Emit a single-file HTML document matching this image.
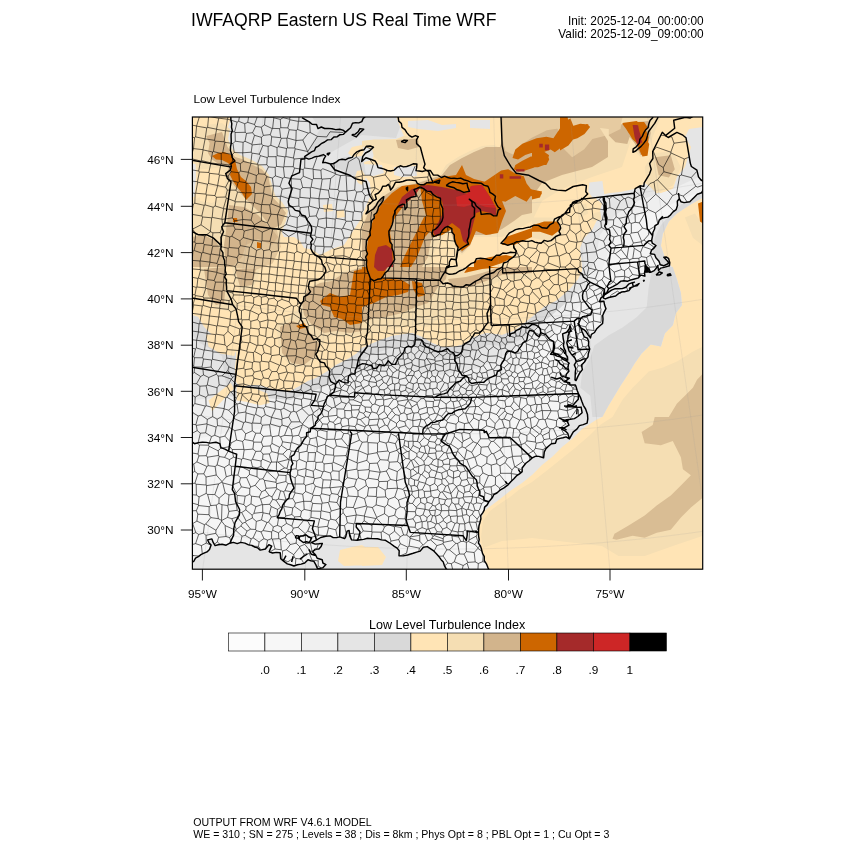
<!DOCTYPE html>
<html><head><meta charset="utf-8"><title>IWFAQRP Eastern US Real Time WRF</title>
<style>
html,body{margin:0;padding:0;background:#fff;}
svg{display:block;font-family:"Liberation Sans",sans-serif;fill:#000;}
</style></head><body>
<svg width="850" height="850" viewBox="0 0 850 850">
<rect width="850" height="850" fill="#fff"/>
<defs><clipPath id="mc"><rect x="192.4" y="117.0" width="510.3" height="452.2"/></clipPath></defs>
<g clip-path="url(#mc)">
<rect x="192.4" y="117.0" width="510.3" height="452.2" fill="#FFE4B5"/>
<defs><clipPath id="land"><path d="M187.1 562.9 L198.3 556.7 L209.5 549.5 L211.1 545.1 L207.7 539.9 L211.9 538.9 L215.1 545.6 L218.2 544.8 L229.8 543.2 L240.8 542.4 L248.6 544.9 L260.2 550.1 L265.4 549.0 L268.8 544.7 L271.7 546.2 L269.2 551.7 L276.2 552.4 L280.2 552.8 L280.7 558.7 L287.3 563.9 L297.4 564.8 L304.7 563.0 L308.0 559.8 L313.9 561.4 L317.5 568.7 L322.6 567.9 L325.9 564.6 L322.2 559.7 L317.2 558.2 L312.6 552.0 L318.9 549.0 L322.3 543.4 L315.2 544.1 L311.3 542.6 L316.5 540.0 L320.7 537.5 L325.8 536.3 L330.2 535.9 L336.7 537.5 L339.7 536.9 L344.6 538.6 L345.7 536.8 L347.1 531.1 L349.1 530.5 L349.8 535.9 L351.6 539.9 L357.1 540.2 L363.6 539.4 L371.6 538.6 L377.6 538.8 L385.5 540.3 L390.4 543.5 L394.3 546.4 L399.2 550.7 L399.0 555.8 L403.1 555.9 L407.5 555.0 L413.2 553.3 L420.2 551.1 L423.3 547.2 L427.3 546.6 L433.3 550.6 L439.3 557.1 L444.3 565.3 L446.3 569.2 L451.4 572.2 L453.4 581.5 L454.5 590.8 L498.5 590.1 L496.3 583.2 L489.9 571.8 L487.8 567.2 L482.5 553.4 L481.4 548.8 L479.2 539.6 L478.5 532.6 L479.0 525.7 L480.9 518.7 L482.7 512.9 L484.6 507.1 L488.8 501.8 L492.2 497.8 L496.9 493.0 L503.6 488.2 L508.3 484.6 L513.9 478.7 L519.5 473.9 L522.1 468.0 L525.8 463.3 L532.2 457.9 L538.8 456.4 L543.6 457.8 L544.3 452.0 L548.7 446.0 L556.8 439.3 L566.1 436.9 L569.4 438.9 L567.7 433.3 L561.8 429.1 L569.0 425.2 L563.1 421.0 L570.5 419.3 L577.8 416.5 L582.1 412.7 L581.1 407.1 L577.1 407.4 L565.9 407.0 L574.9 403.0 L578.3 399.3 L578.4 393.5 L576.1 386.8 L575.4 385.0 L569.9 385.0 L569.7 382.7 L564.2 381.9 L569.4 378.1 L565.7 377.2 L568.9 371.3 L568.4 364.4 L569.2 363.2 L562.6 359.1 L557.0 356.1 L550.6 354.2 L553.6 346.0 L553.5 341.4 L554.6 347.1 L553.2 352.9 L558.7 354.8 L567.7 360.1 L565.8 354.3 L563.4 345.3 L563.3 339.1 L562.6 333.9 L569.3 328.8 L570.0 325.4 L571.1 328.7 L568.1 335.8 L566.8 342.8 L568.0 347.3 L571.2 353.9 L575.1 358.2 L576.3 361.6 L575.3 372.0 L575.0 380.0 L576.0 380.6 L579.9 372.7 L584.5 362.0 L588.3 353.7 L589.7 349.0 L588.7 341.5 L584.2 336.8 L581.9 331.3 L578.7 324.7 L578.7 323.5 L580.8 328.0 L586.4 332.1 L590.5 337.9 L594.5 332.5 L599.3 326.3 L603.0 319.1 L604.1 312.1 L604.6 305.1 L603.9 301.3 L599.5 301.5 L600.9 297.9 L602.9 296.6 L603.9 292.6 L604.4 289.1 L604.5 293.7 L606.6 293.0 L608.7 288.6 L612.8 286.6 L617.7 283.8 L620.9 281.1 L630.3 280.1 L638.5 277.9 L644.5 276.0 L644.9 276.2 L645.1 269.5 L645.0 266.1 L647.1 269.3 L649.3 272.4 L650.6 272.3 L654.2 270.6 L657.8 265.5 L658.5 270.5 L664.1 267.4 L669.4 265.8 L669.8 262.7 L668.5 258.3 L666.1 257.0 L663.8 257.3 L667.2 260.8 L668.7 262.9 L667.1 264.2 L660.3 264.7 L659.0 261.2 L655.9 257.7 L654.6 254.4 L650.3 253.8 L651.5 250.2 L656.0 245.5 L652.3 243.2 L651.6 240.5 L652.6 235.7 L654.6 229.0 L658.1 223.9 L659.2 220.2 L664.7 217.6 L670.2 215.2 L676.1 209.7 L677.3 201.3 L679.3 198.7 L684.1 202.6 L689.8 201.7 L694.1 197.5 L701.6 192.7 L707.2 187.1 L707.1 184.8 L707.1 184.8 L705.6 182.7 L701.0 180.0 L698.5 176.9 L696.9 170.2 L691.4 166.5 L690.3 163.1 L686.0 137.7 L682.9 135.2 L676.9 132.4 L668.2 137.5 L665.5 135.6 L662.3 132.3 L652.7 151.5 L652.9 158.5 L649.6 163.6 L651.2 169.2 L649.5 174.1 L644.2 182.9 L643.8 186.4 L640.0 185.8 L635.2 188.7 L634.1 193.3 L634.1 193.3 L582.4 199.1 L582.4 199.1 L573.0 203.4 L565.6 213.2 L559.4 218.3 L557.1 221.2 L557.1 221.2 L559.9 225.1 L560.6 234.3 L555.7 236.5 L547.7 241.4 L537.8 242.7 L522.6 240.7 L513.6 243.4 L513.6 243.4 L513.8 247.8 L516.1 250.7 L516.5 252.3 L516.5 252.3 L512.5 257.7 L502.5 266.8 L496.8 269.7 L489.8 273.8 L481.7 277.4 L469.9 285.2 L459.6 286.9 L452.8 286.0 L451.1 284.2 L447.6 283.0 L439.9 280.3 L439.9 280.3 L442.5 275.5 L445.1 271.6 L446.8 266.6 L449.3 265.4 L451.0 259.0 L456.1 259.7 L456.6 255.5 L457.4 251.0 L456.0 244.1 L454.3 234.9 L451.8 228.7 L447.7 226.4 L442.7 229.9 L440.2 234.2 L433.6 236.7 L432.8 230.3 L437.8 226.9 L441.9 221.2 L442.8 213.1 L442.8 208.5 L440.7 203.9 L440.4 198.2 L433.2 194.7 L426.8 191.1 L420.0 186.9 L420.0 186.9 L414.0 189.7 L416.2 196.2 L411.3 197.2 L406.4 199.9 L407.0 206.8 L405.0 209.7 L404.7 204.4 L402.2 204.3 L398.1 206.5 L394.7 211.0 L394.9 212.6 L393.0 221.3 L390.7 228.1 L389.0 234.9 L392.1 244.6 L393.9 255.0 L392.2 263.7 L388.2 270.4 L381.0 278.8 L374.1 280.8 L370.4 278.7 L370.4 278.7 L369.0 274.5 L366.4 264.8 L366.7 260.2 L366.0 247.6 L369.9 231.7 L371.1 223.7 L374.0 214.7 L378.5 206.8 L383.8 196.7 L382.2 197.8 L376.1 205.6 L370.1 211.0 L365.9 213.8 L368.0 205.2 L373.1 200.8 L378.4 193.0 L382.7 186.3 L388.4 184.3 L390.6 190.1 L394.9 183.4 L395.7 182.2 L406.2 180.3 L415.8 180.5 L420.2 184.8 L420.2 184.8 L426.9 182.6 L433.3 182.7 L431.8 179.7 L430.2 176.2 L428.7 171.6 L426.3 170.4 L426.3 170.4 L422.3 171.5 L416.0 170.6 L416.9 164.0 L409.8 165.4 L400.3 165.8 L390.6 171.0 L384.3 169.1 L378.0 167.6 L375.2 161.0 L370.5 159.2 L365.9 157.7 L361.7 161.4 L362.8 156.4 L369.4 151.0 L373.5 147.3 L366.5 146.2 L360.0 150.5 L354.3 154.2 L348.5 158.2 L342.1 159.2 L330.6 164.0 L325.1 162.4 L322.7 162.7 L325.7 156.0 L323.4 154.6 L318.6 156.1 L308.8 159.1 L304.2 157.4 L304.2 156.8 L311.5 151.9 L318.4 146.1 L324.6 142.0 L333.9 137.0 L340.0 134.7 L345.6 132.1 L345.6 132.1 L339.7 129.3 L328.1 128.4 L318.0 128.6 L309.3 121.9 L302.0 117.7 L294.8 113.4 L279.8 109.3 L265.5 100.5 L234.2 84.1 L162.9 70.9 L54.9 577.2 L167.5 597.6 L182.1 569.2Z M603.0 297.9 L605.4 298.9 L615.6 296.0 L628.9 290.6 L639.1 283.6 L635.3 285.7 L629.5 288.2 L632.3 282.6 L625.9 287.2 L618.3 288.8 L611.5 290.2 L606.9 293.4 L604.5 294.8 L603.0 297.9Z"/></clipPath></defs>
<path d="M192.0 315.0 L198.0 317.0 L204.0 327.0 L212.0 335.0 L222.0 341.0 L232.0 347.0 L236.0 353.0 L235.0 367.0 L235.0 381.0 L240.0 387.0 L252.0 385.0 L258.0 385.0 L272.0 389.0 L288.0 392.0 L298.0 387.0 L308.0 381.0 L316.0 378.0 L328.0 371.0 L336.0 365.0 L348.0 359.0 L356.0 354.0 L362.0 348.0 L378.0 341.0 L392.0 336.0 L412.0 333.0 L422.0 337.0 L432.0 343.0 L442.0 347.0 L452.0 347.0 L462.0 345.0 L474.0 337.0 L486.0 333.0 L502.0 335.0 L514.0 331.0 L522.0 325.0 L532.0 317.0 L544.0 307.0 L556.0 301.0 L568.0 291.0 L578.0 279.0 L582.0 271.0 L582.0 267.0 L580.0 248.0 L584.0 238.0 L592.0 230.0 L598.0 218.0 L602.0 203.5 L596.0 199.0 L600.0 195.0 L610.0 193.0 L620.0 192.0 L630.0 190.0 L638.0 188.0 L644.7 183.0 L652.7 188.0 L660.8 193.5 L672.8 189.5 L676.9 177.0 L685.0 167.0 L691.0 147.0 L685.0 137.0 L689.0 129.0 L703.0 127.0 L703.0 197.5 L689.0 205.5 L677.0 213.5 L669.0 221.6 L663.0 233.7 L661.0 245.8 L665.0 258.0 L672.0 267.0 L677.0 279.0 L681.0 293.0 L682.0 305.0 L676.0 313.0 L673.0 325.0 L665.0 333.0 L661.0 346.5 L650.7 344.5 L641.7 353.5 L634.6 363.6 L628.6 373.6 L620.5 385.7 L614.5 395.8 L608.5 405.8 L602.0 417.0 L596.0 420.0 L582.0 429.0 L572.0 439.0 L562.0 447.0 L552.0 457.0 L542.0 465.0 L532.0 475.0 L522.0 483.0 L510.0 491.0 L500.0 499.0 L492.0 505.0 L484.0 511.0 L480.0 521.0 L478.4 537.0 L482.0 555.0 L489.0 569.0 L192.0 569.0Z M231.0 117.0 L228.0 127.0 L225.6 137.0 L227.0 147.0 L233.0 151.0 L235.0 157.0 L242.0 158.0 L250.0 162.0 L259.0 167.0 L266.4 174.0 L271.0 183.0 L270.0 191.0 L274.0 197.0 L280.0 203.0 L286.0 211.0 L282.4 221.0 L280.0 229.0 L284.0 237.0 L294.0 237.0 L300.0 241.0 L304.0 248.0 L312.0 249.4 L320.0 255.0 L332.0 249.0 L344.0 245.0 L353.0 231.0 L361.0 219.0 L366.0 206.0 L371.0 195.0 L370.0 183.0 L364.0 175.0 L364.0 162.0 L372.0 160.0 L375.0 152.0 L372.0 147.0 L362.0 141.0 L396.0 139.0 L404.0 136.0 L400.0 127.0 L396.0 117.0Z M192.0 163.4 L195.6 164.0 L196.0 177.0 L194.4 197.0 L192.0 197.0Z M362.0 164.0 L382.0 165.0 L384.0 173.0 L374.0 176.0 L362.0 175.0Z M394.0 167.0 L416.0 166.0 L417.0 176.0 L402.0 177.0 L394.0 175.0Z M408.0 121.0 L428.0 120.0 L442.0 125.0 L456.0 124.0 L456.0 128.0 L438.0 131.0 L418.0 129.0 L408.0 127.0Z M470.0 120.0 L490.0 120.0 L490.0 129.0 L470.0 128.0Z M598.4 375.6 L608.4 371.6 L616.5 373.6 L614.5 387.7 L606.4 399.8 L598.4 403.8 L595.4 391.7Z M589.3 182.4 L602.4 181.0 L604.4 195.5 L592.4 197.5 L588.3 191.4Z" fill="#E5E5E5"/>
<path d="M304.0 159.0 L316.0 156.0 L330.0 153.0 L344.0 145.0 L362.0 135.0 L396.0 138.0 L400.0 127.0 L396.0 117.0 L312.0 117.0 L320.0 129.0 L312.0 143.0Z M332.0 165.0 L362.0 181.0 L366.0 175.0 L364.0 162.0 L362.0 156.0 L344.0 157.0Z M192.0 315.0 L198.0 317.0 L204.0 327.0 L212.0 335.0 L222.0 341.0 L232.0 347.0 L236.0 353.0 L235.0 367.0 L235.0 381.0 L240.0 387.0 L252.0 385.0 L258.0 385.0 L272.0 389.0 L288.0 392.0 L298.0 387.0 L308.0 381.0 L316.0 378.0 L328.0 371.0 L336.0 365.0 L348.0 359.0 L356.0 354.0 L362.0 348.0 L378.0 341.0 L392.0 336.0 L412.0 333.0 L422.0 337.0 L432.0 343.0 L442.0 347.0 L452.0 347.0 L462.0 345.0 L474.0 337.0 L486.0 333.0 L502.0 335.0 L514.0 331.0 L522.0 325.0 L532.0 317.0 L544.0 307.0 L556.0 301.0 L568.0 291.0 L574.0 297.0 L560.0 310.0 L545.0 320.0 L532.0 330.0 L520.0 340.0 L505.0 346.0 L488.0 345.0 L476.0 350.0 L462.0 358.0 L448.0 360.0 L432.0 356.0 L420.0 349.0 L410.0 345.0 L392.0 348.0 L376.0 353.0 L362.0 360.0 L350.0 370.0 L338.0 378.0 L326.0 385.0 L312.0 392.0 L298.0 399.0 L286.0 404.0 L270.0 401.0 L255.0 397.0 L240.0 400.0 L228.0 395.0 L224.0 372.0 L222.0 356.0 L212.0 350.0 L200.0 343.0 L192.0 335.0Z M672.8 267.0 L676.8 279.1 L680.9 293.2 L681.9 305.2 L675.8 313.3 L672.8 325.3 L664.8 333.4 L660.8 346.5 L650.7 344.5 L641.6 353.5 L634.6 363.6 L628.6 373.6 L620.5 385.7 L614.5 395.8 L608.4 405.8 L602.4 417.1 L592.4 417.1 L590.3 395.8 L580.3 387.7 L582.3 371.6 L590.3 357.5 L594.4 345.5 L608.4 335.4 L622.5 327.4 L636.6 317.3 L646.7 307.2 L648.7 287.1 L652.7 267.0Z M703.0 197.5 L688.9 205.5 L676.8 213.6 L668.8 221.6 L662.8 233.7 L660.8 245.8 L664.8 257.8 L670.8 267.1 L656.7 267.1 L652.7 253.8 L654.7 237.7 L660.8 225.6 L670.8 213.6 L684.9 201.5 L703.0 191.4Z" fill="#D9D9D9"/>
<path d="M192.0 400.0 L240.0 396.0 L290.0 400.0 L330.0 385.0 L362.0 372.0 L400.0 368.0 L440.0 375.0 L480.0 368.0 L510.0 352.0 L535.0 330.0 L560.0 308.0 L580.0 290.0 L595.0 262.0 L600.0 235.0 L615.0 215.0 L640.0 200.0 L670.0 190.0 L703.0 175.0 L703.0 569.0 L192.0 569.0Z" fill="#EFEFEF" clip-path="url(#land)"/>
<path d="M192.0 440.0 L230.0 432.0 L270.0 428.0 L300.0 425.0 L330.0 415.0 L350.0 405.0 L362.0 398.0 L390.0 396.0 L420.0 402.0 L450.0 400.0 L480.0 392.0 L505.0 380.0 L525.0 362.0 L545.0 342.0 L565.0 322.0 L585.0 300.0 L598.0 280.0 L605.0 262.0 L612.0 240.0 L625.0 225.0 L640.0 215.0 L660.0 210.0 L680.0 200.0 L703.0 190.0 L703.0 569.0 L192.0 569.0Z" fill="#F5F5F5" clip-path="url(#land)"/>
<path d="M362.0 145.0 L352.0 147.0 L348.0 153.0 L352.0 157.0 L362.0 156.0 L364.0 151.0Z M362.0 170.0 L357.0 171.0 L355.0 177.0 L358.0 183.0 L362.0 185.0 L366.0 177.0Z M323.0 205.0 L332.0 204.0 L333.0 211.0 L324.0 212.0Z M336.0 211.0 L344.0 210.0 L345.0 217.0 L337.0 218.0Z M236.7 386.5 L253.2 387.6 L267.3 393.5 L269.6 402.9 L260.2 405.3 L246.1 401.8 L236.7 400.6Z M208.5 400.6 L220.2 391.2 L230.8 382.9 L233.9 388.8 L222.6 400.6 L212.0 411.2Z M206.1 334.7 L227.3 332.4 L236.7 344.1 L234.4 355.9 L220.2 353.5 L208.5 346.5Z" fill="#FFE4B5"/>
<path d="M703.0 346.5 L693.0 351.5 L677.0 361.6 L663.0 367.6 L648.7 371.6 L640.7 379.7 L632.6 387.7 L622.5 399.8 L612.5 417.0 L600.0 425.0 L590.0 435.0 L575.0 448.0 L560.0 460.0 L545.0 472.0 L532.0 482.0 L520.0 489.0 L510.0 497.0 L498.0 505.0 L490.0 511.0 L483.0 521.0 L481.0 537.0 L483.0 548.0 L502.0 541.0 L532.0 538.0 L602.0 546.0 L618.5 556.0 L644.7 556.0 L672.8 546.0 L703.0 535.7Z M196.0 129.0 L206.0 125.0 L222.0 123.0 L230.0 129.0 L228.0 139.0 L232.0 149.0 L240.0 155.0 L252.0 160.0 L262.0 166.0 L269.0 175.0 L272.0 185.0 L275.0 195.0 L282.0 202.0 L288.0 211.0 L286.0 221.0 L282.0 231.0 L280.0 245.0 L276.0 257.0 L262.0 267.0 L192.0 267.0 L192.0 201.0 L200.0 197.0 L198.0 177.0 L196.0 164.0 L192.0 162.0 L192.0 147.0 L195.0 137.0Z M362.0 141.0 L374.0 139.4 L396.0 139.4 L404.0 136.0 L418.0 138.0 L420.0 147.0 L422.0 157.0 L424.0 165.0 L414.0 166.0 L402.0 167.0 L382.0 162.6 L374.0 157.0 L372.0 149.0 L362.0 147.0Z M440.0 175.0 L446.0 165.0 L458.0 157.0 L470.0 151.0 L482.0 146.0 L494.0 145.0 L502.0 149.0 L502.0 117.0 L622.0 117.0 L632.0 137.0 L622.0 167.0 L592.0 177.0 L562.0 189.0 L542.0 201.0 L532.0 221.0 L518.0 229.0 L502.0 237.0 L490.0 237.0 L474.0 237.0 L470.0 247.0 L462.0 255.0 L456.0 249.0 L450.0 231.0 L444.0 237.0 L438.0 245.0 L432.0 257.0 L430.0 267.0 L362.0 267.0 L362.0 225.0 L370.0 207.0 L382.0 193.0 L398.0 185.0 L420.0 181.0Z M532.0 117.0 L652.7 117.0 L644.7 129.1 L636.6 141.1 L622.5 137.1 L608.4 134.1 L590.3 140.1 L583.3 149.2 L581.3 161.3 L572.2 168.3 L562.2 177.4 L552.1 176.3 L532.0 179.4Z M636.6 141.1 L644.7 129.1 L652.7 117.0 L660.8 117.0 L652.7 137.1 L646.7 153.2 L640.6 157.2 L632.6 149.2Z M532.0 217.6 L562.2 217.6 L564.2 233.7 L552.1 241.7 L532.0 237.7Z M652.7 153.2 L672.8 151.2 L680.9 167.3 L672.8 185.4 L656.7 193.4 L646.7 183.4 L644.7 167.3Z M684.9 217.6 L695.0 213.6 L703.0 225.6 L703.0 245.8 L692.9 237.7Z M578.3 205.5 L586.3 203.5 L588.3 213.6 L580.3 217.6Z M592.4 213.6 L600.4 211.6 L601.4 219.6 L592.4 221.6Z M200.0 267.0 L226.0 267.0 L228.0 279.0 L232.0 291.0 L238.0 307.0 L232.0 313.0 L216.0 307.0 L204.0 297.0 L200.0 283.0Z M232.0 267.0 L260.0 267.0 L258.0 279.0 L252.0 289.0 L240.0 291.0 L234.0 279.0Z M276.0 325.0 L288.0 319.0 L300.0 307.0 L304.0 291.0 L316.0 283.0 L332.0 279.0 L344.0 271.0 L362.0 267.0 L362.0 333.0 L352.0 337.0 L336.0 335.0 L320.0 343.0 L316.0 355.0 L308.0 367.0 L292.0 367.0 L280.0 355.0Z M362.0 267.0 L532.0 267.0 L532.0 279.0 L502.0 279.0 L490.0 287.0 L482.0 301.0 L474.0 313.0 L458.0 319.0 L446.0 315.0 L438.0 319.0 L428.0 327.0 L412.0 325.0 L392.0 329.0 L372.0 333.0 L362.0 335.0Z" fill="#F5DEB3"/>
<path d="M340.0 550.0 L352.0 547.0 L362.0 545.0 L368.0 549.0 L372.0 557.0 L368.0 565.0 L344.0 566.0 L338.0 561.0Z M362.0 547.0 L378.0 547.0 L386.0 557.0 L382.0 565.0 L362.0 566.0Z M199.0 169.4 L222.0 167.4 L225.6 177.0 L224.0 197.0 L212.0 203.0 L200.0 201.0Z" fill="#FFE4B5"/>
<path d="M206.0 136.0 L222.0 132.0 L227.6 147.0 L235.0 157.0 L242.0 159.0 L252.0 164.6 L262.0 169.4 L268.4 177.0 L270.4 187.0 L272.4 197.0 L280.0 205.0 L286.0 213.0 L281.0 225.0 L272.0 229.0 L260.0 213.0 L250.0 203.0 L240.0 193.0 L232.0 183.0 L226.0 175.0 L229.0 167.0 L218.0 163.4 L212.0 159.4 L208.0 153.0 L209.6 143.0Z M229.0 205.0 L244.0 207.0 L258.0 215.0 L272.0 229.0 L278.0 237.0 L272.0 245.0 L258.0 239.0 L246.0 245.0 L242.0 257.0 L232.0 267.0 L226.0 267.0 L224.0 245.0 L227.0 225.0Z M192.0 237.0 L204.0 235.0 L216.0 241.0 L222.0 253.0 L224.0 267.0 L192.0 267.0Z M442.0 175.0 L450.0 165.0 L462.0 158.0 L474.0 152.0 L486.0 147.0 L500.0 147.0 L502.0 141.0 L502.0 117.0 L582.0 117.0 L598.0 125.0 L608.0 141.0 L608.0 157.0 L592.0 167.0 L562.0 175.0 L542.0 183.0 L532.0 197.0 L532.0 213.0 L522.0 215.0 L514.0 221.0 L502.0 229.0 L490.0 235.0 L474.0 235.0 L470.0 245.0 L462.0 253.0 L456.0 247.0 L450.0 229.0 L442.0 235.0 L432.0 237.0 L430.0 245.0 L428.0 257.0 L422.0 267.0 L362.0 267.0 L362.0 229.0 L368.0 213.0 L382.0 197.0 L398.0 187.0 L418.0 183.0Z M396.0 140.0 L418.0 138.6 L419.0 147.0 L408.0 150.0 L398.0 148.0Z M572.2 117.0 L622.5 117.0 L620.5 125.0 L608.4 129.1 L592.4 127.1 L580.3 131.1 L572.2 127.1Z M622.5 123.0 L648.7 121.0 L650.7 133.1 L646.7 149.2 L640.6 155.2 L634.6 143.2 L626.6 133.1Z M654.7 157.2 L670.8 155.2 L674.8 169.3 L668.8 177.4 L658.7 175.3Z M204.0 269.0 L224.0 267.0 L226.0 283.0 L224.0 303.0 L216.0 305.0 L208.0 295.0Z M235.0 269.0 L256.0 269.0 L252.0 285.0 L240.0 287.0Z M280.0 327.0 L292.0 321.0 L304.0 325.0 L312.0 335.0 L320.0 345.0 L314.0 357.0 L304.0 365.0 L292.0 363.0 L282.0 353.0Z M302.0 303.0 L308.0 289.0 L320.0 283.0 L332.0 281.0 L344.0 273.0 L362.0 267.0 L362.0 331.0 L350.0 333.0 L336.0 331.0 L324.0 333.0 L312.0 325.0 L304.0 315.0Z M362.0 267.0 L448.0 267.0 L446.0 279.0 L438.0 287.0 L428.0 303.0 L416.0 307.0 L402.0 313.0 L386.0 317.0 L372.0 319.0 L362.0 323.0Z M448.0 279.0 L466.0 277.0 L482.0 273.0 L500.0 267.0 L532.0 267.0 L532.0 273.0 L502.0 275.0 L486.0 281.0 L470.0 287.0 L452.0 289.0Z M608.8 127.1 L623.9 123.7 L630.7 133.8 L627.3 143.9 L615.5 142.2 L608.8 135.5Z" fill="#D2B48C"/>
<path d="M225.9 225.4 L255.5 223.3 L276.7 229.6 L280.9 246.6 L272.5 263.5 L255.5 269.9 L234.4 267.8 L225.9 252.9Z" fill="#D2B48C" fill-opacity="0.6"/>
<path d="M703.0 373.6 L697.0 379.7 L692.9 387.7 L684.9 395.8 L676.8 403.8 L668.8 417.1 L703.0 417.1Z M654.7 417.0 L652.7 425.0 L641.6 432.1 L644.7 443.2 L660.8 445.2 L672.8 441.1 L680.9 457.2 L682.9 469.3 L690.9 475.3 L680.9 485.4 L670.8 495.5 L656.7 505.5 L644.7 515.6 L628.6 525.6 L614.5 533.7 L612.5 538.7 L616.5 539.7 L632.6 535.7 L644.7 537.7 L656.7 532.7 L670.8 529.7 L680.9 517.6 L690.9 507.5 L703.0 497.5 L703.0 417.0Z" fill="#D2B48C" fill-opacity="0.8"/>
<path d="M502.6 117.0 L560.0 117.0 L560.0 128.3 L546.8 130.2 L531.8 137.7 L520.5 145.2 L512.9 154.6 L505.4 150.9 L502.6 139.6Z M556.1 117.0 L622.5 117.0 L620.5 129.1 L608.4 135.1 L592.4 139.1 L584.3 149.2 L572.2 157.2 L562.2 147.2 L558.2 133.1Z" fill="#F5DEB3" fill-opacity="0.55"/>
<path d="M212.0 156.0 L218.0 153.0 L224.0 152.0 L231.0 155.0 L235.0 160.0 L237.0 169.0 L241.0 177.0 L246.0 181.0 L251.0 187.0 L252.0 194.0 L249.0 197.0 L246.0 200.0 L242.0 193.0 L237.0 187.0 L233.0 181.0 L230.0 175.0 L232.0 167.0 L228.0 163.0 L222.0 160.0 L216.0 159.4Z M233.0 218.0 L237.0 218.0 L237.6 222.0 L233.0 222.0Z M257.0 242.0 L261.0 243.0 L261.0 248.0 L257.0 248.0Z M418.0 184.0 L402.0 186.0 L392.0 193.0 L382.0 203.0 L374.0 217.0 L369.0 233.0 L367.0 247.0 L366.0 267.0 L392.0 267.0 L394.0 257.0 L392.0 245.0 L390.0 233.0 L392.0 223.0 L398.0 213.0 L406.0 203.0 L416.0 193.0 L421.0 187.0Z M442.0 177.0 L456.0 175.0 L462.0 165.0 L466.0 175.0 L474.0 179.0 L490.0 183.0 L500.0 183.0 L502.0 201.0 L506.0 211.0 L502.0 221.0 L498.0 233.0 L486.0 235.0 L476.0 231.0 L470.0 245.0 L462.0 251.0 L456.0 245.0 L452.0 229.0 L442.0 235.0 L432.0 237.0 L430.0 229.0 L422.0 201.0 L420.0 185.0Z M424.0 217.0 L432.0 214.0 L436.0 221.0 L432.0 229.0 L425.0 237.0 L421.0 247.0 L417.0 257.0 L411.0 267.0 L400.0 267.0 L405.0 255.0 L410.0 245.0 L418.0 229.0Z M506.0 237.0 L532.0 228.0 L532.0 237.0 L514.0 245.0 L502.0 245.0Z M474.0 261.0 L490.0 257.0 L506.0 255.0 L514.0 257.0 L502.0 263.0 L490.0 267.0 L474.0 267.0Z M622.5 123.0 L636.6 121.0 L644.7 127.1 L648.7 137.1 L646.7 151.2 L641.6 155.2 L636.6 143.2 L628.6 133.1Z M532.0 189.4 L542.1 191.4 L540.0 197.5 L532.0 199.5Z M532.0 225.6 L544.1 221.6 L558.2 221.6 L560.2 229.7 L552.1 235.7 L540.0 231.7 L532.0 231.7Z M698.0 203.5 L703.0 201.5 L703.0 223.6 L700.0 221.6Z M320.0 301.0 L330.0 293.0 L340.0 297.0 L350.0 295.0 L354.0 271.0 L362.0 269.0 L362.0 323.0 L350.0 325.0 L342.0 319.0 L334.0 317.0 L330.0 307.0 L322.0 305.0Z M296.0 326.0 L304.0 323.0 L307.0 327.0 L300.0 329.0Z M362.0 267.0 L387.0 267.0 L383.0 278.0 L402.0 280.0 L410.0 285.0 L408.0 292.0 L398.0 295.0 L386.0 297.0 L374.0 303.0 L362.0 307.0Z M412.0 281.0 L422.0 283.0 L425.0 295.0 L418.0 297.0 L413.0 289.0Z M464.0 273.0 L482.0 269.0 L502.0 267.0 L468.0 267.0Z M512.5 157.9 L515.3 149.5 L522.4 143.8 L536.5 138.2 L546.4 136.8 L553.4 138.2 L559.1 129.7 L564.7 121.2 L570.4 118.4 L573.2 125.5 L570.4 133.9 L564.7 139.6 L560.5 148.1 L554.8 152.3 L550.6 149.5 L543.5 152.3 L533.6 152.3 L525.2 155.1 L518.1 159.4Z M571.8 135.4 L578.8 126.9 L587.3 124.1 L590.1 126.9 L584.5 133.9 L577.4 138.2 L573.2 139.6Z M513.9 169.2 L515.3 165.0 L522.4 160.8 L530.8 156.5 L540.7 154.4 L547.8 155.1 L549.2 159.4 L546.4 165.0 L539.3 165.0 L533.6 167.8 L525.2 170.6 L518.1 171.4Z M484.2 181.9 L492.7 176.3 L501.2 170.6 L508.2 169.2 L515.3 173.5 L523.8 176.3 L526.6 183.4 L530.8 189.0 L542.1 193.2 L539.3 197.5 L530.8 196.1 L526.6 201.7 L515.3 196.1 L505.4 201.7 L498.4 200.3 L494.1 196.1 L488.5 187.6Z M532.0 151.2 L542.1 150.2 L549.1 155.2 L546.1 164.3 L538.0 167.3 L532.0 167.3Z M560.0 117.0 L567.6 117.0 L569.3 127.1 L580.2 123.7 L588.6 124.6 L583.6 133.8 L573.5 138.9 L568.4 145.6 L560.0 150.6Z M622.2 123.7 L630.7 122.0 L644.1 122.0 L647.5 127.1 L644.1 135.5 L649.2 143.9 L647.5 155.7 L642.4 156.5 L639.1 145.6 L632.3 138.9 L627.3 130.5Z" fill="#CD6600"/>
<path d="M420.0 186.0 L428.0 185.0 L442.0 187.0 L456.0 190.0 L468.0 194.0 L471.0 186.0 L482.0 185.0 L490.0 197.0 L496.4 209.0 L496.0 216.0 L490.0 213.0 L482.0 211.0 L476.0 213.0 L474.0 221.0 L471.0 233.0 L467.0 244.0 L463.0 241.0 L460.0 229.0 L452.0 223.0 L444.0 229.0 L436.0 237.0 L433.0 232.0 L439.0 221.0 L444.0 211.0 L442.0 201.0 L436.0 195.0 L426.0 191.0Z M398.0 205.0 L402.0 197.0 L412.0 189.0 L420.0 187.0 L416.0 194.0 L406.0 203.0 L401.0 208.0Z M374.0 267.0 L375.0 255.0 L378.0 247.0 L386.0 245.0 L392.0 249.0 L393.0 267.0Z M632.6 125.0 L637.6 125.0 L641.6 139.1 L637.6 145.2 L634.6 137.1Z M374.0 267.0 L388.0 267.0 L384.0 271.0 L378.0 271.0Z M539.3 143.8 L542.8 143.8 L542.8 147.4 L539.3 147.4Z M544.9 144.5 L549.2 144.5 L549.2 150.2 L544.9 150.2Z M499.8 174.2 L503.3 174.2 L503.3 178.4 L499.8 178.4Z M509.6 176.3 L520.9 176.3 L520.9 178.8 L509.6 178.8Z M516.0 169.2 L524.5 169.2 L524.5 171.4 L516.0 171.4Z M634.0 125.4 L638.2 125.4 L639.9 135.5 L642.4 142.2 L639.1 143.9 L635.7 135.5Z" fill="#A52A2A"/>
<path d="M457.0 206.0 L456.0 197.0 L467.0 194.0 L471.0 186.0 L482.0 185.0 L490.0 197.0 L496.0 208.0 L486.0 207.0 L480.0 205.0 L474.0 201.0 L470.0 205.0 L464.0 207.0Z" fill="#CD2626"/>
<path d="M91.3 608.4 L95.7 585.4 L100.0 562.5 L104.4 539.7 L108.7 516.9 L113.1 494.2 L117.4 471.6 L121.7 449.0 L126.0 426.4 L130.3 403.9 L134.5 381.4 L138.8 358.9 L143.1 336.4 L147.4 314.0 L151.6 291.5 L155.9 269.1 L160.2 246.6 L164.5 224.1 L168.8 201.6 L173.1 179.0 L177.4 156.4 L181.7 133.8 L186.0 111.1 L190.4 88.3 L194.7 65.4 M195.2 625.2 L198.4 602.0 L201.4 578.9 L204.5 555.9 L207.6 532.9 L210.7 510.0 L213.7 487.2 L216.8 464.4 L219.8 441.6 L222.9 418.9 L225.9 396.2 L229.0 373.5 L232.0 350.8 L235.0 328.2 L238.1 305.5 L241.1 282.9 L244.1 260.2 L247.2 237.5 L250.2 214.8 L253.3 192.0 L256.3 169.2 L259.4 146.4 L262.5 123.4 L265.5 100.5 L268.6 77.4 M300.0 636.3 L301.8 613.0 L303.6 589.8 L305.4 566.6 L307.2 543.5 L309.0 520.5 L310.8 497.5 L312.6 474.5 L314.4 451.6 L316.2 428.8 L318.0 406.0 L319.8 383.1 L321.6 360.3 L323.3 337.6 L325.1 314.8 L326.9 292.0 L328.7 269.2 L330.5 246.3 L332.3 223.5 L334.1 200.6 L335.9 177.6 L337.7 154.7 L339.5 131.6 L341.3 108.5 L343.1 85.3 M405.1 641.6 L405.7 618.3 L406.2 595.0 L406.7 571.7 L407.3 548.6 L407.8 525.5 L408.3 502.4 L408.9 479.4 L409.4 456.5 L409.9 433.5 L410.5 410.6 L411.0 387.8 L411.5 364.9 L412.0 342.1 L412.6 319.2 L413.1 296.3 L413.6 273.5 L414.2 250.6 L414.7 227.7 L415.2 204.7 L415.7 181.7 L416.3 158.6 L416.8 135.5 L417.3 112.4 L417.9 89.1 M510.4 641.2 L509.7 617.8 L508.9 594.5 L508.2 571.3 L507.4 548.1 L506.7 525.0 L506.0 502.0 L505.2 479.0 L504.5 456.0 L503.8 433.1 L503.0 410.2 L502.3 387.4 L501.6 364.5 L500.8 341.7 L500.1 318.8 L499.4 296.0 L498.7 273.1 L497.9 250.2 L497.2 227.3 L496.5 204.3 L495.7 181.3 L495.0 158.3 L494.3 135.2 L493.5 112.0 L492.8 88.8 M615.5 634.9 L613.5 611.6 L611.5 588.4 L609.4 565.3 L607.4 542.2 L605.4 519.2 L603.4 496.2 L601.4 473.3 L599.4 450.4 L597.4 427.6 L595.4 404.7 L593.5 381.9 L591.5 359.2 L589.5 336.4 L587.5 313.6 L585.5 290.8 L583.5 268.0 L581.6 245.2 L579.6 222.4 L577.6 199.5 L575.6 176.6 L573.6 153.6 L571.6 130.6 L569.5 107.5 L567.5 84.3 M720.1 622.9 L716.8 599.7 L713.5 576.7 L710.2 553.7 L706.9 530.7 L703.7 507.9 L700.4 485.0 L697.2 462.3 L693.9 439.5 L690.7 416.8 L687.4 394.2 L684.2 371.5 L681.0 348.9 L677.7 326.2 L674.5 303.6 L671.3 281.0 L668.0 258.3 L664.8 235.7 L661.5 213.0 L658.3 190.2 L655.0 167.5 L651.8 144.6 L648.5 121.8 L645.2 98.8 L641.9 75.8 M823.9 605.1 L819.3 582.2 L814.8 559.3 L810.2 536.6 L805.7 513.8 L801.2 491.2 L796.6 468.6 L792.1 446.0 L787.6 423.5 L783.2 401.0 L778.7 378.6 L774.2 356.1 L769.7 333.7 L765.3 311.3 L760.8 288.9 L756.3 266.4 L751.8 244.0 L747.3 221.5 L742.9 199.1 L738.4 176.5 L733.9 154.0 L729.4 131.4 L724.8 108.7 L720.3 86.0 L715.7 63.1 M45.1 623.0 L66.0 627.3 L86.9 631.4 L107.9 635.3 L128.9 638.9 L149.9 642.4 L171.0 645.5 L192.1 648.5 L213.3 651.2 L234.5 653.7 L255.7 655.9 L276.9 657.9 L298.1 659.7 L319.4 661.3 L340.7 662.6 L362.0 663.7 L383.3 664.5 L404.6 665.1 L425.9 665.5 L447.2 665.6 L468.5 665.5 L489.8 665.2 L511.2 664.6 L532.5 663.8 L553.7 662.8 L575.0 661.5 L596.3 660.0 L617.5 658.3 L638.8 656.3 L660.0 654.1 L681.2 651.7 L702.3 649.0 L723.4 646.1 L744.5 643.0 L765.6 639.6 L786.6 636.1 L807.6 632.2 L828.5 628.2 L849.4 623.9 L870.2 619.4 M69.4 509.0 L89.1 513.0 L108.7 516.9 L128.4 520.5 L148.2 524.0 L168.0 527.2 L187.8 530.2 L207.6 532.9 L227.5 535.5 L247.4 537.8 L267.3 539.9 L287.3 541.8 L307.2 543.5 L327.2 544.9 L347.2 546.2 L367.2 547.2 L387.2 548.0 L407.3 548.6 L427.3 548.9 L447.3 549.0 L467.4 549.0 L487.4 548.7 L507.4 548.1 L527.5 547.4 L547.5 546.4 L567.5 545.2 L587.5 543.8 L607.4 542.2 L627.4 540.3 L647.3 538.3 L667.2 536.0 L687.1 533.5 L706.9 530.7 L726.8 527.8 L746.5 524.6 L766.3 521.3 L786.0 517.7 L805.7 513.8 L825.3 509.8 L844.9 505.6 M93.5 396.4 L111.8 400.3 L130.3 403.9 L148.7 407.3 L167.2 410.5 L185.7 413.5 L204.3 416.3 L222.9 418.9 L241.5 421.3 L260.1 423.5 L278.8 425.4 L297.5 427.2 L316.2 428.8 L334.9 430.1 L353.7 431.3 L372.4 432.3 L391.2 433.0 L409.9 433.5 L428.7 433.9 L447.5 434.0 L466.2 433.9 L485.0 433.6 L503.8 433.1 L522.5 432.4 L541.3 431.5 L560.0 430.4 L578.7 429.1 L597.4 427.6 L616.1 425.8 L634.8 423.9 L653.4 421.7 L672.1 419.4 L690.7 416.8 L709.2 414.1 L727.8 411.1 L746.3 408.0 L764.7 404.6 L783.2 401.0 L801.5 397.2 L819.9 393.3 M117.3 284.6 L134.5 288.2 L151.6 291.5 L168.9 294.7 L186.1 297.7 L203.4 300.5 L220.7 303.1 L238.1 305.5 L255.4 307.8 L272.8 309.8 L290.2 311.7 L307.7 313.3 L325.1 314.8 L342.6 316.0 L360.1 317.1 L377.6 318.0 L395.1 318.7 L412.6 319.2 L430.1 319.5 L447.6 319.6 L465.1 319.5 L482.6 319.3 L500.1 318.8 L517.6 318.2 L535.1 317.3 L552.6 316.3 L570.1 315.0 L587.5 313.6 L604.9 312.0 L622.4 310.2 L639.8 308.2 L657.1 306.0 L674.5 303.6 L691.8 301.0 L709.1 298.3 L726.4 295.3 L743.6 292.2 L760.8 288.9 L777.9 285.3 L795.0 281.6 M141.2 172.6 L157.1 175.9 L173.1 179.0 L189.1 182.0 L205.1 184.7 L221.1 187.3 L237.2 189.8 L253.3 192.0 L269.4 194.1 L285.5 196.0 L301.7 197.7 L317.9 199.2 L334.1 200.6 L350.3 201.8 L366.5 202.8 L382.7 203.6 L399.0 204.2 L415.2 204.7 L431.5 205.0 L447.7 205.1 L464.0 205.0 L480.2 204.8 L496.5 204.3 L512.7 203.7 L528.9 202.9 L545.2 202.0 L561.4 200.8 L577.6 199.5 L593.7 198.0 L609.9 196.3 L626.1 194.5 L642.2 192.5 L658.3 190.2 L674.4 187.9 L690.4 185.3 L706.4 182.5 L722.4 179.6 L738.4 176.5 L754.3 173.3 L770.2 169.8 M165.3 59.5 L180.0 62.5 L194.7 65.4 L209.4 68.2 L224.2 70.7 L239.0 73.1 L253.8 75.3 L268.6 77.4 L283.5 79.3 L298.4 81.1 L313.3 82.6 L328.2 84.1 L343.1 85.3 L358.0 86.4 L373.0 87.3 L387.9 88.1 L402.9 88.7 L417.9 89.1 L432.9 89.4 L447.8 89.5 L462.8 89.4 L477.8 89.2 L492.8 88.8 L507.7 88.2 L522.7 87.5 L537.7 86.6 L552.6 85.5 L567.5 84.3 L582.4 82.9 L597.3 81.4 L612.2 79.7 L627.1 77.8 L641.9 75.8 L656.7 73.6 L671.5 71.2 L686.3 68.7 L701.0 66.0 L715.7 63.1 L730.4 60.1 L745.1 57.0" fill="none" stroke="#9a9a9a" stroke-opacity="0.3" stroke-width="0.5"/>
<g clip-path="url(#land)"><path d="M200.3 269.6L190.8 268.8M200.3 269.6L200.0 261.0M190.8 268.8L192.7 260.4M192.7 260.4L200.0 261.0M653.9 133.9L671.8 136.9M229.1 300.6L221.6 299.7M229.1 300.6L228.3 309.4M228.3 309.4L219.8 308.5M219.6 308.3L219.8 308.5M219.6 308.3L220.6 300.4M220.6 300.4L221.6 299.7M189.6 113.1L189.3 113.3M695.8 186.3L683.2 196.0M695.8 186.3L697.6 187.1M687.7 202.8L683.2 196.0M691.2 177.6L696.6 171.6M691.2 177.6L695.8 186.3M707.8 183.6L697.6 187.1M691.2 177.6L681.4 175.0M676.5 194.0L683.2 196.0M676.5 194.0L679.6 175.9M679.6 175.9L681.4 175.0M684.3 159.0L681.4 175.0M684.3 159.0L689.4 157.0M676.5 194.0L672.7 195.5M676.7 213.9L667.1 204.3M672.7 195.5L667.1 204.3M674.0 143.2L671.8 136.9M674.0 143.2L688.0 141.3M188.4 535.6L188.7 542.0M402.0 319.1L408.0 320.1M402.0 319.1L400.4 325.8M400.4 325.8L401.4 326.8M401.4 326.8L408.1 325.7M408.1 325.7L408.0 320.1M187.9 452.2L188.7 443.8M619.0 262.3L608.3 266.1M619.0 262.3L621.5 269.5M621.5 269.5L614.2 272.1M614.2 272.1L608.2 266.8M608.2 266.8L608.3 266.1M561.5 313.3L556.2 309.1M561.5 313.3L564.6 310.0M566.4 302.4L564.6 310.0M566.4 302.4L565.3 301.7M558.7 301.4L565.3 301.7M558.7 301.4L557.0 303.7M557.0 303.7L556.2 309.1M578.4 293.5L580.4 302.0M578.4 293.5L573.8 291.5M573.8 291.5L572.4 292.2M572.4 292.2L570.6 302.1M580.4 302.0L572.2 302.9M572.2 302.9L570.6 302.1M582.6 291.0L578.4 293.5M582.6 291.0L579.9 283.9M579.9 283.9L575.6 283.2M575.6 283.2L575.3 283.4M575.3 283.4L573.8 291.5M566.4 302.4L570.6 302.1M564.6 310.0L571.2 311.5M572.8 309.8L571.2 311.5M572.8 309.8L572.2 302.9M561.5 313.3L561.8 316.6M556.2 309.1L548.4 311.6M548.4 311.6L555.1 319.5M555.1 319.5L561.8 316.6M438.2 280.0L438.2 285.4M438.2 280.0L439.3 278.9M445.1 286.5L446.4 279.8M445.1 286.5L439.3 286.4M438.2 285.4L439.3 286.4M517.0 242.2L525.2 249.5M525.2 249.5L528.1 247.5M528.0 237.8L528.1 247.5M548.9 247.0L546.1 252.9M548.9 247.0L555.2 243.5M558.0 255.6L555.2 243.5M558.0 255.6L548.9 256.7M548.9 256.7L546.1 252.9M445.1 286.5L446.5 288.0M446.5 288.0L453.6 286.8M212.6 298.2L213.8 290.4M212.6 298.2L220.6 300.4M222.0 291.2L221.6 299.7M222.0 291.2L213.8 290.3M213.8 290.3L213.8 290.4M198.4 278.1L200.6 270.0M198.4 278.1L206.4 280.5M206.4 280.5L207.7 279.6M207.7 279.6L208.1 270.8M200.6 270.0L207.9 270.5M207.9 270.5L208.1 270.8M190.5 269.0L190.8 268.8M190.5 269.0L190.0 276.9M200.3 269.6L200.6 270.0M197.9 278.4L190.0 276.9M197.9 278.4L198.4 278.1M245.0 279.7L252.7 279.6M245.0 279.7L244.8 279.3M253.6 272.7L246.0 271.6M253.6 272.7L253.8 272.9M253.8 272.9L252.7 279.6M244.8 279.3L246.0 271.6M226.0 264.8L226.1 264.9M226.0 264.8L226.4 257.1M226.1 264.9L235.3 266.5M235.3 266.5L237.8 262.2M237.1 257.6L227.9 255.8M237.1 257.6L237.8 262.2M226.4 257.1L227.9 255.8M217.3 325.6L216.8 326.0M217.3 325.6L228.2 327.2M216.8 326.0L216.1 334.2M216.1 334.2L224.0 335.3M224.0 335.3L227.9 331.3M227.9 331.3L228.2 327.2M208.6 324.3L216.8 326.0M208.6 324.3L209.5 316.0M218.7 317.0L209.5 316.0M218.7 317.0L217.3 325.6M191.0 321.7L199.1 323.9M191.0 321.7L188.8 329.3M188.8 329.3L189.6 330.7M189.6 330.7L198.4 331.9M198.4 331.9L199.1 323.9M201.2 314.6L199.7 323.5M201.2 314.6L209.5 315.9M208.6 324.3L208.5 324.4M209.5 315.9L209.5 316.0M208.5 324.4L199.7 323.5M190.7 321.1L191.0 321.7M189.9 277.0L188.7 285.0M203.1 305.4L203.9 298.0M203.1 305.4L210.8 307.7M210.8 307.7L211.3 307.4M211.3 307.4L212.5 298.2M212.5 298.2L203.9 298.0M218.7 317.0L218.8 316.9M218.8 316.9L219.8 308.5M209.5 315.9L210.8 307.7M219.6 308.3L211.3 307.4M212.6 298.2L212.5 298.2M201.1 314.5L192.7 313.4M201.1 314.5L202.3 306.0M202.3 306.0L193.7 304.9M193.7 304.9L192.2 312.6M192.7 313.4L192.2 312.6M201.2 314.6L201.1 314.5M190.7 321.1L192.7 313.4M199.7 323.5L199.1 323.9M203.1 305.4L202.3 306.0M193.2 304.1L193.7 304.9M193.2 304.1L185.9 302.7M192.7 260.4L192.3 260.1M200.0 261.0L200.2 260.9M192.3 260.1L192.9 251.3M200.2 260.9L201.8 253.1M201.8 253.1L194.1 250.5M192.9 251.3L194.1 250.5M204.9 236.0L203.3 243.4M204.9 236.0L195.8 233.8M203.3 243.4L195.8 243.4M195.8 233.8L194.8 242.0M194.8 242.0L195.8 243.4M212.0 245.5L212.9 232.8M212.0 245.5L204.2 244.6M204.2 244.6L203.3 243.4M212.9 232.8L210.6 231.8M210.6 231.8L204.9 236.0M204.2 244.6L202.9 252.4M202.9 252.4L201.8 253.1M194.1 250.5L195.8 243.4M192.9 229.5L188.8 232.2M192.9 229.5L195.8 233.8M186.5 241.6L194.8 242.0M185.8 249.7L192.9 251.3M211.1 254.0L219.4 255.2M211.1 254.0L210.4 254.5M210.4 254.5L209.9 262.1M219.6 255.4L219.4 255.2M219.6 255.4L217.0 263.4M217.0 263.4L210.0 262.2M210.0 262.2L209.9 262.1M212.7 246.2L220.2 246.2M212.7 246.2L211.1 254.0M220.2 246.2L220.5 246.5M220.5 246.5L219.4 255.2M212.0 245.5L212.7 246.2M202.9 252.4L210.4 254.5M200.2 260.9L209.9 262.1M228.2 248.3L227.9 255.8M228.2 248.3L220.5 246.5M226.4 257.1L219.6 255.4M217.9 264.4L226.0 264.8M217.9 264.4L217.0 263.4M207.9 270.5L210.0 262.2M208.1 270.8L216.8 272.3M217.9 264.4L216.8 272.3M309.7 121.7L298.7 121.2M299.4 111.3L298.7 121.2M258.7 173.8L258.0 164.9M258.7 173.8L264.9 174.3M264.9 174.3L268.5 166.9M258.0 164.9L266.8 164.7M266.8 164.7L268.5 166.9M229.2 247.5L238.6 248.3M229.2 247.5L228.2 248.3M237.1 257.6L239.0 254.2M239.0 254.2L238.6 248.3M235.3 266.5L236.2 270.5M237.8 262.2L246.8 263.8M236.2 270.5L245.9 271.5M245.9 271.5L246.8 263.8M246.8 263.8L246.8 263.8M308.5 309.3L307.6 310.0M308.5 309.3L315.7 309.6M315.7 309.6L315.7 317.4M315.7 317.4L308.4 315.9M308.4 315.9L307.6 310.0M309.3 302.4L308.5 309.3M309.3 302.4L312.8 301.0M315.7 309.6L319.8 305.6M312.8 301.0L319.8 305.6M245.0 279.7L244.4 286.6M252.7 279.6L253.5 280.7M244.4 286.6L252.1 287.9M253.5 280.7L252.1 287.9M244.2 286.8L243.4 295.1M244.2 286.8L234.7 286.1M243.4 295.1L233.5 294.9M234.7 286.1L232.8 293.0M232.8 293.0L233.5 294.9M244.4 296.1L243.4 295.1M244.4 296.1L251.2 295.4M251.2 295.4L252.2 287.9M244.4 286.6L244.2 286.8M252.1 287.9L252.2 287.9M223.1 290.4L232.8 293.0M223.1 290.4L222.0 291.2M232.7 297.9L233.5 294.9M232.7 297.9L229.1 300.6M218.8 316.9L230.2 319.2M228.3 309.4L230.9 312.1M230.2 319.2L230.9 312.1M229.7 325.2L230.3 319.5M229.7 325.2L228.2 327.2M230.2 319.2L230.3 319.5M277.7 301.5L274.0 298.2M277.7 301.5L281.9 299.4M274.0 298.2L274.9 291.3M281.9 299.4L282.1 291.6M274.9 291.3L275.4 290.9M282.1 291.6L275.4 290.9M268.1 304.9L267.9 313.1M268.1 304.9L276.2 306.2M267.9 313.1L274.9 311.6M276.2 306.2L274.9 311.6M250.4 310.6L258.8 314.6M250.4 310.6L254.0 304.5M260.2 305.9L254.0 304.5M260.2 305.9L261.7 312.5M261.7 312.5L258.8 314.6M264.3 352.8L270.9 354.4M264.3 352.8L262.5 345.5M262.5 345.5L264.7 344.2M264.7 344.2L271.0 347.4M271.0 347.4L270.9 354.4M264.3 352.8L261.5 355.2M261.5 355.2L261.5 361.2M269.9 361.1L271.8 355.6M269.9 361.1L268.8 362.1M270.9 354.4L271.8 355.6M268.8 362.1L261.5 361.2M224.1 361.6L212.5 359.3M224.1 361.6L216.4 373.3M211.1 367.0L216.4 373.3M211.1 367.0L211.7 360.0M211.7 360.0L212.5 359.3M208.2 395.2L206.1 385.8M208.2 395.2L216.8 394.3M217.1 387.8L216.8 394.3M217.1 387.8L207.2 385.0M207.2 385.0L206.1 385.8M216.4 374.2L208.8 377.5M216.4 374.2L218.2 376.0M218.2 376.0L219.2 384.8M219.2 384.8L217.1 387.8M208.8 377.5L207.2 385.0M212.6 407.5L206.1 405.7M212.6 407.5L213.7 407.0M213.7 407.0L217.3 394.9M217.3 394.9L216.8 394.3M208.2 395.2L205.8 397.3M205.8 397.3L206.1 405.7M212.6 407.5L212.7 416.6M212.7 416.6L207.3 419.4M207.3 419.4L201.1 415.1M201.1 415.1L205.4 406.1M205.4 406.1L206.1 405.7M211.1 367.0L202.8 367.9M216.4 374.2L216.4 373.3M208.8 377.5L203.5 374.9M203.5 374.9L202.8 367.9M211.7 360.0L203.5 359.0M203.5 359.0L202.0 367.1M202.8 367.9L202.0 367.1M206.1 385.8L199.9 386.2M200.6 376.5L203.5 374.9M200.6 376.5L196.6 383.7M196.6 383.7L199.9 386.2M205.8 397.3L199.4 394.8M199.9 386.2L199.4 394.8M205.4 406.1L194.9 403.6M194.9 403.6L195.2 397.0M199.4 394.8L195.2 397.0M187.9 338.6L189.6 330.7M356.3 154.9L356.4 157.2M348.5 161.8L356.4 157.2M364.8 146.2L356.3 154.9M309.7 121.7L310.2 132.5M330.0 131.8L326.7 136.9M326.7 136.9L317.5 136.4M317.5 136.4L310.2 132.5M373.3 164.3L369.2 158.6M372.4 149.6L364.8 146.2M356.4 157.2L359.0 159.3M210.7 162.8L212.6 152.0M210.7 162.8L201.3 160.5M201.3 160.5L203.1 149.9M212.6 152.0L203.1 149.9M189.6 113.1L199.8 115.3M200.1 115.1L199.8 115.3M185.7 136.2L194.6 137.6M187.7 125.1L188.9 124.5M188.9 124.5L196.6 126.0M196.6 126.1L196.6 126.0M196.6 126.1L195.6 136.9M194.6 137.6L195.6 136.9M183.9 145.7L193.5 148.5M193.5 148.5L194.6 137.6M189.3 113.3L188.9 124.5M199.8 115.3L196.6 126.0M205.1 138.9L195.6 136.9M205.1 138.9L205.1 138.9M205.1 138.9L206.8 127.9M206.8 127.9L196.6 126.1M205.1 138.9L203.0 149.7M203.0 149.7L193.6 148.6M193.5 148.5L193.6 148.6M674.0 143.2L670.8 152.2M670.8 152.2L656.4 147.1M684.3 159.0L671.1 153.0M670.8 152.2L671.1 153.0M653.2 151.0L656.4 147.1M658.6 164.5L663.3 167.6M657.5 179.8L655.4 180.7M657.5 179.8L663.8 171.7M663.8 171.7L663.3 167.6M653.2 151.0L658.6 164.5M671.1 153.0L663.3 167.6M679.6 175.9L663.8 171.7M672.7 195.5L657.5 179.8M648.5 234.8L649.2 229.8M649.2 229.8L657.9 224.3M666.9 204.3L667.1 204.3M666.9 204.3L655.5 212.9M657.9 224.3L655.5 212.9M642.9 246.5L641.3 241.8M642.9 246.5L651.9 249.7M653.8 246.9L651.9 249.7M653.8 246.9L643.9 240.1M643.9 240.1L641.6 241.3M641.6 241.3L641.3 241.8M648.5 234.8L643.9 240.1M657.0 244.5L653.8 246.9M637.9 232.2L642.6 228.1M637.9 232.2L641.6 241.3M649.2 229.8L642.6 228.1M621.5 269.5L624.5 270.6M614.2 272.1L615.1 277.0M624.5 270.6L624.7 276.3M615.1 277.0L624.7 276.3M628.7 267.7L632.6 274.5M628.7 267.7L624.5 270.6M632.6 274.5L628.8 277.6M628.8 277.6L624.9 276.7M624.9 276.7L624.7 276.3M634.4 289.9L634.2 282.8M627.7 290.3L626.1 286.0M628.8 277.6L632.0 282.4M622.8 284.2L624.9 276.7M639.1 275.6L632.6 274.5M398.9 166.5L403.9 175.0M415.1 166.1L411.1 175.2M403.9 175.0L411.1 175.2M188.7 542.0L191.7 544.7M190.2 551.3L191.7 544.7M341.6 438.8L348.0 446.3M341.6 438.8L335.2 439.7M335.2 439.7L336.5 445.9M336.5 445.9L347.7 448.0M347.7 448.0L348.0 446.3M424.4 300.8L424.3 294.4M424.4 300.8L423.8 301.4M424.3 294.4L417.7 293.7M423.8 301.4L417.4 301.4M417.7 293.7L415.6 297.7M417.4 301.4L415.6 297.7M425.3 293.5L430.8 293.8M425.3 293.5L424.7 287.3M424.7 287.3L430.8 285.7M430.8 293.8L432.2 292.8M432.2 292.8L432.1 286.7M432.1 286.7L430.8 285.7M431.2 301.6L424.4 300.8M431.2 301.6L430.8 293.8M424.3 294.4L425.3 293.5M438.2 285.4L432.1 286.7M439.3 286.4L438.4 294.4M438.4 294.4L432.2 292.8M417.2 330.5L414.9 334.9M417.2 330.5L415.0 326.4M415.0 326.4L409.8 327.3M409.8 327.3L408.3 333.4M414.9 334.9L408.7 333.8M408.3 333.4L408.7 333.8M416.0 324.4L414.4 319.8M416.0 324.4L415.0 326.4M408.1 325.7L409.8 327.3M414.4 319.8L409.0 319.3M409.0 319.3L408.0 320.1M401.4 326.8L402.1 332.8M402.1 332.8L408.3 333.4M281.9 356.5L280.4 364.6M281.9 356.5L279.4 354.6M269.9 361.1L279.5 365.2M279.4 354.6L271.8 355.6M279.5 365.2L280.4 364.6M286.5 355.9L286.7 356.0M286.5 355.9L281.9 356.5M289.7 363.7L286.7 356.0M289.7 363.7L285.5 366.6M280.4 364.6L285.5 366.6M333.8 448.9L325.7 445.2M333.8 448.9L333.5 455.2M325.7 445.2L325.7 454.6M333.5 455.2L325.7 454.6M596.2 251.8L596.5 251.1M596.2 251.8L587.3 252.7M596.5 251.1L593.2 242.0M585.9 243.7L593.2 242.0M585.9 243.7L587.0 252.6M587.3 252.7L587.0 252.6M608.0 234.4L606.1 230.0M608.0 234.4L603.6 241.2M603.6 241.2L595.2 238.0M595.2 238.0L594.2 232.8M594.2 232.8L601.4 227.4M601.4 227.4L606.1 230.0M575.3 283.4L567.4 282.8M572.4 292.2L567.6 291.2M567.6 291.2L567.4 282.8M565.3 301.7L564.6 292.2M567.6 291.2L564.6 292.2M558.7 301.4L555.8 295.3M555.8 295.3L560.5 290.7M564.6 292.2L560.5 290.7M572.8 309.8L580.1 312.5M580.4 302.0L581.2 302.5M581.2 302.5L581.0 311.6M580.1 312.5L581.0 311.6M578.7 317.4L571.0 317.5M578.7 317.4L578.4 325.1M578.4 325.1L573.8 327.2M570.1 318.2L571.0 317.5M570.1 318.2L571.2 324.3M571.2 324.3L573.8 327.2M571.2 311.5L571.0 317.5M579.0 317.2L580.1 312.5M579.0 317.2L578.7 317.4M562.9 317.6L561.8 316.6M562.9 317.6L570.1 318.2M548.3 311.6L546.4 309.3M548.3 311.6L543.8 321.0M535.5 314.2L536.6 319.7M535.5 314.2L536.0 313.1M536.6 319.7L539.2 321.6M536.0 313.1L546.4 309.3M539.2 321.6L543.8 321.0M585.9 326.9L586.7 329.4M585.9 326.9L579.0 325.4M586.7 329.4L584.6 332.1M579.0 325.4L580.0 332.5M584.6 332.1L580.0 332.5M582.6 291.0L586.3 291.5M586.3 291.5L587.5 299.0M581.2 302.5L586.7 301.2M587.5 299.0L586.7 301.2M627.7 290.3L623.4 293.2M620.5 293.6L617.5 291.1M615.1 277.0L613.6 281.8M618.0 285.4L613.6 281.8M502.4 268.7L498.9 271.8M517.0 242.2L513.0 244.6M507.2 265.1L510.0 257.7M523.3 254.6L519.2 256.7M523.3 254.6L529.4 258.6M520.0 264.4L519.1 256.8M520.0 264.4L526.9 265.9M519.1 256.8L519.2 256.7M526.9 265.9L530.8 261.1M529.4 258.6L530.8 261.1M525.2 249.5L523.3 254.6M513.0 244.6L519.2 256.7M537.3 250.3L536.4 248.7M537.3 250.3L529.4 258.6M528.1 247.5L536.4 248.7M517.5 268.8L520.0 264.4M517.5 268.8L524.0 274.8M524.0 274.8L524.4 274.7M524.4 274.7L528.2 271.1M528.2 271.1L526.9 265.9M510.0 257.7L519.1 256.8M537.3 250.3L540.1 252.5M540.1 252.5L536.8 263.3M536.8 263.3L530.8 261.1M639.3 222.9L642.6 228.1M639.3 222.9L645.9 211.9M655.5 212.9L648.4 209.7M645.9 211.9L648.4 209.7M646.7 203.0L642.8 195.2M646.7 203.0L655.8 194.3M642.8 195.2L644.9 189.9M644.9 189.9L650.0 183.5M655.8 194.3L654.0 182.0M654.0 182.0L650.0 183.5M666.9 204.3L655.8 194.3M647.3 208.1L648.4 209.7M647.3 208.1L646.7 203.0M639.8 195.3L642.8 195.2M639.8 195.3L631.1 187.9M633.3 185.4L644.9 189.9M655.4 180.7L654.0 182.0M601.4 227.4L600.9 221.5M606.1 230.0L612.2 226.5M613.7 219.8L602.3 219.9M613.7 219.8L613.4 225.1M613.4 225.1L612.2 226.5M602.3 219.9L600.9 221.5M637.9 232.2L631.4 233.0M633.4 243.0L630.0 234.5M633.4 243.0L641.3 241.8M631.4 233.0L630.0 234.5M635.3 222.3L631.3 223.4M635.3 222.3L635.1 214.6M628.2 216.8L629.8 222.6M628.2 216.8L632.1 213.1M631.3 223.4L629.8 222.6M635.1 214.6L632.1 213.1M639.3 222.9L635.3 222.3M631.4 233.0L631.3 223.4M645.9 211.9L635.1 214.6M623.1 224.6L629.8 222.6M623.1 224.6L621.4 228.2M621.4 228.2L622.0 234.4M622.0 234.4L630.0 234.5M616.2 216.8L615.6 209.9M616.2 216.8L619.0 218.4M619.0 218.4L627.6 216.5M615.6 209.9L616.3 209.5M616.3 209.5L623.4 209.9M627.6 216.5L623.4 209.9M613.7 219.8L616.2 216.8M605.8 209.0L610.0 207.6M605.8 209.0L604.6 209.9M604.6 209.9L602.3 219.9M610.0 207.6L615.6 209.9M613.4 225.1L621.4 228.2M623.1 224.6L619.0 218.4M628.2 216.8L627.6 216.5M628.0 197.0L625.3 198.6M628.0 197.0L633.0 199.0M625.3 198.6L627.8 207.3M633.0 199.0L634.6 206.0M627.8 207.3L631.7 208.1M631.7 208.1L634.6 206.0M639.8 195.3L633.0 199.0M623.9 198.6L625.3 198.6M623.9 198.6L620.3 201.4M620.3 201.4L616.3 209.5M623.4 209.9L627.8 207.3M647.3 208.1L634.6 206.0M632.1 213.1L631.7 208.1M623.9 198.6L618.1 191.6M517.8 306.6L520.3 302.0M517.8 306.6L518.4 312.9M520.3 302.0L528.4 303.7M528.4 303.7L526.5 311.4M526.5 311.4L518.4 312.9M535.5 314.2L527.9 312.8M536.6 319.7L526.1 323.4M527.9 312.8L526.1 323.4M517.8 306.6L509.8 304.9M520.3 302.0L519.0 299.1M514.1 297.6L509.8 304.9M514.1 297.6L516.7 297.4M516.7 297.4L519.0 299.1M524.0 274.8L520.9 279.6M524.4 274.7L531.8 281.0M529.9 286.4L531.8 281.0M529.9 286.4L525.3 286.3M520.9 279.6L525.3 286.3M524.4 294.8L519.0 299.1M524.4 294.8L522.7 288.7M516.7 297.4L517.5 289.8M517.5 289.8L522.7 288.7M528.2 271.1L532.9 271.3M536.8 263.3L537.7 264.6M537.7 264.6L532.9 271.3M531.8 281.0L536.5 277.8M532.9 271.3L536.5 277.8M506.6 294.4L514.1 297.6M506.6 294.4L506.2 292.9M517.5 289.8L514.7 287.3M506.2 292.9L514.7 287.3M507.6 279.0L511.1 281.0M507.6 279.0L505.4 268.3M514.2 269.7L506.8 267.3M514.2 269.7L514.2 280.8M511.1 281.0L513.6 281.3M505.4 268.3L506.8 267.3M514.2 280.8L513.6 281.3M500.2 288.5L503.3 289.9M500.2 288.5L500.1 288.5M500.1 288.5L501.9 280.9M501.9 280.9L507.6 279.0M503.3 289.9L511.1 281.0M501.9 280.9L497.2 275.7M502.4 268.7L505.4 268.3M497.2 275.7L498.9 271.8M517.5 268.8L514.2 269.7M507.2 265.1L506.8 267.3M520.9 279.6L514.2 280.8M506.2 292.9L503.3 289.9M514.7 287.3L513.6 281.3M525.3 286.3L522.7 288.7M528.4 303.7L529.6 303.1M524.4 294.8L529.3 295.7M529.6 303.1L529.3 295.7M536.0 313.1L534.6 304.1M526.5 311.4L527.9 312.8M529.6 303.1L534.6 304.1M532.5 289.7L532.3 291.6M532.5 289.7L529.9 286.4M532.3 291.6L529.3 295.7M207.7 279.6L214.2 280.5M216.8 272.3L217.0 272.6M217.0 272.6L214.2 280.5M190.0 276.9L189.9 277.0M195.5 295.6L203.0 296.8M195.5 295.6L195.0 294.9M195.0 294.9L196.3 287.5M203.0 296.8L205.8 288.3M205.5 287.9L205.8 288.3M205.5 287.9L196.9 287.0M196.9 287.0L196.3 287.5M193.2 304.1L195.5 295.6M203.9 298.0L203.0 296.8M186.7 293.7L195.0 294.9M188.7 285.0L196.3 287.5M213.8 290.4L205.8 288.3M213.8 290.3L215.5 282.1M206.4 280.5L205.5 287.9M215.5 282.1L214.2 280.5M197.9 278.4L196.9 287.0M322.8 168.7L335.4 173.6M335.4 173.6L331.9 152.6M343.3 132.5L330.0 131.8M348.5 161.8L345.3 175.2M345.3 175.2L340.5 175.6M335.4 173.6L335.7 174.2M340.5 175.6L335.7 174.2M205.9 194.1L195.7 193.2M205.9 194.1L207.5 184.2M195.7 193.2L197.7 182.1M207.5 184.2L197.7 182.1M221.8 219.2L212.2 217.4M221.8 219.2L223.6 208.7M212.2 217.4L213.1 207.2M223.6 208.7L223.4 208.5M223.4 208.5L215.2 206.0M213.1 207.2L215.2 206.0M295.9 140.4L287.2 138.0M295.9 140.4L296.2 130.4M287.2 138.0L289.2 129.7M289.2 129.7L296.2 130.4M298.7 121.2L298.4 121.4M308.4 133.1L310.2 132.5M308.4 133.1L297.6 129.5M298.4 121.4L297.6 129.5M296.1 140.5L295.9 140.4M296.1 140.5L302.8 140.0M302.8 140.0L308.4 133.1M297.6 129.5L296.2 130.4M220.2 246.2L222.1 234.8M229.2 247.5L229.7 236.9M229.7 236.9L222.1 234.8M212.9 232.8L220.2 232.6M222.1 234.8L220.2 232.6M266.7 176.7L264.9 174.3M266.7 176.7L263.6 185.5M258.7 173.8L256.4 175.5M263.6 185.5L255.9 182.5M255.9 182.5L256.4 175.5M266.7 176.7L272.4 178.0M272.4 178.0L273.4 185.7M263.6 185.5L264.4 186.9M264.4 186.9L273.4 185.7M282.1 189.1L280.1 186.4M282.1 189.1L280.8 196.1M280.1 186.4L273.5 185.8M272.7 196.5L272.4 196.2M272.7 196.5L280.4 196.4M280.4 196.4L280.8 196.1M272.4 196.2L273.5 185.8M272.7 196.5L271.0 203.8M280.4 196.4L280.0 207.2M280.0 207.2L271.0 203.8M307.3 218.3L299.6 215.6M307.3 218.3L309.6 216.4M299.6 215.6L300.2 207.6M309.6 216.4L308.4 206.7M300.2 207.6L308.4 206.7M288.4 207.6L280.4 207.9M288.4 207.6L290.1 216.0M277.7 214.5L280.4 207.9M277.7 214.5L288.5 217.3M288.5 217.3L290.1 216.0M307.3 218.3L308.1 224.8M299.6 215.6L297.3 217.4M297.3 217.4L297.1 227.5M308.1 224.8L297.1 227.5M297.3 217.4L290.1 216.0M286.3 224.6L296.8 227.9M286.3 224.6L288.5 217.3M297.1 227.5L296.8 227.9M308.8 225.5L306.4 235.2M308.8 225.5L316.2 227.0M316.2 227.0L315.0 235.3M306.4 235.2L315.0 235.3M239.0 254.2L248.4 255.7M246.8 263.8L248.5 255.9M248.4 255.7L248.5 255.9M246.8 263.8L254.4 264.9M255.4 256.9L248.5 255.9M255.4 256.9L255.7 257.3M255.7 257.3L254.4 264.9M253.6 272.7L254.7 265.3M246.0 271.6L245.9 271.5M254.7 265.3L254.4 264.9M315.7 317.4L316.4 318.3M313.8 324.9L316.4 318.3M313.8 324.9L308.9 325.7M308.4 315.9L306.0 318.5M306.0 318.5L308.9 325.7M298.5 331.5L300.1 326.5M298.5 331.5L291.2 331.7M291.2 331.7L289.7 324.1M298.3 323.6L300.1 326.5M298.3 323.6L291.3 323.0M289.7 324.1L291.3 323.0M307.6 310.0L301.4 309.1M306.0 318.5L301.6 318.2M301.4 309.1L301.6 318.2M309.3 302.4L305.5 300.6M305.5 300.6L297.5 304.3M297.5 304.3L296.6 305.5M301.4 309.1L296.6 305.5M308.9 325.7L308.0 326.7M308.0 326.7L300.1 326.5M298.3 323.6L300.6 318.8M300.6 318.8L301.6 318.2M339.8 280.7L348.3 281.2M339.8 280.7L341.7 272.9M348.3 281.2L347.6 273.3M341.7 272.9L347.6 273.3M289.2 301.9L290.5 292.9M289.2 301.9L281.9 299.4M282.1 291.6L282.6 291.3M290.5 292.9L282.6 291.3M290.9 292.6L291.2 284.4M290.9 292.6L298.2 293.1M298.2 293.1L298.7 285.4M298.7 285.4L291.2 284.4M290.5 292.9L290.9 292.6M282.6 291.3L283.8 284.1M283.9 284.0L283.8 284.1M283.9 284.0L291.2 284.4M291.2 284.4L291.2 284.4M315.1 279.0L315.0 286.7M315.1 279.0L324.3 279.1M315.0 286.7L323.2 287.3M324.3 279.1L324.9 279.9M324.9 279.9L324.5 286.1M323.2 287.3L324.5 286.1M331.3 295.7L331.4 288.8M331.3 295.7L323.1 296.5M323.1 296.5L322.4 295.4M322.4 295.4L323.2 287.3M331.4 288.8L324.5 286.1M313.9 287.7L306.6 286.1M313.9 287.7L313.9 294.2M313.4 294.6L313.9 294.2M313.4 294.6L305.7 294.0M306.6 286.1L305.2 293.4M305.7 294.0L305.2 293.4M322.4 295.4L313.9 294.2M315.0 286.7L313.9 287.7M312.8 301.0L313.4 294.6M319.8 305.6L320.4 305.5M323.1 296.5L322.0 303.6M322.0 303.6L320.4 305.5M305.5 300.6L305.7 294.0M298.6 293.4L305.2 293.4M298.6 293.4L298.2 293.1M306.5 286.0L306.6 286.1M306.5 286.0L299.2 285.0M299.2 285.0L298.7 285.4M297.5 304.3L298.6 293.4M295.3 341.0L291.0 339.7M295.3 341.0L297.6 339.5M290.6 332.6L290.4 339.1M290.6 332.6L291.2 331.7M298.5 331.5L299.1 332.5M297.6 339.5L299.1 332.5M291.0 339.7L290.4 339.1M286.5 355.9L288.4 348.5M288.4 348.5L296.7 349.3M286.7 356.0L296.1 355.7M296.1 355.7L296.7 349.3M315.4 350.4L306.7 349.8M315.4 350.4L314.6 358.1M313.2 358.8L314.6 358.1M313.2 358.8L306.1 356.0M306.1 356.0L306.7 349.8M295.3 341.0L297.1 348.8M288.4 348.5L288.4 348.5M291.0 339.7L288.4 348.5M297.1 348.8L296.7 349.3M251.2 295.4L253.8 297.7M252.2 287.9L259.5 289.0M253.8 297.7L258.8 295.8M258.8 295.8L259.5 289.0M253.5 280.7L260.5 281.4M260.5 281.4L260.3 288.4M260.3 288.4L259.5 289.0M267.3 303.9L261.4 304.7M267.3 303.9L268.7 299.0M261.4 304.7L261.3 297.2M268.7 299.0L266.2 296.3M266.2 296.3L261.3 297.2M260.2 305.9L261.4 304.7M268.1 304.9L267.3 303.9M267.9 313.1L267.0 313.9M267.0 313.9L261.7 312.5M277.7 301.5L277.0 305.2M274.0 298.2L268.7 299.0M277.0 305.2L276.2 306.2M253.8 297.7L253.5 303.3M254.0 304.5L253.5 303.3M258.8 295.8L261.3 297.2M274.9 291.3L267.4 290.1M267.4 290.1L266.2 296.3M260.3 288.4L267.1 289.7M267.1 289.7L267.4 290.1M232.4 342.5L240.1 344.4M232.4 342.5L233.8 336.5M233.8 336.5L239.2 335.0M240.1 344.4L241.9 342.0M241.9 342.0L241.1 336.7M239.2 335.0L241.1 336.7M229.7 325.2L239.8 328.9M239.8 328.9L239.2 335.0M227.9 331.3L233.8 336.5M248.8 342.9L241.9 342.0M248.8 342.9L246.6 351.1M240.7 349.6L246.6 351.1M240.7 349.6L240.1 344.4M239.8 328.9L241.2 327.8M249.5 334.5L241.1 336.7M249.5 334.5L249.7 329.4M241.2 327.8L249.7 329.4M250.2 335.5L249.9 342.2M250.2 335.5L257.8 336.4M249.9 342.2L257.1 345.6M257.8 336.4L257.9 345.2M257.1 345.6L257.9 345.2M249.5 334.5L250.2 335.5M248.8 342.9L249.9 342.2M258.9 329.1L259.5 334.8M258.9 329.1L250.8 328.1M259.5 334.8L257.8 336.4M249.7 329.4L250.8 328.1M259.5 334.8L265.7 336.5M262.5 345.5L257.9 345.2M264.7 344.2L267.0 337.9M267.0 337.9L265.7 336.5M254.7 351.5L257.1 345.6M254.7 351.5L261.5 355.2M254.7 351.5L253.3 352.6M246.6 351.1L247.4 352.0M253.3 352.6L247.4 352.0M232.7 297.9L237.1 303.6M244.4 296.1L244.1 301.1M237.1 303.6L244.1 301.1M230.9 312.1L237.2 309.0M237.1 303.6L237.2 309.0M253.5 303.3L244.7 302.1M244.1 301.1L244.7 302.1M249.1 319.7L242.1 319.8M249.1 319.7L250.1 310.8M250.1 310.8L244.8 309.4M241.4 319.2L241.5 310.7M241.4 319.2L242.1 319.8M244.8 309.4L241.5 310.7M250.8 321.3L249.1 319.7M250.8 321.3L250.8 328.1M241.2 327.8L242.1 319.8M250.4 310.6L250.1 310.8M250.8 321.3L257.4 319.6M258.8 314.6L257.4 319.6M244.7 302.1L244.8 309.4M230.3 319.5L241.4 319.2M237.2 309.0L241.5 310.7M284.6 275.7L285.5 268.2M284.6 275.7L292.2 277.1M292.2 277.1L292.5 277.0M292.5 277.0L293.1 269.3M285.5 268.2L292.8 269.0M292.8 269.0L293.1 269.3M284.3 275.9L284.6 275.7M284.3 275.9L283.9 284.0M291.2 284.4L292.2 277.1M299.2 285.0L299.7 277.9M299.7 277.9L299.4 277.6M299.4 277.6L292.5 277.0M300.5 270.1L299.4 277.6M300.5 270.1L293.1 269.3M294.4 261.2L301.4 261.9M294.4 261.2L292.8 269.0M301.5 262.0L300.8 269.9M301.5 262.0L301.4 261.9M300.8 269.9L300.5 270.1M289.2 301.9L291.7 305.4M277.0 305.2L284.3 309.0M284.3 309.0L291.7 305.4M296.6 305.5L293.6 306.3M291.7 305.4L293.6 306.3M300.6 318.8L292.7 313.5M293.6 306.3L292.7 313.5M291.3 323.0L292.4 313.9M292.4 313.9L292.7 313.5M274.9 311.6L277.7 314.9M284.3 309.0L282.1 314.7M277.7 314.9L282.1 314.7M292.4 313.9L283.8 316.3M283.8 316.3L282.1 314.7M289.7 324.1L285.2 323.4M283.8 316.3L285.2 323.4M282.5 332.0L290.6 332.6M282.5 332.0L283.8 324.2M283.8 324.2L285.2 323.4M267.0 313.9L268.0 319.8M257.4 319.6L259.8 322.0M268.0 319.8L259.8 322.0M258.9 329.1L260.4 327.5M265.7 336.5L266.4 328.0M266.4 328.0L260.4 327.5M260.4 327.5L259.8 322.0M200.6 376.5L194.1 372.3M202.0 367.1L194.7 367.0M194.7 367.0L194.1 372.3M189.4 382.8L190.2 383.6M190.2 383.6L189.2 393.1M196.6 383.7L190.2 383.6M189.6 377.3L194.1 372.3M189.6 377.3L189.4 382.8M195.2 397.0L189.2 393.1M183.7 400.0L193.5 404.9M193.5 404.9L191.5 410.2M194.9 403.6L193.5 404.9M184.7 423.1L192.8 412.7M192.8 412.7L191.5 410.2M201.1 415.1L198.2 416.0M198.2 416.0L192.8 412.7M187.9 338.6L188.4 339.2M388.7 165.9L385.2 174.9M403.9 175.0L400.1 179.5M400.1 179.5L390.3 181.3M385.2 174.9L390.3 181.3M363.3 189.0L374.9 187.5M363.3 189.0L362.1 175.8M362.7 175.3L362.1 175.8M362.7 175.3L370.2 175.2M370.2 175.2L373.4 177.3M373.4 177.3L374.9 187.5M359.0 159.3L362.7 175.3M373.3 164.3L370.2 175.2M385.2 174.9L373.4 177.3M378.8 189.9L375.1 187.9M375.1 187.9L374.9 187.5M390.3 181.3L389.7 184.6M346.1 175.7L355.6 177.3M346.1 175.7L346.9 191.1M355.6 177.3L354.7 190.1M346.9 191.1L354.7 190.1M345.3 175.2L346.1 175.7M362.1 175.8L355.6 177.3M362.1 191.6L363.3 189.0M362.1 191.6L356.8 192.0M356.8 192.0L354.7 190.1M356.8 192.0L354.5 200.7M354.5 200.7L353.7 201.2M353.7 201.2L347.6 200.3M346.9 191.1L346.8 191.3M346.8 191.3L347.6 200.3M267.2 157.5L266.8 164.7M267.2 157.5L260.4 155.7M258.0 164.9L257.4 164.3M260.4 155.7L257.4 164.3M226.4 198.1L223.4 208.5M226.4 198.1L235.0 201.3M223.6 208.7L233.4 209.8M233.4 209.8L233.8 209.5M233.8 209.5L235.3 201.8M235.0 201.3L235.3 201.8M217.6 185.5L217.7 185.6M217.6 185.5L208.5 183.5M208.5 183.5L207.5 184.2M205.9 194.1L206.5 194.9M206.5 194.9L215.0 195.6M217.7 185.6L215.0 195.6M226.4 198.1L225.7 197.0M215.2 206.0L216.4 197.3M225.7 197.0L216.4 197.3M205.0 204.9L206.5 194.9M205.0 204.9L213.1 207.2M215.0 195.6L216.4 197.3M229.2 180.0L225.6 187.2M229.2 180.0L238.1 182.4M238.1 182.4L236.0 190.2M236.0 190.2L227.3 190.1M227.3 190.1L225.6 187.2M237.5 192.1L235.0 201.3M237.5 192.1L236.0 190.2M225.7 197.0L227.3 190.1M217.7 185.6L225.6 187.2M231.0 171.7L228.9 165.0M231.0 171.7L228.2 176.2M228.2 176.2L219.5 175.0M228.9 165.0L221.3 164.0M219.5 175.0L218.9 174.3M218.9 174.3L220.9 164.2M221.3 164.0L220.9 164.2M238.8 172.7L231.0 171.7M238.8 172.7L239.4 181.6M239.4 181.6L238.1 182.4M229.2 180.0L228.2 176.2M217.6 185.5L219.5 175.0M221.2 153.6L222.7 152.7M221.2 153.6L221.3 164.0M232.5 161.1L232.5 154.5M232.5 161.1L228.9 165.0M222.7 152.7L232.5 154.5M208.5 183.5L209.5 173.3M209.5 173.3L218.9 174.3M210.9 163.0L220.9 164.2M210.9 163.0L208.8 172.5M208.8 172.5L209.5 173.3M221.2 153.6L213.4 151.5M213.4 151.5L212.6 152.0M210.9 163.0L210.7 162.8M199.4 172.0L197.4 181.7M199.4 172.0L198.7 171.0M198.7 171.0L189.4 169.5M189.4 169.5L187.1 180.6M187.1 180.6L197.4 181.7M208.8 172.5L199.4 172.0M197.7 182.1L197.4 181.7M201.3 160.5L200.5 161.0M200.5 161.0L198.7 171.0M195.2 193.5L195.7 193.2M195.2 193.5L185.5 191.4M190.6 157.5L191.5 158.7M191.5 158.7L189.4 169.5M193.6 148.6L190.6 157.5M203.0 149.7L203.1 149.9M200.5 161.0L191.5 158.7M189.4 169.5L189.4 169.5M216.5 129.2L207.6 127.4M216.5 129.2L218.7 118.3M207.6 127.4L208.6 116.6M218.7 118.3L209.1 116.3M209.1 116.3L208.6 116.6M200.1 115.1L208.6 116.6M206.8 127.9L207.6 127.4M651.1 254.6L650.6 255.1M642.9 246.5L640.6 252.3M640.6 252.3L641.5 256.6M641.5 256.6L646.5 257.5M650.6 255.1L646.5 257.5M632.3 244.9L628.8 246.5M632.3 244.9L634.3 248.3M634.3 248.3L632.8 258.5M628.8 246.5L627.0 257.2M627.0 257.2L627.2 258.1M627.2 258.1L629.6 259.7M629.6 259.7L632.8 258.5M633.4 243.0L632.3 244.9M640.6 252.3L634.3 248.3M638.8 258.3L641.5 256.6M638.8 258.3L632.8 258.5M621.1 249.6L622.7 245.1M621.1 249.6L627.0 257.2M622.7 245.1L628.8 246.5M621.0 259.1L615.2 253.7M621.0 259.1L627.2 258.1M621.1 249.6L615.2 253.7M629.8 265.9L628.7 267.7M629.8 265.9L629.6 259.7M619.0 262.3L621.0 259.1M650.6 255.1L656.1 266.5M660.6 264.1L656.1 266.5M663.8 266.1L660.6 264.1M656.1 266.5L655.9 266.8M410.7 199.9L404.4 199.9M411.1 175.2L413.6 178.1M413.6 178.1L427.7 177.0M428.4 168.5L428.4 175.5M428.4 175.5L427.7 177.0M364.3 260.4L360.2 256.4M360.7 251.3L360.2 256.4M360.7 251.3L369.6 249.6M360.8 238.9L368.4 240.1M360.8 238.9L360.6 239.1M360.6 239.1L359.3 249.9M359.3 249.9L360.7 251.3M185.0 531.4L191.2 523.6M191.2 523.6L188.5 521.5M218.6 483.9L214.8 494.6M218.6 483.9L222.0 482.0M222.7 482.9L222.0 482.0M222.7 482.9L225.2 493.0M214.8 494.6L219.1 498.2M225.2 493.0L219.1 498.2M355.5 312.4L362.1 313.8M355.5 312.4L354.8 312.9M354.8 312.9L354.0 320.1M361.4 322.0L354.0 320.1M361.4 322.0L362.9 320.7M362.9 320.7L362.1 313.8M401.2 317.8L402.1 312.9M401.2 317.8L394.1 318.3M401.0 311.6L402.1 312.9M401.0 311.6L394.7 310.8M394.7 310.8L393.4 312.2M393.4 312.2L394.1 318.3M361.4 322.0L360.1 329.0M354.0 320.1L353.2 320.8M353.2 320.8L354.2 328.5M354.8 329.0L354.2 328.5M354.8 329.0L359.9 329.1M359.9 329.1L360.1 329.0M330.5 390.4L336.4 387.6M330.5 390.4L329.3 386.0M329.3 386.0L334.7 383.5M336.4 387.6L334.7 383.5M341.1 387.8L340.8 388.6M341.1 387.8L339.1 382.3M340.8 388.6L336.4 387.6M334.7 383.5L335.8 381.1M339.1 382.3L335.8 381.1M332.1 374.0L332.6 374.3M332.1 374.0L328.1 376.5M329.3 386.0L327.7 384.3M332.6 374.3L335.8 381.1M328.1 376.5L327.7 384.3M416.3 338.0L414.9 334.9M416.3 338.0L421.9 339.6M423.2 330.9L424.0 331.9M423.2 330.9L417.2 330.5M424.0 331.9L422.9 338.5M422.9 338.5L421.9 339.6M415.8 305.0L409.2 304.6M415.8 305.0L416.9 308.5M416.9 308.5L414.6 312.0M414.6 312.0L409.0 312.1M409.0 312.1L408.5 311.7M408.5 311.7L408.1 305.5M408.1 305.5L409.2 304.6M417.4 301.4L415.8 305.0M415.6 297.7L409.4 297.4M409.4 297.4L409.2 304.6M423.8 301.4L424.1 308.9M424.1 308.9L423.3 309.6M423.3 309.6L416.9 308.5M414.4 319.8L416.6 316.6M409.0 319.3L409.0 312.1M416.6 316.6L414.6 312.0M401.2 317.8L402.0 319.1M402.1 312.9L408.5 311.7M401.7 304.4L401.0 311.6M401.7 304.4L402.0 304.2M402.0 304.2L408.1 305.5M403.1 297.6L409.0 297.1M403.1 297.6L402.0 304.2M409.0 297.1L409.4 297.4M453.6 286.8L454.1 287.1M460.7 286.3L454.1 287.1M467.2 288.0L461.1 286.7M467.2 288.0L468.9 286.0M446.5 288.0L446.0 294.3M438.4 294.4L438.4 294.4M438.4 294.4L446.0 294.3M518.4 312.9L517.8 313.9M517.8 313.9L522.2 323.9M526.1 323.4L525.0 324.4M525.0 324.4L522.2 323.9M417.7 293.7L416.2 289.7M416.2 289.7L417.7 287.1M424.7 287.3L423.0 286.0M417.7 287.1L423.0 286.0M438.2 280.0L431.8 278.6M430.8 285.7L430.3 280.0M431.8 278.6L430.3 280.0M439.3 278.9L439.3 272.5M432.7 271.9L439.3 272.5M432.7 271.9L431.9 272.6M431.8 278.6L431.9 272.6M419.8 345.3L424.8 347.4M419.8 345.3L418.1 347.1M424.8 347.4L423.5 352.0M423.5 352.0L422.7 352.1M422.7 352.1L419.2 350.2M418.1 347.1L419.2 350.2M416.3 338.0L413.9 340.8M408.7 333.8L407.8 340.1M413.9 340.8L407.8 340.1M419.8 345.3L421.9 340.1M421.9 339.6L421.9 340.1M418.1 347.1L414.1 346.1M413.9 340.8L414.1 346.1M392.8 355.5L393.8 348.3M392.8 355.5L388.0 356.3M393.8 348.3L393.0 347.4M393.0 347.4L385.8 346.8M385.8 346.9L385.8 346.8M385.8 346.9L385.9 354.0M388.0 356.3L385.9 354.0M378.3 347.5L385.8 346.9M378.3 347.5L378.2 354.5M385.9 354.0L378.2 354.5M378.2 354.5L378.2 354.5M395.6 357.1L400.5 353.1M395.6 357.1L392.8 355.5M393.8 348.3L399.3 347.9M399.3 347.9L400.5 353.1M196.9 461.9L206.9 466.5M196.9 461.9L193.7 464.0M193.7 464.0L194.8 471.4M194.8 471.4L197.9 473.9M197.9 473.9L203.8 473.8M203.8 473.8L206.9 466.5M186.9 453.4L189.8 462.9M187.9 452.2L198.0 454.0M189.8 462.9L193.7 464.0M198.9 455.9L198.0 454.0M198.9 455.9L196.9 461.9M206.1 485.0L196.2 484.2M206.1 485.0L206.0 477.0M206.0 477.0L203.8 473.8M196.2 484.2L194.9 483.3M194.9 483.3L197.9 473.9M222.0 375.8L231.3 379.1M222.0 375.8L227.9 370.5M227.9 370.5L232.5 377.5M231.3 379.1L232.5 377.5M218.2 376.0L222.0 375.8M219.2 384.8L227.2 386.4M227.2 386.4L231.3 379.3M231.3 379.3L231.3 379.1M225.1 361.1L224.1 361.6M225.1 361.1L228.8 366.8M228.8 366.8L227.9 370.5M228.8 366.8L236.3 369.8M232.5 377.5L236.1 374.8M236.3 369.8L236.1 374.8M190.9 434.0L197.2 430.6M197.2 430.6L196.3 425.4M184.8 423.3L195.9 424.7M196.3 425.4L195.9 424.7M188.7 443.8L190.6 442.8M190.6 442.8L190.9 434.0M198.2 416.0L195.9 424.7M207.3 419.4L207.0 423.8M207.0 423.8L196.3 425.4M312.3 375.5L312.6 375.2M312.3 375.5L312.4 384.8M312.6 375.2L320.6 376.7M320.6 376.7L319.1 383.8M312.4 384.8L319.1 383.8M328.1 376.5L321.8 376.0M321.8 376.0L320.6 376.7M327.7 384.3L321.3 386.3M321.3 386.3L319.1 383.8M262.8 512.3L253.9 513.3M262.8 512.3L262.6 504.7M262.6 504.7L262.3 504.5M262.3 504.5L255.9 506.6M253.9 513.3L255.9 506.6M261.5 519.9L263.1 512.8M261.5 519.9L267.0 522.5M263.1 512.8L269.4 514.0M267.0 522.5L268.5 522.2M268.5 522.2L271.4 517.0M269.4 514.0L271.4 517.0M314.6 478.7L313.9 477.7M314.6 478.7L313.3 483.2M305.6 485.4L313.3 483.2M305.6 485.4L303.8 484.0M303.8 484.0L304.3 477.2M304.3 477.2L305.5 476.1M305.5 476.1L313.9 477.7M330.1 512.7L321.3 510.8M330.1 512.7L331.3 511.0M321.8 503.9L321.3 510.8M321.8 503.9L322.4 503.2M322.4 503.2L328.3 502.4M331.3 511.0L328.3 502.4M333.8 448.9L336.5 445.9M347.7 448.0L348.1 449.1M333.5 455.2L334.2 456.0M334.2 456.0L346.1 455.6M348.1 449.1L346.1 455.6M324.1 463.9L324.0 471.1M324.1 463.9L332.2 463.2M330.5 473.0L324.0 471.1M330.5 473.0L332.7 470.8M332.7 470.8L332.2 463.2M325.7 454.6L324.2 455.4M324.2 455.4L322.4 462.1M334.2 456.0L333.2 462.2M322.4 462.1L324.1 463.9M332.2 463.2L333.2 462.2M305.6 485.4L305.6 491.5M313.3 483.2L315.4 486.1M305.6 491.5L312.5 494.3M315.4 486.1L312.5 494.3M587.3 252.7L587.9 261.5M587.0 252.6L581.7 253.4M587.9 261.5L580.2 261.2M580.2 261.2L578.8 259.5M581.7 253.4L578.8 259.5M570.1 263.1L565.1 267.0M570.1 263.1L571.7 259.4M571.7 259.4L569.2 253.7M559.2 256.2L566.6 252.8M559.2 256.2L560.5 267.0M566.6 252.8L569.2 253.7M560.5 267.0L565.1 267.0M576.1 248.0L581.7 253.4M576.1 248.0L569.2 253.7M578.8 259.5L571.7 259.4M558.0 255.6L559.2 256.2M555.2 243.5L555.9 242.3M564.1 245.3L555.9 242.3M564.1 245.3L566.6 252.8M622.7 245.1L622.0 244.2M622.0 234.4L620.7 235.6M622.0 244.2L620.7 235.6M608.0 234.4L614.0 237.0M612.2 226.5L618.4 235.7M614.0 237.0L618.4 235.7M618.4 235.7L620.7 235.6M610.7 253.8L613.5 253.2M610.7 253.8L605.0 247.2M613.5 253.2L615.4 245.8M605.3 246.1L605.0 247.2M605.3 246.1L612.5 242.7M612.5 242.7L615.4 245.8M606.9 261.3L608.3 266.1M606.9 261.3L610.7 253.8M615.2 253.7L613.5 253.2M596.2 251.8L597.9 257.8M596.5 251.1L605.0 247.2M606.9 261.3L597.9 257.8M622.0 244.2L615.4 245.8M603.6 241.2L605.3 246.1M593.2 242.0L595.2 238.0M614.0 237.0L612.5 242.7M581.3 230.1L580.2 224.1M581.3 230.1L585.8 233.7M592.1 232.0L587.1 221.6M592.1 232.0L585.8 233.7M580.2 224.1L583.6 221.1M583.6 221.1L587.1 221.6M594.2 232.8L592.1 232.0M600.9 221.5L592.9 217.9M592.9 217.9L587.1 221.6M585.9 243.7L581.8 241.3M581.8 241.3L585.8 233.7M566.3 234.5L569.2 241.0M566.3 234.5L569.8 229.5M569.8 229.5L575.8 234.2M575.8 234.2L577.3 242.1M569.2 241.0L576.8 242.5M576.8 242.5L577.3 242.1M564.1 245.3L569.2 241.0M555.9 242.3L555.3 236.4M556.7 235.5L566.3 234.5M560.5 225.0L562.7 223.9M562.7 223.9L569.8 225.7M569.8 225.7L569.8 229.5M571.4 224.1L569.8 225.7M571.4 224.1L580.2 224.1M581.3 230.1L575.8 234.2M581.8 241.3L577.3 242.1M576.1 248.0L576.8 242.5M562.7 223.9L560.7 214.4M557.0 303.7L549.2 302.4M548.3 311.6L548.4 311.6M546.4 309.3L546.0 307.9M549.2 302.4L546.0 307.9M534.6 304.1L538.7 301.8M546.0 307.9L538.7 301.8M532.3 291.6L539.6 299.2M539.6 299.2L538.7 301.8M539.3 288.2L542.3 296.8M539.3 288.2L542.7 284.9M542.7 284.9L549.1 290.5M542.3 296.8L548.5 295.6M549.1 290.5L549.8 294.2M549.8 294.2L548.5 295.6M532.5 289.7L539.3 288.2M539.6 299.2L542.3 296.8M542.8 282.4L542.7 284.9M542.8 282.4L538.8 278.1M538.8 278.1L536.5 277.8M542.8 282.4L549.4 279.2M554.0 284.6L549.4 279.2M554.0 284.6L549.1 290.5M549.2 302.4L548.5 295.6M555.8 295.3L549.8 294.2M597.2 283.6L599.7 288.2M597.2 283.6L589.7 286.3M599.7 288.2L593.5 291.1M593.5 291.1L589.6 288.3M589.7 286.3L589.6 288.3M586.7 281.1L587.5 277.2M586.7 281.1L589.7 286.3M587.5 277.2L595.3 278.8M595.3 278.8L597.9 281.4M597.9 281.4L597.2 283.6M586.3 291.5L589.6 288.3M587.5 299.0L594.8 295.2M594.8 295.2L593.5 291.1M579.9 283.9L586.7 281.1M578.4 325.1L579.0 325.4M573.8 327.2L573.3 328.5M580.0 332.5L577.9 334.2M573.3 328.5L577.9 334.2M562.9 317.6L563.0 322.9M571.2 324.3L567.7 325.0M567.7 325.0L563.0 322.9M555.1 319.5L552.7 324.0M563.0 322.9L561.2 326.9M561.2 326.9L552.7 324.0M543.8 321.0L549.1 324.8M549.1 324.8L550.9 325.3M552.7 324.0L550.9 325.3M581.0 311.6L581.3 311.6M581.3 311.6L591.5 307.4M586.7 301.2L591.1 304.9M591.1 304.9L591.5 307.4M581.3 311.6L587.9 314.2M592.6 312.5L587.9 314.2M592.6 312.5L592.6 310.1M591.5 307.4L592.6 310.1M601.1 292.9L595.9 295.7M601.1 292.9L603.2 300.5M595.9 295.7L598.2 301.6M598.2 301.6L600.7 302.3M601.4 302.1L600.7 302.3M602.8 289.9L599.7 288.2M602.8 289.9L601.1 292.9M594.8 295.2L595.9 295.7M591.1 304.9L598.2 301.6M592.6 310.1L600.4 308.0M600.4 308.0L600.7 302.3M601.1 309.0L600.4 308.0M602.8 289.9L604.5 289.5M610.4 298.2L610.6 295.6M542.7 241.4L537.7 244.5M536.4 248.7L537.7 244.5M548.9 247.0L542.7 241.4M540.1 252.5L546.1 252.9M620.3 201.4L612.6 196.1M610.0 207.6L609.4 198.7M612.6 196.1L609.4 198.7M447.0 256.1L447.5 256.5M447.0 256.1L447.7 248.2M454.6 248.6L447.7 248.2M454.6 248.6L454.6 256.5M447.5 256.5L454.6 256.5M458.9 241.6L447.8 240.4M447.8 240.4L448.6 232.6M448.6 232.6L454.6 232.1M401.7 304.4L394.6 303.5M394.7 310.8L394.1 304.0M394.6 303.5L394.1 304.0M409.0 297.1L409.2 289.8M416.2 289.7L409.3 289.7M409.3 289.7L409.2 289.8M402.0 296.6L402.8 289.5M402.0 296.6L395.5 296.4M395.5 296.4L395.0 289.6M402.8 289.5L402.4 289.1M402.4 289.1L395.1 289.5M395.0 289.6L395.1 289.5M403.1 297.6L402.0 296.6M409.2 289.8L402.8 289.5M395.1 296.8L394.6 303.5M395.1 296.8L395.5 296.4M439.3 272.5L440.2 271.8M440.2 271.8L446.9 272.0M447.5 256.5L447.6 264.8M448.1 265.3L447.6 264.8M447.7 248.2L447.5 248.0M447.8 240.4L447.2 240.9M447.5 248.0L447.2 240.9M447.0 256.1L441.2 256.4M447.6 264.8L440.0 263.7M441.2 256.4L440.0 263.7M440.2 271.8L439.4 264.1M440.0 263.7L439.4 264.1M432.7 271.9L432.7 263.7M439.4 264.1L432.7 263.7M425.4 264.6L432.5 263.5M425.4 264.6L425.0 271.6M431.9 272.6L425.0 271.6M432.7 263.7L432.5 263.5M447.5 248.0L439.8 248.5M441.2 256.4L440.2 255.5M440.2 255.5L439.8 248.5M447.2 240.9L440.8 240.3M440.8 240.3L439.5 248.1M439.8 248.5L439.5 248.1M543.9 266.8L544.4 268.9M543.9 266.8L547.9 262.8M547.9 262.8L559.9 267.5M544.5 269.0L558.5 270.9M544.5 269.0L544.4 268.9M559.9 267.5L558.5 270.9M537.7 264.6L543.9 266.8M538.8 278.1L544.4 268.9M548.9 256.7L547.9 262.8M560.5 267.0L559.9 267.5M550.4 276.7L558.0 273.5M550.4 276.7L544.5 269.0M558.0 273.5L558.5 270.9M549.4 279.2L550.4 276.7M224.2 274.4L224.2 274.4M224.2 274.4L234.6 274.9M224.2 274.4L223.4 282.2M233.7 283.3L223.8 282.7M233.7 283.3L235.5 277.6M223.8 282.7L223.4 282.2M235.5 277.6L234.6 274.9M226.1 264.9L224.2 274.4M217.0 272.6L224.2 274.4M236.2 270.5L234.6 274.9M215.5 282.1L223.4 282.2M223.1 290.4L223.8 282.7M234.7 286.1L233.7 283.3M244.8 279.3L235.5 277.6M346.8 191.3L339.2 191.1M337.1 199.5L337.0 199.3M337.1 199.5L347.1 200.7M347.1 200.7L347.6 200.3M337.0 199.3L339.2 191.1M340.5 175.6L338.0 189.6M338.0 189.6L339.2 191.1M309.6 216.4L316.2 215.9M308.4 206.7L309.2 206.1M309.2 206.1L318.7 208.6M318.7 208.6L316.2 215.9M308.1 224.8L308.8 225.5M317.4 226.2L316.2 227.0M317.4 226.2L318.4 219.2M318.4 219.2L316.2 215.9M313.5 178.6L321.5 178.7M313.5 178.6L313.1 169.4M321.5 178.7L320.9 170.3M313.1 169.4L320.9 170.3M312.8 169.0L313.1 169.4M312.8 169.0L317.2 156.6M317.2 156.6L323.3 155.8M322.8 168.7L320.9 170.3M183.7 201.8L193.3 204.3M191.7 213.6L193.3 204.3M195.2 193.5L194.8 203.2M205.0 204.9L204.2 205.3M204.2 205.3L194.8 203.2M194.8 203.2L193.3 204.3M218.7 118.3L218.8 118.2M288.7 236.5L280.4 230.3M288.7 236.5L288.7 242.5M288.7 242.5L287.9 243.3M287.9 243.3L278.4 243.1M278.4 243.1L280.4 230.3M279.5 228.6L280.4 230.3M279.5 228.6L286.3 224.6M296.9 231.7L296.8 227.9M296.9 231.7L288.7 236.5M317.5 136.4L307.7 151.6M308.4 153.3L307.7 151.6M302.8 140.0L307.6 151.5M307.6 151.5L307.7 151.6M267.2 157.5L268.3 156.7M268.3 156.7L276.1 156.7M268.5 166.9L275.2 167.4M276.1 156.7L276.5 166.4M275.2 167.4L276.5 166.4M272.4 178.0L275.4 175.9M275.2 167.4L275.4 175.9M280.1 186.4L282.7 178.2M273.4 185.7L273.5 185.8M275.4 175.9L282.7 178.2M278.7 228.3L272.7 229.2M278.7 228.3L277.4 214.7M267.4 222.9L270.8 228.5M267.4 222.9L271.1 214.2M272.7 229.2L270.8 228.5M277.4 214.7L271.1 214.2M279.5 228.6L278.7 228.3M277.7 214.5L277.4 214.7M262.3 232.1L270.8 228.5M262.3 232.1L262.0 240.8M262.0 240.8L270.0 241.3M270.0 241.3L272.7 229.2M280.0 207.2L280.4 207.9M271.0 203.8L269.7 204.8M271.1 214.2L270.9 214.0M269.7 204.8L270.9 214.0M327.7 335.9L328.8 343.3M327.7 335.9L330.8 333.6M328.8 343.3L336.0 342.9M336.8 335.6L336.0 342.9M336.8 335.6L336.6 335.3M330.8 333.6L336.6 335.3M321.8 328.3L321.2 334.6M321.8 328.3L323.6 326.8M321.2 334.6L327.7 335.9M330.8 333.6L329.7 327.5M323.6 326.8L329.7 327.5M353.2 320.8L346.1 321.0M354.2 328.5L346.4 327.7M346.4 327.7L346.1 321.0M336.6 335.3L338.4 328.3M329.7 327.5L330.6 326.5M330.6 326.5L337.4 326.8M338.4 328.3L337.4 326.8M356.1 281.2L355.9 289.5M356.1 281.2L349.0 282.2M347.7 288.2L349.0 282.2M347.7 288.2L348.0 288.6M348.0 288.6L355.9 289.5M364.2 265.6L364.3 260.4M364.2 265.6L364.7 266.1M356.6 273.4L364.7 273.0M356.6 273.4L356.5 273.5M356.5 273.5L356.6 280.9M364.7 273.0L365.0 273.2M365.0 273.2L363.8 282.1M356.6 280.9L363.2 282.6M363.2 282.6L363.8 282.1M358.0 266.0L364.2 265.6M358.0 266.0L356.6 273.4M364.7 266.1L364.7 273.0M356.1 281.2L356.6 280.9M348.3 281.2L349.0 282.2M349.5 271.7L347.6 273.3M349.5 271.7L356.5 273.5M371.4 274.0L365.0 273.2M308.4 262.7L308.4 262.6M308.4 262.7L301.5 262.0M309.7 254.6L308.4 262.6M309.7 254.6L305.8 252.2M301.4 261.9L302.6 253.5M305.8 252.2L302.6 253.5M297.4 232.3L306.4 235.2M297.4 232.3L298.5 243.1M306.4 235.2L305.7 243.0M298.5 243.1L305.7 243.0M296.9 231.7L297.4 232.3M306.4 235.2L306.4 235.2M288.7 242.5L296.5 244.7M296.5 244.7L298.5 243.1M313.6 244.1L307.0 244.4M313.6 244.1L316.3 237.2M316.3 237.2L315.0 235.3M307.0 244.4L305.7 243.0M307.0 244.4L305.8 252.2M296.5 244.7L297.0 251.4M297.0 251.4L302.6 253.5M351.5 247.8L352.4 239.2M351.5 247.8L344.1 248.1M344.1 248.1L343.0 247.0M343.0 247.0L342.2 240.4M350.4 237.5L344.2 238.1M350.4 237.5L352.4 239.2M344.2 238.1L342.2 240.4M360.6 239.1L352.4 239.2M353.3 249.2L359.3 249.9M353.3 249.2L351.5 247.8M341.6 229.0L344.2 238.1M341.6 229.0L342.9 228.2M342.9 228.2L352.0 230.6M352.0 230.6L350.4 237.5M334.0 249.7L343.0 247.0M334.0 249.7L331.6 246.8M342.2 240.4L333.7 238.8M331.6 246.8L333.7 238.8M317.4 226.2L324.9 228.4M324.9 228.4L324.5 237.1M316.3 237.2L323.4 238.0M323.4 238.0L324.5 237.1M324.9 228.4L326.6 227.4M326.6 227.4L334.7 227.8M334.7 227.8L335.0 228.1M335.0 228.1L333.2 238.1M324.5 237.1L333.2 238.1M335.0 228.1L341.6 229.0M333.2 238.1L333.7 238.8M238.6 248.3L240.4 245.6M248.4 255.7L249.5 247.3M249.5 247.3L240.4 245.6M229.7 236.9L231.8 236.3M231.8 236.3L239.9 240.9M240.4 245.6L239.9 240.9M261.5 241.2L261.2 248.6M261.5 241.2L253.3 240.2M250.8 246.6L253.3 240.3M250.8 246.6L256.6 250.4M256.6 250.4L261.2 248.6M253.3 240.2L253.3 240.3M253.3 228.8L253.3 240.2M253.3 228.8L254.1 227.9M254.1 227.9L262.3 232.1M262.0 240.8L261.5 241.2M249.5 247.3L250.8 246.6M239.9 240.9L243.2 237.5M243.2 237.5L253.3 240.3M255.4 256.9L256.6 250.4M263.3 257.9L263.7 250.7M263.3 257.9L263.0 258.1M263.0 258.1L255.7 257.3M263.7 250.7L261.2 248.6M253.3 228.8L244.3 231.0M244.3 231.0L243.2 237.5M278.2 243.2L278.5 250.9M278.2 243.2L270.8 242.3M270.8 242.3L269.5 249.6M278.5 250.9L271.7 252.0M271.7 252.0L269.5 249.6M286.8 251.5L279.7 252.0M286.8 251.5L287.9 243.3M279.7 252.0L278.5 250.9M278.4 243.1L278.2 243.2M270.0 241.3L270.8 242.3M263.7 250.7L269.5 249.6M294.5 253.3L294.1 260.8M294.5 253.3L287.1 251.9M287.1 251.9L286.6 260.2M294.1 260.8L286.6 260.2M294.4 261.2L294.1 260.8M297.0 251.4L294.5 253.3M286.8 251.5L287.1 251.9M285.5 268.2L285.5 268.2M286.6 260.2L286.4 260.4M285.5 268.2L286.4 260.4M279.7 252.0L278.8 259.3M286.4 260.4L278.8 259.3M315.0 279.0L307.8 278.9M315.0 279.0L315.1 271.1M307.8 278.9L307.2 278.2M307.2 278.2L307.5 271.2M315.1 271.1L315.0 270.9M315.0 270.9L308.5 270.4M308.5 270.4L307.5 271.2M306.5 286.0L307.8 278.9M315.1 279.0L315.0 279.0M324.6 273.5L323.1 271.6M324.6 273.5L324.3 279.1M323.1 271.6L315.1 271.1M299.7 277.9L307.2 278.2M300.8 269.9L307.5 271.2M323.1 271.6L323.3 264.6M323.3 264.6L316.3 263.4M316.3 263.4L315.0 270.9M308.4 262.7L308.5 270.4M308.4 262.6L316.1 263.1M316.3 263.4L316.1 263.1M314.7 254.0L317.0 255.6M314.7 254.0L315.3 246.1M317.0 255.6L322.9 254.6M322.9 254.6L324.2 246.8M315.3 246.1L323.8 246.4M324.2 246.8L323.8 246.4M309.7 254.6L314.7 254.0M316.1 263.1L317.0 255.6M313.6 244.1L315.3 246.1M326.7 257.9L326.2 262.2M326.7 257.9L322.9 254.6M323.3 264.6L326.2 262.2M326.7 257.9L333.5 255.2M333.5 255.2L334.0 249.7M331.6 246.8L324.2 246.8M323.4 238.0L323.8 246.4M358.0 266.0L356.9 265.0M349.5 271.7L349.4 266.1M349.4 266.1L356.9 265.0M360.2 256.4L356.6 259.1M356.9 265.0L356.6 259.1M326.4 262.3L330.4 271.0M326.4 262.3L335.0 265.3M335.0 265.3L333.0 271.1M330.4 271.0L333.0 271.1M324.6 273.5L330.4 271.0M326.2 262.2L326.4 262.3M334.3 272.6L333.0 271.1M334.3 272.6L333.6 279.6M333.6 279.6L324.9 279.9M339.7 288.4L339.1 281.1M339.7 288.4L332.4 288.2M332.4 288.2L333.7 279.7M339.1 281.1L333.7 279.7M339.8 280.7L339.1 281.1M339.8 288.4L339.7 288.4M339.8 288.4L347.7 288.2M331.4 288.8L332.4 288.2M333.6 279.6L333.7 279.7M341.7 272.9L341.6 272.8M341.6 272.8L334.3 272.6M317.6 337.7L317.5 340.4M317.6 337.7L314.9 335.8M314.9 335.8L307.9 334.2M316.4 341.8L306.4 343.9M316.4 341.8L317.5 340.4M307.9 334.2L307.0 334.9M307.0 334.9L305.1 340.9M306.4 343.9L305.1 340.9M321.8 328.3L314.2 325.3M314.2 325.3L314.9 335.8M321.2 334.6L317.6 337.7M313.8 324.9L314.2 325.3M308.0 326.7L307.9 334.2M315.8 350.1L315.4 350.4M315.8 350.1L316.4 341.8M305.5 347.8L306.7 349.8M305.5 347.8L306.4 343.9M299.1 332.5L307.0 334.9M297.6 339.5L305.1 340.9M297.1 348.8L305.5 347.8M317.8 340.6L328.7 343.5M317.8 340.6L324.8 350.1M328.7 343.5L326.6 349.8M324.8 350.1L326.6 349.8M328.8 343.3L328.7 343.5M317.5 340.4L317.8 340.6M315.8 350.1L322.4 351.5M322.4 351.5L324.8 350.1M321.2 359.0L327.1 359.6M321.2 359.0L320.0 359.8M320.0 359.8L320.2 366.8M327.1 359.6L327.6 366.6M327.6 366.6L320.3 366.8M320.3 366.8L320.2 366.8M322.4 351.5L321.2 359.0M328.2 351.3L326.6 349.8M328.2 351.3L327.6 359.2M327.6 359.2L327.1 359.6M314.6 358.1L320.0 359.8M311.1 366.1L313.0 368.1M311.1 366.1L313.2 358.8M313.0 368.1L320.2 366.8M332.1 374.0L331.9 370.0M331.9 370.0L327.6 366.6M321.8 376.0L320.3 366.8M312.6 375.2L313.0 368.1M280.8 337.3L283.5 339.9M280.8 337.3L274.7 338.7M283.5 339.9L282.5 345.7M274.7 338.7L274.7 345.1M274.7 345.1L279.6 347.7M279.6 347.7L282.5 345.7M282.5 332.0L281.6 332.9M281.6 332.9L280.8 337.3M290.4 339.1L283.5 339.9M288.4 348.5L282.5 345.7M272.2 337.0L274.7 338.7M272.2 337.0L267.0 337.9M271.0 347.4L274.7 345.1M279.4 354.6L279.6 347.7M296.5 356.4L303.3 358.4M296.5 356.4L294.0 364.6M294.0 364.6L295.2 366.3M295.2 366.3L303.8 364.3M303.8 364.3L303.3 358.4M296.1 355.7L296.5 356.4M306.1 356.0L303.3 358.4M289.7 363.7L294.0 364.6M305.4 366.0L303.8 364.3M305.4 366.0L311.1 366.1M263.0 258.1L262.3 265.9M254.7 265.3L262.3 265.9M262.3 265.9L262.3 265.9M253.8 272.9L261.4 273.8M262.3 265.9L261.4 273.8M260.5 281.4L261.1 280.9M261.1 280.9L261.6 274.0M261.4 273.8L261.6 274.0M277.1 275.5L277.0 275.4M277.1 275.5L275.8 282.5M277.0 275.4L269.2 274.0M269.0 274.1L269.2 274.0M269.0 274.1L268.6 282.1M275.8 282.5L275.5 282.8M275.5 282.8L268.8 282.3M268.6 282.1L268.8 282.3M284.3 275.9L277.1 275.5M283.8 284.1L275.8 282.5M270.0 266.9L269.2 274.0M270.0 266.9L262.3 265.9M261.6 274.0L269.0 274.1M261.1 280.9L268.6 282.1M275.4 290.9L275.5 282.8M267.1 289.7L268.8 282.3M267.4 327.5L268.2 320.0M267.4 327.5L273.3 329.5M268.2 320.0L275.3 321.0M273.3 329.5L274.6 328.7M274.6 328.7L276.9 323.7M276.9 323.7L275.3 321.0M268.0 319.8L268.2 320.0M266.4 328.0L267.4 327.5M272.2 337.0L273.3 329.5M277.7 314.9L275.3 321.0M281.6 332.9L274.6 328.7M283.8 324.2L276.9 323.7M287.0 371.8L278.6 373.9M287.0 371.8L287.9 372.5M283.7 381.0L284.4 380.7M283.7 381.0L279.3 378.8M287.9 372.5L284.4 380.7M279.3 378.8L278.6 373.9M268.8 362.1L269.0 368.5M279.5 365.2L276.8 371.5M269.0 368.5L271.9 371.6M271.9 371.6L276.8 371.5M285.5 366.6L287.0 371.8M276.8 371.5L278.6 373.9M212.9 351.9L212.5 351.2M212.9 351.9L226.2 353.0M212.5 351.2L215.0 343.3M215.0 343.3L225.0 344.9M227.2 349.6L226.9 346.8M227.2 349.6L226.2 353.0M226.9 346.8L225.0 344.9M225.1 361.1L226.8 358.1M226.8 358.1L226.2 353.0M212.5 359.3L212.9 351.9M239.4 350.6L240.7 349.6M239.4 350.6L227.2 349.6M232.4 342.5L226.9 346.8M224.0 335.3L225.0 344.9M216.1 334.2L215.6 334.6M215.0 343.3L214.9 343.2M215.6 334.6L214.9 343.2M183.8 366.3L193.7 366.1M193.7 366.1L194.5 357.7M185.5 356.0L193.8 356.9M193.8 356.9L194.5 357.7M194.7 367.0L193.7 366.1M203.5 359.0L202.6 357.8M202.6 357.8L194.5 357.7M195.5 348.8L187.2 347.5M195.5 348.8L193.8 356.9M362.1 191.6L365.1 195.6M375.1 187.9L371.1 194.1M365.1 195.6L371.1 194.1M287.8 127.9L289.9 119.8M287.8 127.9L280.8 127.7M280.8 127.7L280.3 119.4M289.5 119.2L283.1 117.7M289.5 119.2L289.9 119.8M283.1 117.7L280.3 119.4M289.2 129.7L287.8 127.9M298.4 121.4L289.9 119.8M291.6 111.7L289.5 119.2M282.4 110.2L283.1 117.7M243.1 142.3L242.8 152.8M243.1 142.3L235.3 141.2M234.2 152.5L233.0 143.5M234.2 152.5L242.7 152.8M242.8 152.8L242.7 152.8M235.3 141.2L233.0 143.5M222.7 152.7L224.7 142.3M232.5 154.5L234.2 152.5M233.0 143.5L224.7 142.3M243.1 142.3L245.0 141.3M251.8 144.3L245.0 141.3M251.8 144.3L252.2 144.9M242.8 152.8L251.2 152.2M252.2 144.9L251.2 152.2M250.9 163.4L250.8 163.2M250.9 163.4L248.3 172.3M250.8 163.2L243.3 161.5M248.3 172.3L240.7 171.1M240.7 171.1L240.3 163.7M240.3 163.7L243.3 161.5M260.4 155.7L259.3 154.2M257.4 164.3L250.9 163.4M259.3 154.2L252.0 153.1M252.0 153.1L250.8 163.2M248.5 172.6L256.4 175.5M248.5 172.6L248.3 172.3M242.7 152.8L243.3 161.5M251.2 152.2L252.0 153.1M238.8 172.7L240.7 171.1M239.4 181.6L245.5 182.7M248.5 172.6L245.5 182.7M232.5 161.1L240.3 163.7M221.8 219.2L222.0 219.4M233.4 209.8L232.4 217.9M232.4 217.9L222.0 219.4M211.7 217.8L212.2 217.4M211.7 217.8L210.4 231.4M210.4 231.4L210.6 231.8M220.2 232.6L222.7 226.3M222.0 219.4L222.7 226.3M264.4 186.9L263.5 193.2M272.4 196.2L263.9 193.8M263.9 193.8L263.5 193.2M269.7 204.8L261.8 204.5M263.9 193.8L261.8 204.5M237.5 192.1L245.8 193.0M235.3 201.8L245.5 201.9M245.8 193.0L245.5 201.9M263.5 193.2L255.1 193.5M261.8 204.5L261.5 204.8M261.5 204.8L254.3 202.6M255.1 193.5L254.3 202.6M233.8 209.5L242.0 211.8M244.6 209.7L242.0 211.8M244.6 209.7L245.6 202.0M245.6 202.0L245.5 201.9M251.8 212.6L244.6 209.7M251.8 212.6L253.5 203.0M245.6 202.0L253.5 203.0M647.8 264.7L649.7 267.2M647.8 264.7L639.9 267.0M649.7 267.2L647.2 273.0M647.2 273.0L640.1 274.0M640.1 274.0L638.8 269.3M638.8 269.3L639.9 267.0M646.5 257.5L647.8 264.7M655.9 266.8L649.7 267.2M638.8 258.3L639.9 267.0M639.1 275.6L640.1 274.0M629.8 265.9L638.8 269.3M663.8 266.1L670.5 263.0M348.3 303.7L346.8 305.2M348.3 303.7L355.1 303.9M355.5 312.4L356.0 305.2M354.8 312.9L347.7 312.0M347.7 312.0L346.8 305.2M355.1 303.9L356.0 305.2M418.2 207.6L411.0 208.0M418.2 207.6L418.1 200.4M411.0 208.0L411.4 200.5M418.1 200.4L411.4 200.5M414.1 187.4L424.6 189.1M427.7 177.0L429.4 184.1M389.7 184.6L391.4 189.2M383.3 199.0L380.0 201.4M371.1 194.1L374.7 201.6M395.1 207.3L395.5 215.3M395.6 206.9L403.0 207.6M403.6 207.0L403.0 207.6M410.7 199.9L411.4 200.5M410.9 208.1L411.0 208.0M410.9 208.1L403.6 207.0M204.4 524.7L196.9 521.1M204.4 524.7L203.4 533.2M203.4 533.2L198.7 534.4M192.7 523.6L196.9 521.1M192.7 523.6L195.8 532.6M195.8 532.6L198.7 534.4M210.8 517.6L205.7 524.1M210.8 517.6L209.0 514.7M205.7 524.1L204.4 524.7M209.0 514.7L197.8 514.2M197.8 514.2L196.9 521.1M188.4 535.6L195.8 532.6M191.2 523.6L192.7 523.6M191.7 544.7L195.6 543.6M195.6 543.6L198.7 534.4M260.6 499.1L262.3 504.5M260.6 499.1L259.2 497.0M255.9 506.6L251.0 503.8M259.2 497.0L251.6 496.2M251.6 496.2L251.0 503.8M190.2 551.3L193.0 555.5M190.6 561.5L193.0 555.5M310.1 525.5L307.7 521.1M310.1 525.5L317.8 527.0M319.6 519.0L317.8 527.0M319.6 519.0L310.9 517.3M310.9 517.3L307.7 521.1M320.5 518.2L320.9 511.3M320.5 518.2L319.6 519.0M320.9 511.3L311.3 511.0M311.3 511.0L310.9 517.3M303.5 520.5L298.0 527.3M303.5 520.5L300.4 516.5M300.4 516.5L294.7 516.9M294.7 516.9L291.8 526.0M298.0 527.3L293.3 528.1M293.3 528.1L291.8 526.0M305.2 533.6L307.7 531.0M305.2 533.6L298.0 527.3M307.7 531.0L310.1 525.5M307.7 521.1L303.5 520.5M301.5 511.3L294.6 506.5M301.5 511.3L300.4 516.5M291.8 514.5L294.7 516.9M291.8 514.5L292.8 507.9M292.8 507.9L294.6 506.5M362.9 320.7L364.4 320.9M360.1 329.0L370.0 329.1M370.0 329.1L370.6 326.9M370.6 326.9L364.4 320.9M362.1 313.8L362.3 313.6M363.6 305.2L356.0 305.2M363.6 305.2L364.0 305.7M364.0 305.7L362.3 313.6M342.8 365.2L343.4 360.9M342.8 365.2L334.3 367.0M334.3 367.0L334.1 359.5M343.4 360.9L343.0 360.2M343.0 360.2L336.0 357.4M334.1 359.5L336.0 357.4M351.6 367.6L350.3 368.8M351.6 367.6L352.4 359.7M350.3 368.8L344.2 367.4M344.2 367.4L342.8 365.2M352.4 359.7L343.4 360.9M331.9 370.0L334.3 367.0M332.6 374.3L341.5 374.5M344.2 367.4L341.5 374.5M327.6 359.2L334.1 359.5M328.2 351.3L335.6 352.5M335.6 352.5L336.0 357.4M335.6 352.5L336.4 351.5M336.0 342.9L336.6 343.6M336.4 351.5L336.6 343.6M354.8 329.0L351.8 336.3M345.7 328.6L346.4 327.7M345.7 328.6L345.9 334.3M345.9 334.3L351.8 336.3M336.8 335.6L344.1 335.8M345.7 328.6L338.4 328.3M345.9 334.3L344.1 335.8M359.9 329.1L361.2 335.7M361.2 335.7L352.8 337.9M352.8 337.9L351.8 336.3M379.6 332.0L385.8 333.3M379.6 332.0L378.7 332.7M385.8 333.3L385.1 340.2M385.1 340.2L378.4 339.9M378.7 332.7L378.4 339.9M378.3 347.5L377.6 346.8M377.6 346.8L377.8 340.4M385.1 340.2L385.9 341.1M385.9 341.1L385.8 346.8M378.4 339.9L377.8 340.4M341.6 438.8L343.7 433.5M348.0 446.3L349.0 444.6M343.7 433.5L348.0 433.6M349.0 444.6L349.9 435.2M348.0 433.6L349.9 435.2M424.8 347.4L425.2 347.0M421.9 340.1L424.8 343.0M425.2 347.0L424.8 343.0M353.7 373.5L361.2 370.3M353.7 373.5L356.8 377.3M356.8 377.3L361.2 373.4M361.2 370.3L361.2 373.4M341.1 390.0L339.0 396.6M341.1 390.0L329.8 393.8M339.0 396.6L333.4 398.2M333.4 398.2L329.2 395.5M329.2 395.5L329.8 393.8M340.8 388.6L341.2 389.7M330.5 390.4L329.8 393.8M341.2 389.7L341.1 390.0M328.8 395.6L321.0 391.8M328.8 395.6L329.2 395.5M321.0 391.8L321.3 386.3M350.8 372.7L350.3 368.8M350.8 372.7L349.7 374.9M341.5 374.5L344.2 377.3M349.7 374.9L344.2 377.3M339.1 382.3L344.2 378.3M344.2 377.3L344.2 378.3M341.1 387.8L344.9 384.1M344.9 384.1L344.8 379.4M344.2 378.3L344.8 379.4M349.7 374.9L353.8 381.1M344.8 379.4L351.6 382.5M351.6 382.5L353.8 381.1M355.6 380.8L356.8 377.3M355.6 380.8L354.7 381.1M350.8 372.7L353.7 373.5M354.7 381.1L353.8 381.1M359.6 360.2L359.8 359.9M359.6 360.2L360.0 368.3M359.8 359.9L367.2 360.5M367.2 360.5L363.9 369.3M360.0 368.3L361.3 369.9M361.3 369.9L363.8 369.4M363.8 369.4L363.9 369.3M351.6 367.6L360.0 368.3M352.4 359.7L352.4 359.7M352.4 359.7L359.6 360.2M361.2 370.3L361.3 369.9M363.9 352.2L369.8 354.9M363.9 352.2L367.7 346.1M367.7 346.1L370.4 346.3M370.7 354.1L369.8 354.9M370.7 354.1L371.4 347.3M371.4 347.3L370.4 346.3M360.9 352.3L363.9 352.2M360.9 352.3L359.8 359.9M369.0 359.9L369.8 354.9M369.0 359.9L367.2 360.5M360.6 352.0L360.9 352.3M360.6 352.0L361.0 345.1M365.4 344.5L361.0 345.1M365.4 344.5L367.7 346.1M377.6 346.8L371.4 347.3M378.2 354.5L370.7 354.1M431.2 301.6L431.2 301.7M424.1 308.9L430.4 308.6M431.2 301.7L430.4 308.6M438.4 294.4L437.5 301.2M431.2 301.7L437.5 301.2M517.8 313.9L512.5 314.7M509.8 304.9L506.5 306.3M506.5 306.3L512.5 314.7M422.9 338.5L431.3 339.0M424.8 343.0L430.4 344.3M430.4 344.3L431.3 339.0M424.0 331.9L430.3 331.8M430.3 331.8L431.5 338.8M431.3 339.0L431.5 338.8M453.9 332.0L454.1 339.8M453.9 332.0L460.3 332.1M454.1 339.8L461.1 339.5M460.3 332.1L461.1 339.5M417.0 278.4L423.7 279.6M417.0 278.4L417.5 271.6M417.5 271.6L424.7 271.9M424.7 271.9L424.4 279.1M423.7 279.6L424.4 279.1M414.6 280.5L417.0 278.4M414.6 280.5L417.7 287.1M423.0 286.0L423.7 279.6M417.2 271.4L417.4 264.5M417.2 271.4L417.5 271.6M425.4 264.6L424.3 263.7M425.0 271.6L424.7 271.9M424.3 263.7L417.4 264.5M430.3 280.0L424.4 279.1M419.2 350.2L414.6 354.8M414.1 346.1L411.4 347.7M411.4 347.7L411.1 351.9M411.1 351.9L414.6 354.8M400.4 325.8L394.3 325.8M394.1 318.3L394.0 318.4M394.0 318.4L393.7 325.4M394.3 325.8L393.7 325.4M385.9 341.1L393.9 339.8M393.0 347.4L393.9 339.9M393.9 339.9L393.9 339.8M385.8 333.3L386.5 332.9M386.5 332.9L393.2 334.4M393.9 339.8L393.2 334.4M402.1 332.8L401.7 333.2M394.3 325.8L394.4 333.1M401.7 333.2L394.4 333.1M386.5 332.9L387.6 326.0M387.6 326.0L393.7 325.4M394.4 333.1L393.2 334.4M388.0 356.3L387.9 356.8M387.9 356.8L381.8 360.4M378.2 354.5L378.4 359.0M378.4 359.0L381.8 360.4M387.9 356.8L388.1 365.3M388.1 365.3L383.6 365.1M381.8 360.4L383.6 365.1M378.4 359.0L375.1 363.1M381.2 366.6L383.6 365.1M381.2 366.6L375.6 363.5M375.6 363.5L375.1 363.1M369.0 359.9L372.5 363.3M375.1 363.1L372.5 363.3M363.9 369.3L372.3 363.9M372.3 363.9L372.5 363.3M406.8 341.1L408.4 346.1M406.8 341.1L400.8 340.9M400.4 346.6L404.9 348.0M400.4 346.6L400.8 340.9M408.4 346.1L404.9 348.0M400.8 340.9L400.8 340.9M411.4 347.7L408.4 346.1M407.8 340.1L406.8 341.1M401.7 333.2L400.8 340.9M399.3 347.9L400.4 346.6M393.9 339.9L400.8 340.9M194.8 471.4L187.0 475.5M194.9 483.3L188.0 483.5M239.4 350.6L238.1 359.3M247.4 352.0L244.6 360.5M244.6 360.5L238.1 359.3M226.8 358.1L237.4 359.7M236.3 369.8L236.9 369.1M236.9 369.1L237.4 359.7M237.4 359.7L238.1 359.3M261.5 361.2L259.9 362.2M253.3 352.6L254.0 361.5M259.9 362.2L254.0 361.5M285.4 388.8L286.0 397.6M285.4 388.8L292.2 388.2M292.2 388.2L294.4 391.8M294.4 391.8L293.8 396.9M293.8 396.9L286.4 398.0M286.0 397.6L286.4 398.0M283.8 387.7L285.4 388.8M283.8 387.7L276.5 390.4M276.5 390.4L275.9 394.5M276.6 395.6L286.0 397.6M276.6 395.6L275.9 394.5M283.7 381.0L283.8 387.7M284.4 380.7L294.1 381.4M294.1 381.4L292.2 388.2M294.9 371.9L303.3 372.9M294.9 371.9L293.6 373.3M293.6 373.3L294.4 381.1M294.4 381.1L302.2 382.4M305.2 376.0L303.3 372.9M305.2 376.0L302.4 382.3M302.4 382.3L302.2 382.4M305.4 366.0L303.3 372.9M295.2 366.3L294.9 371.9M287.9 372.5L293.6 373.3M294.1 381.4L294.4 381.1M300.9 389.7L302.2 382.4M300.9 389.7L294.4 391.8M312.3 375.5L305.2 376.0M310.9 386.5L312.4 384.8M310.9 386.5L302.4 382.3M343.7 433.5L340.2 430.6M348.8 425.4L349.2 425.8M348.8 425.4L342.1 426.7M349.2 425.8L348.0 433.6M340.2 430.6L342.1 426.7M263.1 512.8L262.8 512.3M262.6 504.7L269.7 504.3M269.4 514.0L271.2 506.6M269.7 504.3L271.2 506.6M260.6 499.1L269.2 495.5M272.6 499.4L269.7 504.3M272.6 499.4L272.0 496.9M269.2 495.5L272.0 496.9M295.4 503.1L292.8 498.6M295.4 503.1L303.7 501.3M302.7 494.2L303.7 501.3M302.7 494.2L295.1 492.9M292.8 498.6L295.1 492.9M213.7 407.0L224.1 408.6M217.3 394.9L225.8 397.8M224.1 408.6L225.8 397.8M212.7 416.6L217.1 419.2M217.1 419.2L221.7 416.6M224.1 408.6L224.3 408.9M221.7 416.6L224.3 408.9M346.1 455.6L347.0 458.4M333.2 462.2L343.3 466.6M347.0 458.4L343.3 466.6M332.7 470.8L339.1 471.3M339.1 471.3L343.5 467.8M343.5 467.8L343.3 466.6M330.5 473.0L331.5 479.5M339.1 471.3L339.1 480.2M339.1 480.2L331.5 479.5M323.1 479.8L320.8 477.4M323.1 479.8L331.0 480.1M320.8 477.4L323.0 471.9M324.0 471.1L323.0 471.9M331.0 480.1L331.5 479.5M330.0 495.5L321.5 493.7M330.0 495.5L331.6 493.5M331.6 493.5L330.1 487.8M321.5 493.7L322.1 488.1M329.9 487.6L330.1 487.8M329.9 487.6L322.2 488.0M322.2 488.0L322.1 488.1M322.4 503.2L320.1 495.7M328.3 502.4L329.1 501.6M329.1 501.6L330.0 495.5M320.1 495.7L321.5 493.7M315.4 486.1L322.1 488.1M320.1 495.7L313.2 495.3M313.2 495.3L312.5 494.3M323.1 479.8L322.2 488.0M331.0 480.1L329.9 487.6M314.6 478.7L320.8 477.4M312.6 503.4L311.1 510.8M312.6 503.4L311.2 501.4M311.2 501.4L303.7 501.3M303.7 501.3L304.2 509.4M304.2 509.4L311.1 510.8M321.8 503.9L312.6 503.4M320.9 511.3L321.3 510.8M311.3 511.0L311.1 510.8M313.2 495.3L311.2 501.4M305.6 491.5L302.7 494.2M303.7 501.3L303.7 501.3M301.5 511.3L304.2 509.4M294.6 506.5L295.4 503.1M580.2 261.2L580.0 266.5M570.1 263.1L576.6 268.8M580.0 266.5L576.6 268.8M570.2 273.8L565.1 267.0M570.2 273.8L575.4 274.6M576.6 268.8L575.4 274.6M558.4 274.4L566.2 278.6M558.4 274.4L558.3 284.6M558.3 284.6L559.4 285.4M559.4 285.4L566.7 282.3M566.7 282.3L566.2 278.6M570.2 273.8L566.2 278.6M558.0 273.5L558.4 274.4M554.0 284.6L558.3 284.6M560.5 290.7L559.4 285.4M567.4 282.8L566.7 282.3M575.6 283.2L575.7 274.8M575.7 274.8L575.4 274.6M581.6 318.1L587.1 317.2M581.6 318.1L587.7 323.5M587.1 317.2L589.1 322.4M587.7 323.5L589.1 322.4M579.0 317.2L581.6 318.1M587.9 314.2L587.1 317.2M585.9 326.9L587.7 323.5M593.9 330.5L587.2 329.7M593.9 330.5L593.0 321.4M587.2 329.7L586.7 329.4M593.0 321.4L589.1 322.4M593.6 321.0L593.0 313.0M593.6 321.0L601.1 322.5M593.0 313.0L600.3 314.3M601.1 322.5L601.4 315.6M601.4 315.6L600.3 314.3M593.0 321.4L593.6 321.0M592.6 312.5L593.0 313.0M601.1 309.0L600.3 314.3M617.5 291.1L611.6 294.7M610.6 295.6L611.6 294.7M570.2 331.5L569.6 333.2M566.1 328.6L561.6 328.3M560.3 332.6L561.6 328.3M573.3 328.5L570.2 331.5M567.7 325.0L566.1 328.6M566.9 339.7L570.0 336.7M570.0 336.7L569.6 333.2M559.9 333.1L560.3 332.6M561.2 326.9L561.6 328.3M593.9 330.5L594.7 330.9M613.4 281.8L611.3 283.5M613.4 281.8L603.9 276.2M611.3 283.5L606.2 286.3M606.2 286.3L601.9 279.6M603.9 276.2L601.9 279.6M613.6 281.8L613.4 281.8M608.2 266.8L603.4 271.0M603.4 271.0L603.9 276.2M604.5 289.5L606.2 286.3M597.9 281.4L601.9 279.6M603.4 271.0L598.3 270.5M598.3 270.5L595.3 278.8M587.2 329.7L590.0 336.8M498.3 436.0L493.6 441.3M498.3 436.0L502.6 437.5M502.6 437.5L502.9 446.9M493.6 441.3L500.7 448.5M500.7 448.5L502.9 446.9M539.2 321.6L538.3 326.8M525.0 324.4L526.0 326.3M538.3 326.8L534.1 330.7M526.0 326.3L534.1 330.7M559.9 333.1L557.1 334.6M552.2 330.2L550.9 325.3M552.2 330.2L554.5 333.7M554.5 333.7L557.1 334.6M493.5 287.1L491.5 284.5M493.5 287.1L500.1 288.5M497.2 275.7L496.1 276.2M491.5 284.5L491.6 279.6M496.1 276.2L491.6 279.6M493.5 287.1L489.6 294.1M491.5 284.5L483.6 286.0M489.6 294.1L483.2 292.9M483.2 292.9L483.4 286.3M483.4 286.3L483.6 286.0M467.2 288.0L468.5 293.5M468.9 286.0L475.0 285.7M468.5 293.5L475.9 293.2M475.9 293.2L475.6 286.4M475.6 286.4L475.0 285.7M572.9 206.1L575.3 212.5M563.1 212.8L571.2 216.8M571.2 216.8L575.3 212.5M571.4 224.1L571.2 216.8M583.6 221.1L580.9 213.7M580.9 213.7L575.3 212.5M605.8 209.0L599.4 199.6M609.4 198.7L602.5 194.7M599.4 199.6L602.5 194.7M417.2 271.4L409.0 271.5M409.0 271.5L408.8 271.8M414.6 280.5L409.4 280.2M409.4 280.2L408.8 271.8M409.3 289.7L409.2 280.3M409.4 280.2L409.2 280.3M402.4 289.1L402.5 281.1M409.2 280.3L402.5 281.1M409.0 271.5L409.8 264.0M417.4 264.5L416.6 263.8M416.6 263.8L409.8 264.0M335.7 174.2L330.7 178.5M338.0 189.6L329.5 189.1M329.5 189.1L330.7 178.5M321.5 178.7L322.2 179.1M330.7 178.5L322.2 179.1M327.2 208.7L326.4 209.2M327.2 208.7L335.9 209.8M326.4 209.2L326.2 218.0M326.3 218.0L335.3 219.1M326.3 218.0L326.2 218.0M336.5 210.4L335.9 209.8M336.5 210.4L335.9 218.3M335.9 218.3L335.3 219.1M318.7 208.6L319.5 208.1M318.4 219.2L326.2 218.0M319.5 208.1L326.4 209.2M326.6 227.4L326.3 218.0M334.7 227.8L335.3 219.1M344.6 210.1L347.1 200.7M344.6 210.1L336.5 210.4M337.1 199.5L335.9 209.8M192.2 214.4L201.8 216.0M192.2 214.4L190.1 223.9M201.0 224.8L202.6 217.0M201.0 224.8L193.0 228.9M202.6 217.0L201.8 216.0M193.0 228.9L190.1 223.9M191.7 213.6L192.2 214.4M204.2 205.3L201.8 216.0M211.7 217.8L202.6 217.0M210.4 231.4L201.0 224.8M192.9 229.5L193.0 228.9M248.5 113.1L239.9 114.2M251.8 144.3L254.5 135.3M245.0 141.3L246.5 133.4M254.5 135.3L252.6 132.7M246.5 133.4L252.6 132.7M296.1 140.5L294.6 148.0M286.8 138.2L287.2 138.0M286.8 138.2L287.5 147.9M287.5 147.9L294.6 148.0M307.6 151.5L295.2 148.8M294.6 148.0L295.2 148.8M252.6 213.6L251.1 220.1M252.6 213.6L261.0 211.9M261.5 212.6L261.0 211.9M261.5 212.6L261.4 220.8M261.4 220.8L254.4 224.8M254.4 224.8L251.1 220.1M251.8 212.6L252.6 213.6M242.7 219.5L242.0 211.8M242.7 219.5L251.1 220.1M261.5 204.8L261.0 211.9M253.5 203.0L254.3 202.6M270.9 214.0L261.5 212.6M267.4 222.9L261.4 220.8M254.1 227.9L254.4 224.8M302.7 187.5L310.3 187.8M302.7 187.5L300.2 189.5M300.2 189.5L299.9 197.3M299.9 197.3L310.0 198.3M310.3 187.8L310.5 197.8M310.5 197.8L310.0 198.3M311.1 187.2L312.3 179.8M311.1 187.2L310.3 187.8M312.3 179.8L303.3 176.2M300.7 179.3L303.3 176.2M300.7 179.3L302.7 187.5M291.5 187.4L300.2 189.5M291.5 187.4L291.2 178.7M300.7 179.3L291.2 178.7M298.9 206.1L298.8 198.5M298.9 206.1L288.8 207.1M298.8 198.5L290.7 197.1M288.8 207.1L288.5 198.5M288.5 198.5L290.7 197.1M300.2 207.6L298.9 206.1M309.2 206.1L310.0 198.3M299.9 197.3L298.8 198.5M288.4 207.6L288.8 207.1M291.5 187.4L291.1 187.7M291.1 187.7L290.7 197.1M280.8 196.1L288.5 198.5M282.1 189.1L291.1 187.7M329.7 318.1L323.2 318.9M329.7 318.1L330.0 311.4M323.3 309.7L330.0 311.4M323.3 309.7L322.2 318.2M322.2 318.2L323.2 318.9M323.6 326.8L323.2 318.9M330.6 326.5L331.1 319.1M331.1 319.1L329.7 318.1M322.0 303.6L330.6 304.1M320.4 305.5L323.3 309.7M331.4 310.2L330.6 304.1M331.4 310.2L330.0 311.4M316.4 318.3L322.2 318.2M336.9 318.6L338.9 320.4M336.9 318.6L338.1 311.4M338.9 320.4L345.4 320.2M338.1 311.4L346.5 313.2M346.5 313.2L345.4 320.2M331.1 319.1L336.9 318.6M337.4 326.8L338.9 320.4M331.4 310.2L337.7 310.7M337.7 310.7L338.1 311.4M346.1 321.0L345.4 320.2M347.7 312.0L346.5 313.2M395.1 296.8L387.8 296.2M395.0 289.6L388.6 289.6M388.6 289.6L387.6 290.3M387.6 290.3L387.8 296.2M387.5 303.6L388.1 304.1M387.5 303.6L387.1 297.0M388.1 304.1L394.1 304.0M387.1 297.0L387.8 296.2M372.7 280.5L374.5 282.3M374.5 282.3L382.2 281.6M383.0 280.7L382.2 281.6M368.4 282.1L372.7 280.5M368.4 282.1L363.8 282.1M360.8 238.9L360.6 229.8M352.0 230.6L353.8 229.1M353.8 229.1L360.6 229.8M345.2 220.0L346.1 221.2M345.2 220.0L345.4 210.9M346.1 221.2L351.5 221.3M345.4 210.9L353.3 212.1M353.3 212.1L352.6 220.3M352.6 220.3L351.5 221.3M342.9 228.2L346.1 221.2M335.9 218.3L345.2 220.0M344.6 210.1L345.4 210.9M353.8 229.1L351.5 221.3M354.6 211.2L353.7 201.2M354.6 211.2L353.3 212.1M354.6 211.2L361.7 212.0M361.7 212.0L362.2 220.7M362.2 220.7L352.6 220.3M333.5 255.2L334.8 256.2M344.1 248.1L343.9 255.7M334.8 256.2L343.9 255.7M335.0 265.3L336.9 263.9M334.8 256.2L336.9 263.9M341.6 272.8L340.7 264.6M336.9 263.9L340.7 264.6M277.6 267.4L270.1 266.8M277.6 267.4L277.9 267.2M277.9 267.2L278.4 259.6M270.1 266.8L270.7 258.6M278.4 259.6L270.8 258.6M270.8 258.6L270.7 258.6M270.0 266.9L270.1 266.8M277.0 275.4L277.6 267.4M285.5 268.2L277.9 267.2M278.8 259.3L278.4 259.6M263.3 257.9L270.7 258.6M271.7 252.0L270.8 258.6M278.2 379.6L270.0 380.7M278.2 379.6L275.8 389.5M270.0 380.7L270.0 385.9M275.8 389.5L270.0 385.9M279.3 378.8L278.2 379.6M271.9 371.6L268.5 378.7M268.5 378.7L270.0 380.7M276.5 390.4L275.8 389.5M198.4 331.9L198.5 331.9M208.5 324.4L206.9 333.3M206.9 333.3L198.5 331.9M215.6 334.6L207.1 333.5M206.9 333.3L207.1 333.5M214.9 343.2L205.9 341.3M207.1 333.5L205.9 341.3M188.4 339.2L196.6 340.3M198.5 331.9L196.6 340.3M372.6 203.2L363.9 201.3M363.2 210.6L363.0 202.1M363.0 202.1L363.9 201.3M371.6 211.8L371.3 211.5M365.1 195.6L363.9 201.3M354.5 200.7L363.0 202.1M361.7 212.0L363.2 210.6M216.6 129.4L214.5 140.3M216.6 129.4L225.5 130.8M225.5 130.8L224.2 141.8M224.2 141.8L215.2 141.1M214.5 140.3L215.2 141.1M205.1 138.9L214.5 140.3M216.5 129.2L216.6 129.4M213.4 151.5L215.2 141.1M224.7 142.3L224.2 141.8M235.2 229.2L242.7 229.6M235.2 229.2L233.6 225.9M233.6 225.9L234.8 220.8M242.7 229.6L242.6 219.6M242.6 219.6L234.8 220.8M244.3 231.0L242.7 229.6M231.8 236.3L235.2 229.2M222.7 226.3L233.6 225.9M232.4 217.9L234.8 220.8M242.7 219.5L242.6 219.6M254.0 192.6L246.0 192.8M254.0 192.6L254.8 183.3M246.0 192.8L246.1 183.3M254.8 183.3L246.1 183.3M245.8 193.0L246.0 192.8M255.1 193.5L254.0 192.6M255.9 182.5L254.8 183.3M245.5 182.7L246.1 183.3M348.3 295.4L355.9 296.3M348.3 295.4L348.0 288.6M355.9 289.5L356.4 290.0M356.4 290.0L355.9 296.3M363.2 282.6L363.3 288.8M356.4 290.0L363.3 288.8M348.3 303.7L347.5 296.3M347.5 296.3L348.3 295.4M355.1 303.9L356.8 297.4M355.9 296.3L356.8 297.4M394.3 247.1L402.1 247.0M394.3 247.1L394.4 239.6M394.5 239.6L394.4 239.6M394.5 239.6L401.9 239.3M402.1 247.0L402.0 239.4M401.9 239.3L402.0 239.4M388.3 238.9L394.4 239.6M394.9 230.9L385.6 230.8M394.9 230.9L394.5 239.6M409.6 239.7L410.3 240.5M409.6 239.7L402.0 239.4M402.1 247.0L402.1 247.0M402.1 247.0L409.3 247.6M409.3 247.6L410.3 240.5M370.5 232.1L360.8 229.6M360.8 229.6L363.3 222.2M363.3 222.2L370.3 221.9M370.3 221.9L371.2 222.6M360.6 229.8L360.8 229.6M362.2 220.7L363.3 222.2M371.6 211.8L370.3 221.9M394.4 255.2L394.3 247.1M401.4 255.4L402.1 247.0M401.4 255.4L394.6 255.4M394.6 255.4L394.4 255.2M394.3 247.1L394.3 247.1M393.9 263.4L393.6 263.7M393.9 263.4L394.6 255.4M395.5 215.3L395.6 215.4M403.0 207.6L402.9 214.7M395.6 215.4L402.7 214.9M402.9 214.7L402.7 214.9M410.9 208.1L410.8 215.2M402.9 214.7L410.8 215.2M207.2 424.2L207.0 423.8M207.2 424.2L216.2 427.1M217.1 419.2L217.5 425.6M216.2 427.1L217.5 425.6M236.0 493.9L229.0 494.9M236.0 493.9L236.1 493.1M222.7 482.9L232.6 485.5M225.2 493.0L229.0 494.9M236.1 493.1L232.6 485.5M193.0 555.5L199.2 556.1M293.7 554.6L286.3 549.8M293.7 554.6L294.3 557.5M286.3 549.8L282.7 550.9M282.7 550.9L281.8 559.0M281.8 559.0L287.9 561.8M294.3 557.5L287.9 561.8M293.7 554.6L299.6 547.3M301.5 559.2L304.0 554.3M301.5 559.2L295.9 558.4M294.3 557.5L295.9 558.4M299.6 547.3L304.0 554.3M286.3 549.8L290.3 544.5M299.6 547.3L299.6 546.5M299.6 546.5L296.1 543.2M290.3 544.5L296.1 543.2M305.2 533.6L305.2 534.2M305.2 534.2L296.6 538.5M293.3 528.1L292.0 531.8M296.6 538.5L292.0 531.8M251.2 538.9L249.0 546.1M251.2 538.9L253.1 537.8M253.1 537.8L259.1 542.0M249.0 546.1L258.5 546.4M259.1 542.0L258.5 546.4M258.5 546.4L260.3 548.9M282.7 550.9L281.3 549.8M271.2 551.0L275.1 549.0M281.3 549.8L275.1 549.0M237.2 495.4L237.0 502.9M237.2 495.4L245.2 496.2M245.2 496.2L243.8 504.6M237.0 502.9L243.8 504.6M245.2 496.2L249.7 494.3M249.7 494.3L251.6 496.2M251.0 503.8L246.0 507.0M246.0 507.0L243.8 504.6M251.2 538.9L245.2 535.4M240.5 543.1L242.0 536.2M245.2 535.4L242.0 536.2M195.6 543.6L201.4 545.6M201.4 545.6L202.4 554.4M206.0 535.3L206.3 543.1M206.0 535.3L203.4 533.2M201.4 545.6L206.3 543.1M218.6 483.9L206.6 485.6M206.6 485.6L206.2 493.4M214.8 494.6L207.6 494.4M206.2 493.4L207.6 494.4M394.0 318.4L386.5 318.3M387.6 326.0L386.8 325.2M386.5 318.3L386.8 325.2M364.0 305.7L365.8 305.9M362.3 313.6L366.5 313.4M365.8 305.9L370.8 310.1M366.5 313.4L370.8 310.1M364.4 320.9L370.4 318.0M366.5 313.4L370.4 318.0M339.7 304.3L339.4 304.5M339.7 304.3L339.5 296.7M339.4 304.5L331.7 303.1M339.5 296.7L339.0 296.2M339.0 296.2L331.9 296.2M331.9 296.2L331.7 303.1M346.8 305.2L339.7 304.3M337.7 310.7L339.4 304.5M347.5 296.3L339.5 296.7M330.6 304.1L331.7 303.1M339.8 288.4L339.0 296.2M331.3 295.7L331.9 296.2M345.3 351.4L351.1 352.0M345.3 351.4L345.2 351.4M345.2 351.4L344.0 343.9M352.5 350.8L351.1 352.0M352.5 350.8L353.2 343.4M353.2 343.4L352.5 342.5M352.5 342.5L344.8 343.2M344.0 343.9L344.8 343.2M352.4 359.7L351.1 352.0M343.0 360.2L345.3 351.4M336.4 351.5L345.2 351.4M336.6 343.6L344.0 343.9M360.6 352.0L352.5 350.8M359.5 343.7L361.0 345.1M359.5 343.7L353.2 343.4M361.2 335.7L361.9 336.4M352.8 337.9L352.5 342.5M361.9 336.4L359.5 343.7M344.1 335.8L344.8 343.2M366.1 339.1L363.8 336.8M366.1 339.1L371.8 339.3M363.8 336.8L370.6 331.0M371.8 339.3L372.0 339.2M372.0 339.2L372.0 332.4M370.6 331.0L372.0 332.4M361.9 336.4L363.8 336.8M365.4 344.5L366.1 339.1M370.4 346.3L371.8 339.3M370.0 329.1L370.6 331.0M377.8 340.4L372.0 339.2M378.7 332.7L372.0 332.4M454.1 408.6L446.4 407.9M454.1 408.6L454.7 414.6M450.7 415.2L454.7 414.6M450.7 415.2L446.3 410.8M446.3 410.8L446.4 407.9M450.7 400.7L446.1 404.0M450.7 400.7L453.0 401.8M446.1 404.0L446.4 407.9M454.1 408.6L454.3 408.4M453.0 401.8L454.3 408.4M446.4 407.9L446.4 407.9M320.5 518.2L328.9 520.7M330.1 512.7L330.8 519.2M328.9 520.7L330.8 519.2M331.6 493.5L337.8 494.5M330.1 487.8L341.5 486.6M337.8 494.5L341.5 486.6M424.6 360.1L426.5 358.5M424.6 360.1L425.2 365.5M425.2 365.5L430.8 363.9M430.8 363.9L426.8 358.6M426.5 358.5L426.8 358.6M431.2 364.0L434.8 363.1M431.2 364.0L430.8 363.9M434.8 363.1L435.4 361.3M434.9 360.1L426.8 358.6M434.9 360.1L435.4 361.3M344.9 384.1L349.0 385.8M351.6 382.5L350.1 385.2M349.0 385.8L350.1 385.2M341.2 389.7L346.9 391.6M349.0 385.8L346.9 391.6M340.1 397.3L339.0 396.6M340.1 397.3L348.6 397.4M348.6 397.4L349.0 394.3M346.9 391.6L349.0 394.3M446.0 294.3L446.1 294.4M437.5 301.2L438.0 301.7M446.1 294.4L446.2 301.0M446.2 301.0L445.1 302.4M445.1 302.4L438.0 301.7M460.1 295.1L454.3 294.4M460.1 295.1L460.7 295.6M460.7 295.6L460.8 302.4M454.3 294.4L453.9 294.7M453.9 294.7L453.2 301.6M460.8 302.4L460.6 302.7M460.6 302.7L453.7 302.2M453.2 301.6L453.7 302.2M461.1 286.7L460.1 295.1M454.1 287.1L454.3 294.4M468.5 293.5L467.9 294.4M467.9 294.4L460.7 295.6M446.1 294.4L453.9 294.7M446.2 301.0L453.2 301.6M416.6 316.6L423.3 317.0M423.3 309.6L423.5 316.8M423.5 316.8L423.3 317.0M416.0 324.4L423.6 323.0M423.3 317.0L423.6 323.0M423.2 330.9L424.2 323.8M423.6 323.0L424.2 323.8M430.4 308.6L431.0 309.1M438.0 301.7L437.9 309.7M437.9 309.7L431.0 309.1M423.5 316.8L430.4 316.2M431.0 309.1L430.4 316.2M430.3 331.8L431.4 330.6M424.2 323.8L431.3 324.4M431.4 330.6L431.3 324.4M430.4 316.2L432.0 317.5M432.0 317.5L431.7 324.1M431.3 324.4L431.7 324.1M437.9 316.1L432.0 317.5M437.9 316.1L438.9 324.3M431.7 324.1L438.9 324.3M510.1 317.4L502.0 313.2M510.1 317.4L507.5 325.3M502.0 313.2L499.7 315.2M499.7 315.2L500.8 324.6M507.5 325.3L506.2 325.9M506.2 325.9L502.1 325.6M502.1 325.6L500.8 324.6M506.5 306.3L504.7 305.8M504.7 305.8L502.0 313.2M512.5 314.7L510.1 317.4M449.4 359.6L455.2 359.3M449.4 359.6L450.1 354.3M455.5 358.3L455.2 359.3M455.5 358.3L452.7 353.6M452.7 353.6L450.1 354.3M443.8 364.5L449.7 362.9M443.8 364.5L442.3 360.4M443.0 359.0L442.3 360.4M443.0 359.0L449.3 359.7M449.3 359.7L449.7 362.9M435.1 363.8L434.8 363.1M435.1 363.8L443.3 366.5M435.4 361.3L442.3 360.4M443.3 366.5L443.8 364.5M434.9 357.9L439.6 353.8M434.9 357.9L434.9 360.1M442.9 356.0L439.6 353.8M442.9 356.0L443.0 359.0M442.9 356.0L447.3 353.0M449.4 359.6L449.3 359.7M447.3 353.0L450.1 354.3M429.0 346.9L430.4 344.4M429.0 346.9L429.9 352.7M430.4 344.4L435.0 346.3M435.0 346.3L433.6 351.1M433.6 351.1L430.9 352.8M429.9 352.7L430.9 352.8M425.2 347.0L429.0 346.9M430.4 344.3L430.4 344.4M423.5 352.0L427.3 354.0M427.3 354.0L429.9 352.7M434.9 357.9L430.9 352.8M439.6 353.8L439.2 352.3M439.2 352.3L433.6 351.1M427.3 354.0L426.5 358.5M437.0 338.8L431.5 338.8M437.0 338.8L438.6 340.4M435.0 346.3L438.7 345.0M438.7 345.0L438.6 340.4M522.0 324.0L519.6 336.0M522.0 324.0L514.5 327.0M514.5 327.0L516.2 336.1M519.6 336.0L516.2 336.1M522.2 323.9L522.0 324.0M507.5 325.3L514.5 327.0M507.7 335.2L506.2 325.9M507.7 335.2L514.7 337.6M514.7 337.6L516.2 336.1M407.6 353.6L408.1 358.0M407.6 353.6L405.4 353.0M405.4 353.0L403.2 353.8M403.2 353.8L403.3 359.0M408.1 358.0L404.2 359.8M404.2 359.8L403.3 359.0M411.1 351.9L407.6 353.6M404.9 348.0L405.4 353.0M400.5 353.1L403.2 353.8M395.6 357.1L395.6 357.2M395.6 357.2L397.6 359.1M397.6 359.1L403.3 359.0M414.6 354.8L415.4 358.1M408.1 358.0L412.2 360.7M415.4 358.1L412.2 360.7M422.7 352.1L418.7 359.0M415.4 358.1L418.7 359.0M424.6 360.1L419.1 359.4M418.7 359.0L419.1 359.4M381.2 366.6L380.4 371.1M375.6 363.5L377.0 371.0M380.4 371.1L379.4 372.2M377.0 371.0L379.4 372.2M244.6 360.5L245.1 361.1M236.9 369.1L243.7 368.2M245.1 361.1L243.7 368.2M254.0 361.5L252.5 362.5M245.1 361.1L252.5 362.5M269.0 368.5L261.6 371.4M268.5 378.7L263.5 378.0M261.6 371.4L263.5 378.0M259.9 362.2L260.5 370.7M261.6 371.4L260.5 370.7M260.6 384.9L266.3 388.2M260.6 384.9L261.2 380.0M266.3 388.2L270.0 385.9M261.2 380.0L263.5 378.0M312.2 414.4L312.8 414.1M312.2 414.4L313.8 426.2M312.8 414.1L319.7 419.6M313.8 426.2L319.7 420.1M319.7 420.1L319.7 419.6M302.7 424.6L308.8 428.2M302.7 424.6L302.5 423.8M308.9 415.4L302.5 423.8M308.9 415.4L312.2 414.4M312.9 427.9L308.8 428.2M312.9 427.9L313.8 426.2M302.3 408.0L309.8 405.0M302.3 408.0L302.1 408.6M302.1 408.6L308.9 415.4M312.8 414.1L313.4 412.9M313.4 412.9L309.8 405.0M294.9 398.1L293.7 404.0M294.9 398.1L301.4 399.4M293.7 404.0L301.8 405.7M301.4 399.4L301.8 405.7M293.8 396.9L294.9 398.1M286.4 398.0L285.2 403.1M285.2 403.1L293.2 405.2M293.2 405.2L293.7 404.0M335.2 439.7L334.6 439.2M340.2 430.6L336.0 431.1M336.0 431.1L334.6 439.2M326.5 439.7L326.9 439.4M326.5 439.7L325.1 444.4M325.7 445.2L325.1 444.4M334.6 439.2L326.9 439.4M277.5 509.4L280.7 507.3M277.5 509.4L277.0 516.0M283.7 506.8L280.7 507.3M283.7 506.8L285.9 516.0M285.9 516.0L284.7 517.5M284.7 517.5L278.7 517.3M277.0 516.0L278.7 517.3M275.8 500.0L272.6 499.4M275.8 500.0L280.7 507.3M271.2 506.6L277.5 509.4M271.4 517.0L277.0 516.0M291.8 514.5L285.9 516.0M284.2 506.4L292.8 507.9M284.2 506.4L283.7 506.8M286.6 523.4L284.7 517.5M286.6 523.4L291.8 526.0M286.6 523.4L281.3 527.0M277.4 525.4L278.7 517.3M277.4 525.4L281.3 527.0M273.3 526.9L268.5 522.2M273.3 526.9L277.4 525.4M259.2 497.0L261.7 491.7M269.2 495.5L265.2 490.1M261.7 491.7L265.2 490.1M284.2 506.4L285.1 500.1M292.8 498.6L285.8 499.2M285.1 500.1L285.8 499.2M275.8 500.0L278.4 499.1M285.1 500.1L278.4 499.1M227.2 386.4L230.1 391.9M225.8 397.8L226.9 397.2M230.1 391.9L226.9 397.2M221.7 416.6L230.0 423.8M217.5 425.6L229.2 427.2M230.0 423.8L229.2 427.2M216.2 427.1L214.7 435.3M214.7 435.3L219.8 437.3M219.8 437.3L224.9 436.1M224.9 436.1L229.3 427.4M229.3 427.4L229.2 427.2M275.9 394.5L264.7 396.2M266.3 388.2L264.5 396.0M264.7 396.2L264.5 396.0M315.9 568.6L318.2 566.0M318.2 566.0L324.4 569.7M303.3 562.5L301.5 559.2M304.0 554.3L309.4 553.5M311.9 560.1L309.4 553.5M318.2 566.0L318.2 560.9M311.9 560.1L318.2 560.9M318.7 560.4L318.2 560.9M348.1 449.1L358.4 450.7M347.0 458.4L357.0 462.8M358.4 450.7L357.0 462.8M597.9 257.8L593.9 262.7M587.9 261.5L588.6 262.3M588.6 262.3L593.9 262.7M598.3 270.5L596.2 269.5M593.9 262.7L596.2 269.5M587.5 277.2L587.2 276.2M587.2 276.2L595.7 269.8M596.2 269.5L595.7 269.8M583.3 268.2L585.3 274.8M583.3 268.2L587.4 265.2M587.4 265.2L588.7 268.0M588.7 268.0L586.9 275.8M586.9 275.8L585.3 274.8M580.0 266.5L583.3 268.2M575.7 274.8L585.3 274.8M588.6 262.3L587.4 265.2M595.7 269.8L588.7 268.0M587.2 276.2L586.9 275.8M454.3 436.4L454.4 433.6M454.3 436.4L450.7 444.1M445.4 441.2L447.7 443.4M445.4 441.2L448.5 432.4M447.7 443.4L450.0 444.3M450.7 444.1L450.0 444.3M448.5 432.4L454.4 433.6M461.7 433.1L455.8 432.3M461.7 433.1L463.1 441.3M463.1 441.3L462.2 443.0M462.2 443.0L454.3 436.4M455.8 432.3L454.4 433.6M442.6 439.7L443.2 434.1M442.6 439.7L442.7 440.0M447.6 431.9L443.2 434.1M447.6 431.9L448.5 432.4M442.7 440.0L445.4 441.2M473.6 429.4L469.3 423.1M473.6 429.4L469.8 433.6M463.8 432.4L464.5 423.6M463.8 432.4L469.8 433.6M464.5 423.6L468.5 422.9M468.5 422.9L469.3 423.1M456.1 424.2L458.5 421.5M456.1 424.2L455.8 432.3M458.5 421.5L464.5 423.6M461.7 433.1L463.8 432.4M470.3 437.5L463.1 441.3M470.3 437.5L469.8 433.6M458.4 417.2L458.5 421.5M458.4 417.2L463.5 413.0M465.6 413.2L463.5 413.0M465.6 413.2L468.5 422.9M479.6 429.8L480.4 438.8M479.6 429.8L481.1 429.6M480.4 438.8L488.6 438.8M488.6 438.8L488.7 434.4M481.1 429.6L488.7 434.4M458.9 390.7L460.9 394.0M458.9 390.7L453.4 391.4M452.9 394.3L453.4 391.4M452.9 394.3L456.6 396.8M460.9 394.0L456.6 396.8M450.7 400.7L450.4 397.1M453.0 401.8L457.3 400.8M452.9 394.3L450.4 397.1M456.6 396.8L457.3 400.8M458.9 401.4L461.9 398.6M458.9 401.4L460.9 406.2M461.9 398.6L466.8 401.4M460.9 406.2L461.1 406.3M461.1 406.3L466.1 403.8M466.8 401.4L466.1 403.8M460.9 394.0L462.3 394.8M462.3 394.8L461.9 398.6M457.3 400.8L458.9 401.4M454.3 408.4L460.9 406.2M468.9 399.5L466.8 401.4M468.9 399.5L468.3 395.8M468.3 395.8L465.8 393.9M465.8 393.9L462.3 394.8M458.4 417.2L454.7 414.6M463.5 413.0L461.1 406.3M505.7 436.4L502.6 437.5M505.7 436.4L507.6 428.4M507.6 428.4L504.5 427.6M498.3 436.0L496.4 429.6M504.5 427.6L496.4 429.6M491.0 441.6L488.6 438.8M491.0 441.6L493.6 441.3M488.7 434.4L494.8 428.5M496.4 429.6L494.8 428.5M481.1 429.6L486.7 425.8M486.7 425.8L494.5 427.9M494.8 428.5L494.5 427.9M549.1 324.8L544.9 330.0M552.2 330.2L545.1 333.9M544.9 330.0L545.1 333.9M538.3 326.8L540.0 328.8M544.9 330.0L540.0 328.8M526.0 326.3L525.8 332.4M519.6 336.0L522.1 336.7M522.1 336.7L525.8 332.4M534.1 330.7L534.2 332.3M534.2 332.3L531.9 337.1M525.8 332.4L531.9 337.1M522.1 336.7L525.1 342.0M525.1 342.0L525.7 342.2M531.9 337.1L531.9 338.1M525.7 342.2L531.9 338.1M490.6 330.3L493.6 324.1M490.6 330.3L491.2 332.6M493.6 324.1L500.8 324.6M491.2 332.6L496.2 335.8M502.1 325.6L497.3 335.3M497.3 335.3L496.2 335.8M514.7 337.6L514.3 342.1M514.3 342.1L515.7 345.4M525.1 342.0L517.7 345.7M517.7 345.7L515.7 345.4M505.7 436.4L510.8 439.5M511.0 446.1L511.8 445.1M511.0 446.1L502.9 446.9M511.8 445.1L510.8 439.5M513.8 428.6L510.0 427.5M513.8 428.6L512.7 437.4M507.6 428.4L510.0 427.5M512.7 437.4L510.8 439.5M491.6 279.6L489.7 278.3M599.4 199.6L594.5 201.8M575.0 203.6L572.9 206.1M418.2 207.6L419.1 208.5M419.1 208.5L417.7 216.1M410.8 215.2L411.0 215.5M411.0 215.5L417.7 216.1M417.7 216.1L417.7 216.1M448.6 232.6L448.2 232.2M447.2 224.3L448.2 232.2M440.8 240.3L440.0 239.5M440.0 239.5L440.5 232.6M448.2 232.2L440.5 232.6M395.1 289.5L395.1 280.9M402.5 281.1L400.8 280.2M395.1 280.9L400.8 280.2M408.8 271.8L401.9 271.0M401.9 271.0L401.4 271.4M400.8 280.2L401.4 271.4M424.3 263.7L424.0 256.3M424.0 256.3L417.6 255.7M416.6 263.8L416.9 256.3M417.6 255.7L416.9 256.3M401.8 263.8L408.9 263.1M401.8 263.8L401.5 255.5M408.9 263.1L409.0 255.8M401.5 255.5L408.9 255.7M408.9 255.7L409.0 255.8M401.6 264.0L401.9 271.0M401.6 264.0L401.8 263.8M409.8 264.0L408.9 263.1M401.6 264.0L393.9 263.4M401.4 255.4L401.5 255.5M416.9 256.3L409.0 255.8M409.3 247.6L409.7 248.2M409.7 248.2L408.9 255.7M417.6 255.7L417.2 248.5M417.2 248.5L409.7 248.2M440.2 255.5L432.3 256.1M439.5 248.1L433.0 247.6M433.0 247.6L432.3 256.1M440.0 239.5L432.9 240.0M432.9 240.0L432.5 247.2M433.0 247.6L432.5 247.2M424.0 256.3L425.3 255.2M432.5 263.5L432.2 256.3M425.3 255.2L432.2 256.3M432.2 256.3L432.3 256.1M410.3 240.5L417.3 240.1M417.2 248.5L417.8 247.9M417.3 240.1L417.8 247.9M425.3 255.2L425.1 247.9M417.8 247.9L425.1 247.9M432.5 247.2L425.3 247.6M425.1 247.9L425.3 247.6M328.4 190.2L320.7 189.2M328.4 190.2L329.6 197.6M329.6 197.6L328.4 198.7M328.4 198.7L319.0 198.8M318.9 198.6L319.0 198.8M318.9 198.6L320.5 189.3M320.5 189.3L320.7 189.2M329.5 189.1L328.4 190.2M322.2 179.1L320.7 189.2M337.0 199.3L329.6 197.6M327.2 208.7L328.4 198.7M319.5 208.1L319.0 198.8M310.5 197.8L318.9 198.6M311.1 187.2L320.5 189.3M312.3 179.8L313.5 178.6M218.8 118.2L227.4 119.2M225.5 130.8L225.7 130.7M225.7 130.7L227.4 119.2M229.9 109.8L227.5 119.1M227.4 119.2L227.5 119.1M254.5 124.5L247.7 122.4M254.5 124.5L257.5 116.2M247.7 122.4L249.1 113.8M249.1 113.8L256.3 114.7M257.5 116.2L256.3 114.7M248.5 113.1L249.1 113.8M264.7 116.9L257.5 116.2M276.5 166.4L283.4 167.1M282.7 178.2L284.5 177.3M283.4 167.1L284.5 177.3M291.2 178.7L291.1 178.6M284.5 177.3L291.1 178.6M381.5 289.4L381.4 289.5M381.5 289.4L382.2 281.6M374.5 282.3L374.5 288.1M374.5 288.1L381.4 289.5M349.0 265.5L350.4 258.5M349.0 265.5L341.7 264.1M341.7 264.1L344.1 255.9M344.1 255.9L349.9 257.8M349.9 257.8L350.4 258.5M349.4 266.1L349.0 265.5M356.6 259.1L350.4 258.5M340.7 264.6L341.7 264.1M343.9 255.7L344.1 255.9M353.3 249.2L349.9 257.8M196.4 348.0L196.6 340.3M196.4 348.0L204.2 350.2M196.6 340.3L205.8 341.3M205.8 341.3L204.5 350.0M204.2 350.2L204.5 350.0M195.5 348.8L196.4 348.0M196.6 340.3L196.6 340.3M202.6 357.8L204.2 350.2M205.9 341.3L205.8 341.3M212.5 351.2L204.5 350.0M272.6 128.4L272.2 128.6M272.6 128.4L273.8 117.8M272.2 128.6L264.5 124.9M264.5 124.9L265.2 117.3M265.2 117.3L273.3 117.2M273.8 117.8L273.3 117.2M279.6 128.6L272.6 128.4M279.6 128.6L280.8 127.7M280.3 119.4L273.8 117.8M264.7 116.9L265.2 117.3M255.6 126.4L254.5 124.5M255.6 126.4L261.2 127.2M261.2 127.2L264.5 124.9M275.0 109.5L273.3 117.2M254.5 135.3L261.5 137.4M252.6 132.7L255.6 126.4M261.2 127.2L263.3 135.4M261.5 137.4L263.3 135.4M252.2 144.9L261.6 144.0M261.5 137.4L261.6 144.0M272.2 128.6L270.3 134.6M263.3 135.4L270.3 134.6M259.3 154.2L262.9 145.4M261.6 144.0L262.9 145.4M268.3 156.7L268.1 146.4M262.9 145.4L268.1 146.4M363.3 288.8L364.2 289.9M356.8 297.4L362.4 297.2M364.2 289.9L362.4 297.2M363.6 305.2L363.6 298.3M363.6 298.3L362.4 297.2M395.6 215.4L395.7 223.1M402.7 214.9L403.3 223.1M395.7 223.1L403.3 223.1M395.7 223.1L395.6 223.2M394.9 230.9L395.4 230.5M395.6 223.2L395.4 230.5M425.1 200.3L425.3 200.2M425.1 200.3L418.6 199.9M425.3 200.2L425.7 191.9M418.6 199.9L418.5 198.2M418.5 198.2L424.6 189.3M424.6 189.3L425.7 191.9M418.1 200.4L418.6 199.9M419.1 208.5L425.4 208.2M425.8 207.8L425.4 208.2M425.8 207.8L425.1 200.3M413.3 188.4L418.5 198.2M433.0 196.0L425.7 191.9M410.3 224.6L410.4 231.8M410.3 224.6L409.3 223.6M409.3 223.6L403.8 223.6M403.8 223.6L402.0 231.7M409.9 232.2L410.4 231.8M409.9 232.2L402.2 231.9M402.2 231.9L402.0 231.7M411.0 215.5L409.3 223.6M417.7 216.1L418.1 224.1M418.1 224.1L410.3 224.6M403.3 223.1L403.8 223.6M395.4 230.5L402.0 231.7M409.6 239.7L409.9 232.2M401.9 239.3L402.2 231.9M229.5 459.6L224.6 457.4M229.5 459.6L233.5 457.2M224.6 457.4L230.4 447.3M233.5 457.2L232.2 449.5M232.2 449.5L230.4 447.3M220.5 448.4L219.8 437.3M220.5 448.4L230.0 446.5M224.9 436.1L231.2 442.9M231.2 442.9L230.0 446.5M234.8 430.6L229.3 427.4M234.8 430.6L236.6 440.1M231.2 442.9L236.6 440.1M224.4 467.5L226.3 476.8M224.4 467.5L217.1 464.9M215.1 466.5L216.3 475.0M215.1 466.5L217.1 464.9M216.3 475.0L222.0 481.6M222.0 481.6L226.3 476.8M219.2 456.5L224.6 457.4M219.2 456.5L217.1 464.9M229.5 459.6L229.1 464.5M229.1 464.5L224.4 467.5M206.0 477.0L216.3 475.0M208.2 465.7L206.9 466.5M208.2 465.7L215.1 466.5M206.1 485.0L206.6 485.6M222.0 482.0L222.0 481.6M211.5 436.6L208.5 445.2M211.5 436.6L205.6 432.8M205.6 432.8L200.4 433.2M200.4 433.2L197.9 443.6M208.5 445.2L199.5 445.0M197.9 443.6L199.5 445.0M207.2 424.2L205.6 432.8M214.7 435.3L211.5 436.6M197.2 430.6L200.4 433.2M190.6 442.8L197.9 443.6M198.0 454.0L199.5 445.0M209.1 446.3L218.2 450.8M209.1 446.3L206.3 455.7M207.5 457.2L206.3 455.7M207.5 457.2L218.7 455.4M218.7 455.4L218.2 450.8M220.5 448.4L218.2 450.8M208.5 445.2L209.1 446.3M198.9 455.9L206.3 455.7M208.2 465.7L207.5 457.2M219.2 456.5L218.7 455.4M230.0 446.5L230.4 447.3M237.9 475.1L240.2 466.5M237.9 475.1L233.2 475.3M233.2 475.3L231.6 475.1M231.6 475.1L231.3 466.3M231.3 466.3L240.2 466.5M232.6 485.5L233.8 484.4M233.8 484.4L233.2 475.3M226.3 476.8L231.6 475.1M229.1 464.5L231.3 466.3M236.1 493.1L241.4 486.9M233.8 484.4L239.5 482.0M239.5 482.0L241.4 486.9M237.9 475.1L240.5 477.8M239.5 482.0L240.5 477.8M236.0 493.9L237.2 495.4M249.7 494.3L249.8 488.4M241.4 486.9L249.8 488.4M303.8 484.0L295.3 484.0M304.3 477.2L297.7 474.8M297.7 474.8L295.2 477.9M295.2 477.9L295.3 484.0M294.7 492.2L295.1 492.9M294.7 492.2L295.2 484.1M295.2 484.1L295.3 484.0M295.9 558.4L295.0 568.9M285.4 537.3L286.7 534.7M285.4 537.3L280.5 539.4M286.7 534.7L281.9 530.0M280.5 539.4L278.8 538.7M278.8 538.7L278.5 532.8M281.9 530.0L278.5 532.8M290.3 544.5L285.4 537.3M296.1 543.2L296.6 538.5M292.0 531.8L286.7 534.7M281.3 549.8L280.5 539.4M281.3 527.0L281.9 530.0M275.1 549.0L272.4 539.1M272.4 539.1L278.8 538.7M273.3 526.9L272.7 530.3M272.7 530.3L278.5 532.8M271.6 531.9L271.6 538.7M271.6 531.9L263.1 530.6M271.6 538.7L267.5 540.1M267.5 540.1L263.9 538.6M263.9 538.6L261.0 531.9M261.0 531.9L263.1 530.6M272.7 530.3L271.6 531.9M272.4 539.1L271.6 538.7M267.0 522.5L263.1 530.6M265.7 550.3L267.5 540.1M259.1 542.0L263.9 538.6M256.4 530.7L253.1 537.8M256.4 530.7L261.0 531.9M206.0 535.3L215.8 533.3M205.7 524.1L216.0 530.3M215.8 533.3L216.0 530.3M217.3 541.9L218.6 537.3M217.3 541.9L222.0 546.2M218.6 537.3L226.0 536.5M226.0 536.5L229.6 537.6M229.6 537.6L231.1 541.7M232.3 543.3L231.1 541.7M215.8 533.3L218.6 537.3M216.0 530.3L221.6 521.2M225.1 525.6L221.6 521.2M225.1 525.6L226.0 536.5M235.8 530.4L235.8 530.3M235.8 530.4L229.6 537.6M235.8 530.3L225.1 525.6M235.8 530.4L242.0 536.2M216.2 505.1L218.9 503.4M216.2 505.1L218.4 518.7M218.4 518.7L221.5 520.4M221.5 520.4L222.0 504.7M218.9 503.4L222.0 504.7M219.1 498.2L218.9 503.4M210.6 505.6L207.6 494.4M210.6 505.6L216.2 505.1M210.8 517.6L218.4 518.7M209.0 514.7L209.2 506.7M210.6 505.6L209.2 506.7M221.6 520.5L221.5 520.4M221.6 520.5L221.6 521.2M229.0 494.9L228.1 505.0M222.0 504.7L227.6 505.6M228.1 505.0L227.6 505.6M237.0 502.9L236.3 503.7M228.1 505.0L236.3 503.7M253.9 513.3L252.2 515.2M246.0 507.0L245.8 509.9M245.8 509.9L252.2 515.2M206.3 543.1L210.5 545.0M217.3 541.9L213.9 544.7M188.0 483.5L188.3 493.3M386.4 318.2L380.8 317.4M386.4 318.2L387.8 311.6M380.8 317.4L380.5 310.9M380.5 310.9L386.9 310.6M386.9 310.6L387.8 311.6M393.4 312.2L387.8 311.6M386.5 318.3L386.4 318.2M380.2 303.7L379.8 310.3M380.2 303.7L387.5 303.6M388.1 304.1L386.9 310.6M379.8 310.3L380.5 310.9M380.1 318.1L379.7 325.2M380.1 318.1L373.3 317.6M373.3 317.6L372.7 318.1M372.7 318.1L373.0 324.8M373.0 324.8L379.4 325.4M379.4 325.4L379.7 325.2M386.8 325.2L379.7 325.2M380.8 317.4L380.1 318.1M379.8 310.3L373.5 311.1M373.5 311.1L373.3 317.6M370.4 318.0L372.7 318.1M370.8 310.1L372.4 310.2M373.5 311.1L372.4 310.2M370.6 326.9L373.0 324.8M379.6 332.0L379.4 325.4M340.6 422.9L334.9 424.7M340.6 422.9L341.5 418.7M338.0 417.0L341.5 418.7M338.0 417.0L333.3 422.3M334.9 424.7L333.3 422.3M342.1 426.7L340.6 422.9M336.0 431.1L335.0 430.2M334.9 424.7L335.0 430.2M340.1 397.3L341.6 402.1M333.4 398.2L335.3 406.5M341.6 402.1L335.3 406.5M348.6 397.4L349.4 399.9M349.4 399.9L348.8 402.1M348.8 402.1L346.4 403.7M341.6 402.1L346.4 403.7M351.3 410.7L344.7 410.5M351.3 410.7L352.1 417.1M344.7 410.5L345.0 417.7M352.1 417.1L348.2 419.0M348.2 419.0L345.0 417.7M348.8 402.1L351.3 405.2M351.7 410.1L351.3 405.2M351.7 410.1L351.3 410.7M343.7 409.1L346.4 403.7M343.7 409.1L344.7 410.5M348.8 425.4L348.2 419.0M341.5 418.7L345.0 417.7M356.5 417.9L357.5 419.1M356.5 417.9L352.1 417.1M349.2 425.8L355.1 426.6M355.1 426.6L356.8 423.8M356.8 423.8L357.5 419.1M349.0 444.6L359.5 440.2M349.9 435.2L357.3 433.5M359.5 440.2L357.3 433.5M358.4 450.7L358.4 450.7M358.4 450.7L362.3 442.2M359.5 440.2L362.3 442.2M355.1 426.6L357.7 432.7M357.3 433.5L357.7 432.7M368.1 442.6L368.2 454.3M368.1 442.6L367.2 441.9M368.2 454.3L367.8 454.6M358.4 450.7L367.8 454.6M367.2 441.9L362.3 442.2M368.1 442.6L377.6 443.1M368.2 454.3L377.1 452.7M377.6 443.1L377.5 452.0M377.1 452.7L377.5 452.0M377.1 452.7L380.1 459.7M377.5 452.0L387.9 451.0M389.7 452.7L387.9 451.0M389.7 452.7L388.0 460.2M388.0 460.2L380.1 459.7M382.3 419.3L387.4 417.3M382.3 419.3L385.1 424.9M385.1 424.9L387.6 426.0M387.6 426.0L390.4 419.8M387.4 417.3L390.4 419.8M378.9 419.1L377.4 424.9M378.9 419.1L379.1 418.8M379.1 418.8L382.3 419.3M377.4 424.9L379.1 428.3M379.1 428.3L385.1 424.9M440.2 427.5L445.5 427.2M440.2 427.5L438.8 424.2M438.8 424.2L439.3 422.6M439.3 422.6L443.1 418.9M445.5 427.2L447.4 422.4M443.1 418.9L446.5 420.7M446.5 420.7L447.4 422.4M456.1 424.2L447.4 422.4M447.6 431.9L445.5 427.2M450.7 415.2L446.5 420.7M441.6 416.3L446.3 410.8M441.6 416.3L443.1 418.9M443.2 434.1L438.2 432.4M440.2 427.5L437.9 430.5M437.9 430.5L438.2 432.4M432.2 424.4L438.8 424.2M432.2 424.4L430.6 427.2M437.9 430.5L430.6 427.2M435.1 363.8L435.6 369.7M435.6 369.7L431.3 371.3M431.2 364.0L429.5 370.7M431.3 371.3L429.5 370.7M446.1 404.0L440.3 399.8M450.4 397.1L448.6 396.3M448.6 396.3L441.1 396.3M440.3 399.8L441.1 396.3M317.8 527.0L318.2 527.4M328.9 520.7L327.6 526.3M327.6 526.3L318.2 527.4M307.7 531.0L318.5 535.2M318.5 535.2L318.6 535.1M318.2 527.4L318.6 535.1M329.1 501.6L337.0 502.5M337.8 494.5L338.9 496.4M338.9 496.4L337.0 502.5M331.3 511.0L340.6 508.4M337.0 502.5L340.6 508.4M394.5 390.0L399.2 389.9M394.5 390.0L394.8 384.1M398.8 382.8L394.8 384.1M398.8 382.8L400.3 384.9M400.3 384.9L399.2 389.9M398.8 382.8L399.3 379.5M391.9 376.9L392.7 383.4M391.9 376.9L398.4 378.4M394.8 384.1L392.7 383.4M398.4 378.4L399.3 379.5M419.5 367.5L418.9 370.3M419.5 367.5L425.0 366.0M418.9 370.3L421.2 373.6M421.2 373.6L427.9 370.8M425.0 366.0L428.0 370.8M428.0 370.8L427.9 370.8M425.2 365.5L425.0 366.0M419.1 366.9L419.1 359.4M419.1 366.9L419.5 367.5M429.5 370.7L428.0 370.8M445.1 302.4L446.1 308.5M453.7 302.2L452.1 309.0M446.1 308.5L452.1 309.0M460.9 309.1L453.4 310.3M460.9 309.1L460.6 302.7M452.1 309.0L453.4 310.3M431.4 330.6L438.4 331.9M438.9 324.3L439.0 324.4M439.0 324.4L438.4 331.9M453.9 332.0L453.7 331.7M454.1 339.8L453.6 340.3M453.6 340.3L446.4 338.9M453.7 331.7L446.1 332.6M446.0 338.5L446.4 338.9M446.0 338.5L446.1 332.7M446.1 332.7L446.1 332.6M437.0 338.8L438.5 331.9M438.6 340.4L446.0 338.5M446.1 332.7L438.5 331.9M438.5 331.9L438.4 331.9M496.4 297.3L504.2 299.6M496.4 297.3L494.7 298.2M494.7 298.2L495.3 305.3M495.3 305.3L504.3 305.4M504.2 299.6L504.3 305.4M500.2 288.5L496.4 297.3M506.6 294.4L504.2 299.6M489.6 294.1L490.6 296.2M490.6 296.2L494.7 298.2M504.7 305.8L504.3 305.4M475.9 293.2L476.6 293.8M483.2 292.9L482.7 293.3M483.4 286.3L475.6 286.4M476.6 293.8L482.7 293.3M467.9 294.4L469.1 300.8M460.8 302.4L468.1 302.0M468.1 302.0L469.1 300.8M476.6 293.8L475.9 301.1M469.1 300.8L475.9 301.1M483.1 301.7L475.9 301.1M483.1 301.7L482.7 293.3M475.9 301.1L475.9 301.1M490.6 296.2L487.0 301.7M495.3 305.3L493.1 307.2M487.0 301.7L493.1 307.2M483.1 301.7L483.6 302.2M487.0 301.7L483.6 302.2M455.2 359.3L455.7 363.4M449.7 362.9L450.2 363.3M450.2 363.3L455.7 363.4M446.8 351.4L446.1 346.9M446.8 351.4L439.6 351.2M439.6 351.2L440.6 346.8M440.6 346.8L446.0 346.8M446.1 346.9L446.0 346.8M439.2 352.3L439.6 351.2M447.3 353.0L446.8 351.4M438.7 345.0L440.6 346.8M446.4 338.9L446.0 346.8M453.6 340.3L453.4 345.9M453.4 345.9L446.1 346.9M462.4 346.1L463.4 349.6M462.4 346.1L454.2 346.8M463.4 349.6L461.5 353.5M461.5 353.5L454.3 351.8M454.2 346.8L454.3 351.8M461.1 339.5L463.1 341.1M463.1 341.1L463.4 343.1M453.4 345.9L454.2 346.8M463.4 343.1L462.4 346.1M455.5 358.3L459.2 357.3M452.7 353.6L454.3 351.8M459.2 357.3L461.8 354.8M461.8 354.8L461.5 353.5M471.7 369.0L472.0 364.8M471.7 369.0L473.0 372.2M473.0 372.2L477.0 373.5M472.0 364.8L472.8 364.1M472.8 364.1L480.5 367.0M480.5 367.0L479.6 372.0M479.6 372.0L477.0 373.5M462.7 372.2L463.4 372.9M462.7 372.2L464.4 364.0M463.4 372.9L471.7 369.0M464.4 364.0L472.0 364.8M464.4 375.9L463.4 372.9M464.4 375.9L471.7 374.4M471.7 374.4L473.0 372.2M490.6 330.3L483.9 328.9M493.6 324.1L491.7 322.5M491.7 322.5L483.4 323.9M483.9 328.9L483.4 323.9M491.2 332.6L486.5 336.3M486.5 336.3L483.1 330.4M483.9 328.9L483.1 330.4M372.1 368.9L373.1 370.5M372.1 368.9L366.8 370.7M373.1 370.5L371.3 375.8M366.8 370.7L369.3 374.7M369.3 374.7L371.3 375.8M372.3 363.9L372.1 368.9M377.0 371.0L373.1 370.5M363.8 369.4L366.8 370.7M361.2 373.4L363.4 376.8M363.4 376.8L369.3 374.7M252.0 368.5L245.1 369.7M252.0 368.5L254.1 372.1M254.1 372.1L252.8 375.6M252.8 375.6L245.3 376.4M245.3 376.4L245.1 369.7M252.5 362.5L252.0 368.5M243.7 368.2L245.1 369.7M260.5 370.7L254.1 372.1M261.2 380.0L254.0 378.1M254.0 378.1L252.8 375.6M236.1 374.8L243.5 378.2M243.5 378.2L245.3 376.4M311.1 399.6L312.4 391.2M311.1 399.6L303.3 398.2M303.7 392.6L311.0 389.1M303.7 392.6L303.3 398.2M311.0 389.1L312.4 391.2M320.2 392.2L312.4 391.2M320.2 392.2L316.8 401.2M316.8 401.2L311.5 400.1M311.5 400.1L311.1 399.6M302.3 408.0L301.8 405.7M309.8 405.0L311.5 400.1M301.4 399.4L303.3 398.2M310.9 386.5L311.0 389.1M300.9 389.7L303.7 392.6M321.0 391.8L320.2 392.2M320.2 408.9L322.4 408.6M320.2 408.9L319.2 408.6M319.2 408.6L317.9 402.1M322.4 408.6L326.5 404.6M317.9 402.1L325.8 399.8M325.8 399.8L326.5 404.6M319.7 419.6L323.6 416.7M323.6 416.7L320.2 408.9M313.4 412.9L319.2 408.6M316.8 401.2L317.9 402.1M328.8 395.6L325.8 399.8M302.7 424.6L302.3 425.1M308.8 428.2L308.1 436.2M308.1 436.2L300.9 437.8M300.9 437.8L298.6 435.3M302.3 425.1L298.6 435.3M280.1 426.9L270.3 424.0M280.1 426.9L278.6 435.6M278.6 435.6L272.5 436.7M269.6 424.7L270.3 424.0M269.6 424.7L271.0 435.8M271.0 435.8L272.5 436.7M262.5 425.2L260.2 433.2M262.5 425.2L269.6 424.7M263.5 436.4L260.2 433.2M263.5 436.4L271.0 435.8M241.8 429.1L234.8 430.6M241.8 429.1L243.7 422.7M230.0 423.8L234.2 418.6M243.7 422.7L234.2 418.6M224.3 408.9L228.6 410.1M228.6 410.1L234.3 416.8M234.3 416.8L234.2 418.6M233.5 457.2L241.6 459.3M240.2 466.5L240.4 466.3M240.4 466.3L241.6 459.3M252.9 449.1L244.2 449.8M252.9 449.1L253.7 442.1M253.7 442.1L252.9 441.0M252.9 441.0L244.6 439.5M244.6 439.5L242.6 441.4M242.6 441.4L243.9 449.4M244.2 449.8L243.9 449.4M252.4 459.4L255.8 451.4M252.4 459.4L251.0 460.4M255.8 451.4L252.9 449.1M251.0 460.4L243.0 458.3M243.0 458.3L244.2 449.8M263.5 436.4L261.4 442.2M260.2 433.2L255.8 433.2M255.8 433.2L252.9 441.0M261.4 442.2L253.7 442.1M245.7 433.8L244.6 439.5M245.7 433.8L252.3 430.8M252.3 430.8L255.8 433.2M245.7 433.8L241.8 429.1M236.6 440.1L242.6 441.4M232.2 449.5L243.9 449.4M241.6 459.3L243.0 458.3M307.0 451.2L299.3 452.8M307.0 451.2L307.9 445.0M299.3 452.8L298.5 451.7M307.9 445.0L301.3 443.2M301.3 443.2L299.1 445.2M299.1 445.2L298.5 451.7M316.0 462.4L315.3 469.1M316.0 462.4L314.7 461.4M314.7 461.4L307.8 461.4M313.2 471.2L306.2 469.1M313.2 471.2L315.3 469.1M306.2 469.1L305.9 468.6M305.9 468.6L306.5 462.2M306.5 462.2L307.8 461.4M322.4 462.1L316.0 462.4M323.0 471.9L315.3 469.1M324.2 455.4L316.9 451.3M316.9 451.3L315.6 452.6M315.6 452.6L314.7 461.4M315.6 452.6L308.3 452.6M308.3 452.6L307.8 461.4M305.5 476.1L306.2 469.1M313.9 477.7L313.2 471.2M297.7 474.8L297.7 470.3M297.7 470.3L305.9 468.6M297.7 470.3L296.2 468.8M296.2 468.8L296.8 461.0M296.8 461.0L299.3 459.3M299.3 459.3L306.5 462.2M307.0 451.2L308.3 452.6M299.3 452.8L299.3 459.3M309.0 444.3L310.1 438.8M309.0 444.3L317.3 447.1M310.1 438.8L316.3 437.6M316.3 437.6L317.8 446.6M317.8 446.6L317.3 447.1M307.9 445.0L309.0 444.3M308.1 436.2L310.1 438.8M301.3 443.2L300.9 437.8M316.9 451.3L317.3 447.1M312.9 427.9L317.5 431.1M317.5 431.1L317.6 436.0M317.6 436.0L316.3 437.6M326.5 439.7L317.6 436.0M325.1 444.4L317.8 446.6M577.9 334.2L577.4 338.5M584.2 337.0L582.9 338.9M582.9 338.9L581.3 339.8M581.3 339.8L577.4 338.5M570.0 336.7L576.6 338.8M576.6 338.8L577.4 338.5M562.9 343.3L562.9 343.3M562.9 343.3L557.7 339.9M557.7 339.9L557.1 334.6M566.7 340.5L572.2 346.3M564.5 347.3L572.2 346.3M574.0 345.6L576.6 338.8M574.0 345.6L572.3 346.3M572.3 346.3L572.2 346.3M488.2 446.6L481.2 447.2M488.2 446.6L491.7 453.5M491.7 453.5L487.1 457.1M487.1 457.1L480.5 453.9M480.5 453.9L481.2 447.2M491.0 441.6L488.2 446.6M480.4 438.8L477.4 443.3M481.2 447.2L477.4 443.3M478.3 429.1L473.6 429.4M478.3 429.1L479.6 429.8M470.3 437.5L473.3 441.8M473.3 441.8L477.2 443.3M477.2 443.3L477.4 443.3M473.3 441.8L465.2 447.9M462.2 443.0L462.1 446.9M465.2 447.9L462.1 446.9M450.7 444.1L458.2 449.1M462.1 446.9L458.2 449.1M442.7 440.0L439.3 444.8M447.7 443.4L441.7 446.7M441.7 446.7L439.3 444.8M478.3 429.1L479.0 420.7M469.3 423.1L473.7 418.0M479.0 420.7L473.7 418.0M465.6 413.2L465.7 413.2M466.1 403.8L469.3 406.9M469.3 406.9L465.7 413.2M473.7 418.0L473.2 414.3M465.7 413.2L473.2 414.3M463.6 377.8L457.7 383.0M463.6 377.8L457.3 377.2M455.8 378.3L457.3 377.2M455.8 378.3L455.7 381.9M455.7 381.9L456.6 382.7M456.6 382.7L457.7 383.0M449.6 382.3L449.6 376.9M449.6 382.3L455.7 381.9M449.6 376.9L453.4 375.2M453.4 375.2L455.8 378.3M458.9 390.7L460.7 386.6M460.7 386.6L457.7 383.0M452.6 390.4L453.4 391.4M452.6 390.4L456.6 382.7M468.2 382.7L472.3 378.6M468.2 382.7L466.6 381.9M466.6 381.9L464.2 377.5M472.1 378.3L472.3 378.6M472.1 378.3L464.4 376.8M464.4 376.8L464.2 377.5M460.7 386.6L460.8 386.6M460.8 386.6L466.6 381.9M463.6 377.8L464.2 377.5M471.7 374.4L472.1 378.3M475.8 380.0L472.3 378.6M475.8 380.0L477.3 376.5M477.3 376.5L477.0 373.5M464.4 375.9L464.4 376.8M462.7 372.2L459.6 371.9M459.6 371.9L457.3 377.2M471.9 390.4L466.5 390.6M471.9 390.4L472.1 385.7M472.1 385.7L469.4 384.7M469.4 384.7L466.1 389.2M466.1 389.2L466.5 390.6M477.6 384.2L472.1 385.7M477.6 384.2L475.8 380.0M468.2 382.7L469.4 384.7M460.8 386.6L466.1 389.2M465.8 393.9L466.5 390.6M468.3 395.8L473.4 393.1M471.9 390.4L473.2 392.6M473.4 393.1L473.2 392.6M525.7 342.2L526.4 343.9M517.7 345.7L522.2 351.8M522.2 351.8L526.6 351.4M526.4 343.9L526.6 351.4M540.0 328.8L541.4 335.0M545.1 333.9L544.4 335.5M544.4 335.5L541.4 335.0M554.5 333.7L547.3 339.5M544.4 335.5L547.3 339.5M534.2 332.3L540.6 335.3M540.6 335.3L541.4 335.0M520.7 358.0L521.3 352.9M520.7 358.0L519.3 359.2M521.3 352.9L515.7 353.4M519.3 359.2L516.5 357.4M516.5 357.4L515.7 353.4M515.7 345.4L511.8 350.4M522.2 351.8L521.3 352.9M515.7 353.4L511.8 350.4M503.4 358.8L509.1 350.8M503.4 358.8L503.8 359.5M509.1 350.8L510.3 351.0M503.8 359.5L506.6 360.8M510.3 351.0L511.1 356.8M506.6 360.8L511.1 356.8M516.5 357.4L513.0 358.7M510.3 351.0L511.8 350.4M511.1 356.8L513.0 358.7M515.3 365.2L512.6 364.3M515.3 365.2L514.7 371.8M509.1 370.1L512.4 372.5M509.1 370.1L511.7 364.5M511.7 364.5L512.6 364.3M514.7 371.8L512.4 372.5M519.3 359.2L518.7 364.5M518.7 364.5L515.3 365.2M513.0 358.7L512.6 364.3M504.1 367.9L506.0 371.0M504.1 367.9L508.9 363.4M506.0 371.0L509.1 370.1M508.9 363.4L511.7 364.5M506.6 360.8L508.9 363.4M500.9 365.9L501.3 366.5M500.9 365.9L497.0 365.0M501.3 366.5L499.7 370.3M499.7 370.3L493.8 370.6M497.0 365.0L493.2 369.6M493.8 370.6L493.2 369.6M503.8 359.5L500.9 365.9M504.1 367.9L501.3 366.5M503.4 358.8L497.6 355.9M497.6 355.9L496.0 362.9M496.0 362.9L497.0 365.0M501.3 374.8L499.7 370.3M501.3 374.8L505.5 372.5M505.5 372.5L506.0 371.0M501.3 374.8L500.2 376.4M494.6 375.3L493.8 370.6M494.6 375.3L496.6 376.3M500.2 376.4L496.6 376.3M496.0 362.9L489.3 362.5M489.3 362.5L492.3 369.2M492.3 369.2L493.2 369.6M567.8 401.2L572.6 404.1M567.8 401.2L567.2 400.6M567.2 400.6L568.1 397.7M572.6 404.1L574.4 396.3M568.1 397.7L572.8 395.5M572.8 395.5L574.4 396.3M575.2 407.3L575.3 407.5M575.3 407.5L567.4 410.5M567.4 410.5L567.8 401.2M578.7 396.9L574.4 396.3M555.5 387.3L551.6 386.7M555.5 387.3L555.8 388.1M547.9 392.2L548.0 388.4M547.9 392.2L555.2 390.7M555.2 390.7L555.8 388.1M551.6 386.7L548.0 388.4M513.8 428.6L516.0 428.3M516.0 428.3L519.0 430.2M518.7 437.2L512.7 437.4M518.7 437.2L520.4 433.2M520.4 433.2L519.0 430.2M527.9 417.7L523.6 420.2M527.9 417.7L530.3 418.2M523.6 420.2L526.5 426.6M531.5 428.1L530.3 418.2M531.5 428.1L530.8 428.6M526.5 426.6L530.8 428.6M567.1 410.7L568.7 416.9M567.1 410.7L559.6 409.1M568.7 416.9L559.8 418.0M559.6 409.1L557.8 411.0M557.8 411.0L558.8 417.6M559.8 418.0L558.8 417.6M576.9 408.9L575.3 407.5M576.9 408.9L570.3 418.5M570.3 418.5L568.7 416.9M567.4 410.5L567.1 410.7M567.2 400.6L559.9 403.3M559.9 403.3L559.6 409.1M481.5 279.3L476.0 280.0M481.5 279.3L482.4 278.1M483.6 286.0L481.5 279.3M475.0 285.7L476.0 280.0M489.7 278.3L482.4 278.1M580.8 202.6L583.8 198.4M580.8 202.6L584.3 209.9M583.8 198.4L592.7 205.0M584.3 209.9L592.1 208.9M592.7 205.0L592.7 208.1M592.1 208.9L592.7 208.1M575.0 203.6L580.8 202.6M580.9 213.7L584.3 209.9M594.5 201.8L592.7 205.0M592.9 217.9L592.1 208.9M604.6 209.9L592.7 208.1M425.4 208.2L426.4 215.8M417.7 216.1L425.8 216.3M426.4 215.8L425.8 216.3M418.5 224.5L418.1 224.1M418.5 224.5L425.0 224.3M425.8 216.3L425.0 224.3M440.4 216.3L440.0 208.5M432.9 240.0L432.5 239.6M425.3 247.6L424.6 240.2M432.5 239.6L424.6 240.2M432.5 239.6L431.8 232.4M431.8 232.4L432.6 231.9M393.6 271.1L393.7 271.1M393.6 271.1L385.6 271.5M393.7 271.1L393.6 280.0M385.6 271.5L385.5 279.9M393.6 280.0L388.0 280.8M385.5 279.9L388.0 280.8M393.6 263.7L393.6 271.1M401.4 271.4L393.7 271.1M395.1 280.9L393.6 280.0M383.0 280.7L385.5 279.9M388.6 289.6L388.0 280.8M387.6 290.3L381.5 289.4M477.8 547.8L482.1 544.0M477.8 547.8L475.0 544.6M475.0 544.6L477.5 540.5M416.9 456.4L420.9 458.6M416.9 456.4L417.0 453.6M420.9 458.6L424.5 453.2M417.0 453.6L419.0 451.5M424.5 453.2L419.0 451.5M413.0 445.5L410.6 449.6M413.0 445.5L419.7 448.7M419.7 448.7L419.0 451.5M410.6 449.9L410.6 449.6M410.6 449.9L417.0 453.6M425.9 453.2L424.3 446.2M425.9 453.2L424.5 453.2M421.5 446.2L419.7 448.7M421.5 446.2L424.3 446.2M458.0 461.3L463.3 460.4M458.0 461.3L456.9 465.3M456.9 465.3L463.5 466.0M463.3 460.4L463.5 466.0M474.1 573.3L477.9 570.0M244.7 123.7L245.2 132.3M244.7 123.7L238.6 121.3M238.6 121.3L237.1 122.1M237.1 122.1L234.6 131.9M245.2 132.3L235.1 132.5M235.1 132.5L234.6 131.9M246.5 133.4L245.2 132.3M247.7 122.4L244.7 123.7M239.9 114.2L238.6 121.3M227.5 119.1L237.1 122.1M225.7 130.7L234.6 131.9M235.3 141.2L235.1 132.5M303.3 176.2L303.1 169.5M291.1 178.6L294.5 168.1M294.5 168.1L303.1 169.5M312.8 169.0L304.7 168.1M304.8 158.0L304.7 168.1M304.7 168.1L303.1 169.5M387.1 297.0L380.1 296.6M381.4 289.5L379.8 296.1M380.1 296.6L379.8 296.1M380.2 303.7L379.8 303.3M380.1 296.6L379.8 303.3M372.4 310.2L373.6 303.3M379.8 303.3L373.6 303.3M365.8 305.9L371.9 301.6M373.6 303.3L371.9 301.6M270.8 145.3L271.7 136.8M270.8 145.3L277.0 147.6M278.4 146.7L277.0 147.6M278.4 146.7L281.3 138.3M271.7 136.8L280.7 137.7M281.3 138.3L280.7 137.7M268.1 146.4L270.8 145.3M270.3 134.6L271.7 136.8M276.1 156.7L277.1 155.7M277.1 155.7L277.0 147.6M286.8 138.2L281.3 138.3M287.5 147.9L286.5 148.5M286.5 148.5L278.4 146.7M279.6 128.6L280.7 137.7M373.1 289.4L374.0 295.5M373.1 289.4L370.3 289.2M370.3 289.2L366.9 290.3M366.9 290.3L370.6 298.0M374.0 295.5L371.0 298.1M370.6 298.0L371.0 298.1M374.5 288.1L373.1 289.4M379.8 296.1L374.0 295.5M368.4 282.1L370.3 289.2M364.2 289.9L366.9 290.3M363.6 298.3L370.6 298.0M371.9 301.6L371.0 298.1M261.7 491.7L255.1 485.3M249.8 488.4L250.7 487.0M255.1 485.3L250.7 487.0M240.5 477.8L246.6 477.6M250.7 487.0L246.6 477.6M227.6 505.6L228.9 511.4M236.3 503.7L237.2 510.3M237.2 510.3L228.9 511.4M221.6 520.5L227.5 517.4M227.5 517.4L228.9 511.4M197.8 514.2L196.4 510.6M209.2 506.7L198.5 505.5M198.5 505.5L196.4 510.6M196.4 510.6L187.3 511.1M327.0 431.5L328.6 430.0M327.0 431.5L320.2 430.0M328.6 430.0L327.5 424.2M320.2 430.0L322.5 423.9M322.5 423.9L327.5 424.2M326.9 439.4L327.0 431.5M335.0 430.2L328.6 430.0M317.5 431.1L320.2 430.0M329.5 421.4L333.3 422.3M329.5 421.4L327.5 424.2M319.7 420.1L322.5 423.9M328.0 416.6L323.6 416.7M328.0 416.6L329.5 421.4M335.2 407.0L337.0 408.9M335.2 407.0L332.0 408.0M337.0 408.9L336.9 415.3M332.0 408.0L328.6 411.8M336.9 415.3L328.2 416.3M328.2 416.3L328.6 411.8M343.7 409.1L337.0 408.9M335.3 406.5L335.2 407.0M326.5 404.6L332.0 408.0M338.0 417.0L336.9 415.3M322.4 408.6L328.6 411.8M328.0 416.6L328.2 416.3M365.1 427.0L366.1 425.9M365.1 427.0L363.4 430.5M363.4 430.5L368.1 435.8M366.1 425.9L368.3 424.9M373.1 432.7L369.4 425.5M373.1 432.7L368.1 435.8M368.3 424.9L369.4 425.5M356.8 423.8L365.1 427.0M360.3 419.5L357.5 419.1M360.3 419.5L366.1 425.9M357.7 432.7L363.4 430.5M367.2 441.9L368.1 435.8M369.3 419.7L368.3 424.9M369.3 419.7L368.4 417.5M368.4 417.5L365.7 416.8M365.7 416.8L360.3 419.5M377.4 424.9L369.4 425.5M379.3 433.6L379.1 428.3M379.3 433.6L373.1 432.7M369.3 419.7L378.9 419.1M386.7 371.2L387.6 375.4M386.7 371.2L388.5 367.4M388.5 367.4L393.1 372.9M387.6 375.4L390.3 376.6M393.1 372.9L391.6 376.5M390.3 376.6L391.6 376.5M382.2 377.4L379.4 374.1M382.2 377.4L387.6 375.4M380.4 371.1L386.7 371.2M379.4 372.2L379.4 374.1M388.1 365.3L388.6 365.8M388.6 365.8L388.5 367.4M392.0 364.7L398.7 364.0M392.0 364.7L391.2 365.4M391.2 365.4L397.3 370.1M398.7 364.0L400.3 366.0M400.3 366.0L398.6 370.0M398.6 370.0L397.3 370.1M395.6 357.2L392.0 364.7M397.6 359.1L398.7 364.0M388.6 365.8L391.2 365.4M393.1 372.9L397.3 370.1M391.9 376.9L391.6 376.5M399.3 371.1L398.4 378.4M399.3 371.1L398.6 370.0M351.7 410.1L358.9 409.7M351.3 405.2L360.3 405.6M360.3 405.6L358.9 409.7M356.5 417.9L359.3 411.9M365.7 416.8L363.6 413.4M363.6 413.4L359.3 411.9M359.3 411.9L358.9 409.7M353.3 399.8L358.2 394.7M353.3 399.8L361.2 403.0M361.9 397.6L358.2 394.7M361.9 397.6L362.5 400.4M362.5 400.4L361.2 403.0M353.3 399.8L349.4 399.9M360.3 405.6L361.1 404.6M361.2 403.0L361.1 404.6M377.6 443.1L379.5 441.4M379.3 433.6L379.3 433.7M379.3 433.7L379.5 441.4M387.9 451.0L386.0 443.1M379.5 441.4L386.0 443.1M396.3 436.5L400.3 431.3M396.3 436.5L390.9 433.6M390.9 433.6L389.8 431.4M400.3 431.3L398.5 427.9M390.0 430.8L389.8 431.4M390.0 430.8L396.4 426.3M398.5 427.9L396.4 426.3M379.3 433.7L389.8 431.4M388.1 442.0L386.0 443.1M388.1 442.0L390.9 433.6M387.6 426.0L390.0 430.8M367.8 454.6L366.9 460.3M357.0 462.8L357.4 463.2M357.4 463.2L366.9 460.3M377.4 463.1L380.1 459.7M377.4 463.1L369.6 463.5M369.6 463.5L366.9 460.3M389.7 452.7L397.0 450.3M388.0 460.2L389.4 462.2M399.0 453.2L397.0 450.3M399.0 453.2L397.5 461.7M389.4 462.2L397.5 461.7M419.4 433.8L412.8 434.4M419.4 433.8L417.4 441.5M412.8 434.4L413.0 441.2M417.4 441.5L413.3 441.4M413.3 441.4L413.0 441.2M419.6 442.5L417.4 441.5M419.6 442.5L424.2 437.5M419.4 433.8L419.4 433.8M419.4 433.8L422.9 434.3M422.9 434.3L424.2 437.5M419.6 442.5L421.5 446.2M413.0 445.5L413.3 441.4M408.6 447.6L410.6 449.6M408.6 447.6L408.3 441.4M408.3 441.4L413.0 441.2M409.0 458.8L405.8 458.5M409.0 458.8L409.0 451.4M405.8 458.5L402.3 454.1M402.3 454.1L407.1 451.5M409.0 451.4L407.1 451.5M410.9 460.3L409.0 458.8M410.9 460.3L406.1 467.6M406.1 467.6L402.9 468.2M402.9 468.2L401.8 467.8M401.8 467.8L400.0 463.6M400.0 463.6L405.8 458.5M399.0 453.2L402.3 454.1M397.5 461.7L400.0 463.6M395.4 443.6L397.2 449.8M395.4 443.6L397.9 439.4M397.2 449.8L402.6 447.0M402.6 447.0L403.9 445.4M403.9 445.4L404.8 440.7M397.9 439.4L403.9 439.5M404.8 440.7L403.9 439.5M397.0 450.3L397.2 449.8M388.1 442.0L395.4 443.6M396.3 436.5L397.9 439.4M407.1 451.5L402.6 447.0M408.6 447.6L403.9 445.4M410.6 449.9L409.0 451.4M408.3 441.4L404.8 440.7M405.9 433.2L403.9 439.5M405.9 433.2L400.3 431.3M409.3 430.9L412.8 434.4M409.3 430.9L405.9 433.2M390.4 419.8L390.7 419.8M396.4 426.3L396.6 423.4M396.6 423.4L390.7 419.8M387.6 415.9L387.4 417.3M387.6 415.9L392.0 410.7M392.0 410.7L395.4 414.6M390.7 419.8L395.4 414.6M431.6 435.3L436.3 435.5M431.6 435.3L428.5 440.1M435.0 442.3L437.3 438.4M435.0 442.3L429.0 441.3M437.3 438.4L436.3 435.5M429.0 441.3L428.5 440.1M438.2 432.4L436.3 435.5M430.6 427.2L428.3 428.3M428.3 428.3L431.6 435.3M442.6 439.7L437.3 438.4M436.4 444.9L439.3 444.8M436.4 444.9L435.0 442.3M424.2 437.5L428.5 440.1M427.5 444.9L424.3 446.2M427.5 444.9L429.0 441.3M440.7 392.3L439.8 390.8M440.7 392.3L446.6 389.7M439.8 390.8L444.6 382.5M446.6 389.7L448.4 388.0M448.4 388.0L447.9 383.7M447.9 383.7L444.6 382.5M448.6 396.3L446.6 389.7M441.1 396.3L440.5 393.7M440.5 393.7L440.7 392.3M452.6 390.4L448.4 388.0M449.6 382.3L447.9 383.7M396.6 423.4L399.5 420.5M395.4 414.6L399.2 415.5M399.5 420.5L399.2 415.5M392.0 410.7L391.9 409.5M391.9 409.5L397.1 406.6M397.1 406.6L400.8 413.8M400.8 413.8L399.2 415.5M432.2 424.4L432.5 421.3M439.3 422.6L435.1 419.6M432.5 421.3L435.1 419.6M441.6 416.3L437.8 414.5M435.1 419.6L437.8 414.5M359.8 534.2L361.9 542.3M359.8 534.2L354.4 534.0M354.4 534.0L353.2 544.3M353.3 533.3L354.4 534.0M353.3 533.3L346.2 534.0M346.2 534.0L342.0 539.3M347.4 522.8L353.8 523.8M347.4 522.8L344.5 525.7M353.8 523.8L353.3 533.3M346.2 534.0L344.5 525.7M328.5 528.0L326.6 535.8M328.5 528.0L335.8 529.8M335.8 529.8L337.1 536.1M327.6 526.3L328.5 528.0M318.6 535.1L326.6 535.8M335.8 520.2L330.8 519.2M335.8 520.2L338.9 525.1M338.9 525.1L335.8 529.8M344.5 525.7L338.9 525.1M346.7 497.7L346.4 507.2M346.7 497.7L348.3 496.0M348.3 496.0L357.3 496.7M357.3 496.7L353.3 507.5M353.3 507.5L346.4 507.2M364.5 498.7L358.1 496.3M364.5 498.7L366.4 506.0M366.4 506.0L354.8 508.7M357.3 496.7L358.1 496.3M353.3 507.5L354.8 508.7M338.9 496.4L346.7 497.7M340.6 508.4L343.0 509.6M346.4 507.2L343.0 509.6M335.8 520.2L343.1 512.6M343.0 509.6L343.1 512.6M347.4 522.8L346.1 516.7M343.1 512.6L346.1 516.7M360.6 524.8L354.7 523.3M360.6 524.8L364.1 520.7M354.7 523.3L356.2 515.1M364.1 520.7L364.5 516.4M356.2 515.1L356.4 514.9M356.4 514.9L364.3 516.0M364.5 516.4L364.3 516.0M353.8 523.8L354.7 523.3M363.3 531.0L359.8 534.2M363.3 531.0L360.6 524.8M346.1 516.7L356.2 515.1M354.8 508.7L356.4 514.9M366.4 506.0L367.1 506.7M367.1 506.7L364.3 516.0M411.1 368.9L407.1 368.9M411.1 368.9L412.7 364.8M411.8 362.3L412.7 364.8M411.8 362.3L404.5 364.6M407.1 368.9L404.4 364.9M404.5 364.6L404.4 364.9M419.1 366.9L412.7 364.8M418.9 370.3L414.4 371.9M414.4 371.9L411.8 370.1M411.8 370.1L411.1 368.9M412.2 360.7L411.8 362.3M404.2 359.8L404.5 364.6M399.3 371.1L405.1 373.2M405.1 373.2L407.1 368.9M400.3 366.0L404.4 364.9M437.9 309.7L438.2 310.1M446.1 308.5L445.8 308.9M445.8 308.9L438.2 310.1M437.9 316.1L438.2 315.7M438.2 315.7L438.2 310.1M461.1 331.4L460.3 332.1M461.1 331.4L460.1 324.3M453.7 331.7L453.6 325.1M453.6 325.1L460.1 324.3M468.2 316.2L461.4 316.4M468.2 316.2L468.7 324.1M468.6 324.1L468.7 324.1M468.6 324.1L461.4 322.8M461.4 316.4L460.3 317.8M460.3 317.8L461.4 322.8M461.1 331.4L467.8 331.1M467.8 331.1L468.6 324.1M460.1 324.3L461.4 322.8M461.0 309.3L461.4 316.4M461.0 309.3L467.8 309.4M468.2 316.2L469.0 315.2M467.8 309.4L469.0 315.2M460.9 309.1L461.0 309.3M468.1 302.0L469.1 308.0M467.8 309.4L469.1 308.0M475.9 301.1L475.7 308.2M469.1 308.0L475.7 308.2M483.6 302.2L482.7 309.0M493.1 307.2L492.1 309.8M482.7 309.0L492.1 309.8M491.7 322.5L490.8 315.9M499.7 315.2L492.7 312.4M490.8 315.9L492.7 312.4M492.7 312.4L492.1 309.8M464.4 357.2L464.2 363.9M464.4 357.2L470.0 356.1M464.4 364.0L464.2 363.9M472.8 364.1L473.7 360.4M470.0 356.1L473.7 360.4M461.8 354.8L464.4 357.2M463.4 349.6L470.6 350.8M470.0 356.1L470.6 350.8M459.2 371.7L455.0 370.4M459.2 371.7L460.1 363.6M455.0 370.4L456.3 364.0M456.3 364.0L459.9 363.5M460.1 363.6L459.9 363.5M459.6 371.9L459.2 371.7M453.4 375.2L454.4 370.6M454.4 370.6L455.0 370.4M464.2 363.9L460.1 363.6M454.4 370.6L449.9 369.5M449.9 369.5L450.2 363.3M455.7 363.4L456.3 364.0M459.2 357.3L459.9 363.5M463.4 343.1L471.1 345.0M470.6 350.8L472.0 349.7M471.1 345.0L472.0 349.7M476.2 329.6L480.1 331.8M476.2 329.6L470.2 334.0M474.0 338.7L470.4 335.5M474.0 338.7L479.4 334.9M479.4 334.9L480.1 331.8M470.4 335.5L470.2 334.0M475.9 324.2L483.0 323.5M475.9 324.2L476.2 329.6M483.1 330.4L480.1 331.8M483.4 323.9L483.0 323.5M467.8 331.1L470.2 334.0M468.7 324.1L474.6 323.4M474.6 323.4L475.9 324.2M463.1 341.1L470.4 335.5M474.4 339.8L471.1 345.0M474.4 339.8L474.0 338.7M481.2 336.3L486.2 337.3M481.2 336.3L479.4 334.9M486.5 336.3L486.2 337.3M379.4 374.1L374.3 377.0M371.3 375.8L371.6 376.6M374.3 377.0L371.6 376.6M302.1 408.6L296.2 412.1M302.5 423.8L300.0 421.8M300.0 421.8L296.2 412.1M293.2 405.2L293.7 411.3M296.2 412.1L293.7 411.3M262.5 425.2L260.7 423.4M260.7 423.4L261.5 417.3M270.3 424.0L271.5 417.4M261.5 417.3L265.3 414.7M265.3 414.7L271.5 417.3M271.5 417.4L271.5 417.3M298.6 435.3L292.7 436.2M299.1 445.2L291.6 442.4M292.7 436.2L291.6 442.4M281.5 445.5L279.5 447.2M281.5 445.5L282.6 441.8M271.9 443.4L279.5 447.2M271.9 443.4L272.5 436.7M278.6 435.6L280.6 436.8M282.6 441.8L280.6 436.8M263.6 408.2L257.8 407.4M263.6 408.2L265.3 414.7M261.5 417.3L255.6 414.3M255.6 414.3L256.9 408.1M256.9 408.1L257.8 407.4M254.3 415.2L252.6 423.1M254.3 415.2L246.1 412.9M246.1 412.9L245.4 421.9M245.4 421.9L252.0 423.5M252.0 423.5L252.6 423.1M260.7 423.4L252.6 423.1M255.6 414.3L254.3 415.2M252.3 430.8L252.0 423.5M243.7 422.7L245.4 421.9M271.9 451.7L270.2 445.9M271.9 451.7L269.3 453.9M269.3 453.9L263.0 454.2M270.2 445.9L262.9 446.4M262.9 446.4L260.7 451.2M260.7 451.2L263.0 454.2M271.9 443.4L270.2 445.9M278.0 453.1L279.5 447.2M278.0 453.1L271.9 451.7M261.4 442.2L262.9 446.4M255.8 451.4L260.7 451.2M305.2 534.2L305.4 534.7M305.4 534.7L310.6 537.4M318.5 535.2L318.3 535.6M310.6 537.4L318.3 535.6M396.1 509.7L387.4 504.5M396.1 509.7L394.7 515.2M394.7 515.2L388.7 516.8M388.7 516.8L384.5 513.7M384.5 513.7L384.8 507.1M384.8 507.1L387.4 504.5M372.3 507.5L376.1 504.9M372.3 507.5L376.7 517.4M376.1 504.9L384.8 507.1M376.7 517.4L384.5 513.7M405.9 478.0L402.9 468.2M405.9 478.0L396.5 480.7M401.8 467.8L397.3 471.6M396.5 480.7L397.3 471.6M389.4 462.2L388.7 468.3M397.3 471.6L388.7 468.3M376.3 496.5L376.9 497.3M376.3 496.5L376.8 487.5M376.9 497.3L385.8 496.9M378.3 486.3L376.8 487.5M378.3 486.3L385.1 490.2M385.1 490.2L385.8 496.9M372.3 507.5L367.1 506.7M364.5 498.7L367.4 496.1M367.4 496.1L376.3 496.5M376.1 504.9L376.9 497.3M367.4 496.1L368.6 487.8M368.6 487.8L376.8 487.5M388.4 499.3L387.4 504.5M388.4 499.3L385.8 496.9M387.2 488.7L397.5 488.2M387.2 488.7L385.1 490.2M397.5 488.2L397.6 488.3M388.4 499.3L394.8 497.0M394.8 497.0L397.6 488.3M341.5 486.6L342.8 485.3M348.3 496.0L346.7 488.0M346.7 488.0L342.8 485.3M339.1 480.2L342.4 482.7M342.4 482.7L342.8 485.3M590.0 336.8L591.0 337.5M487.1 457.1L486.7 463.3M474.9 457.4L480.5 453.9M474.9 457.4L477.3 465.3M477.3 465.3L481.4 466.9M486.7 463.3L481.4 466.9M474.2 457.1L471.7 452.3M474.2 457.1L466.7 459.5M466.7 459.5L464.6 459.2M471.7 452.3L466.8 449.9M466.8 449.9L464.5 458.9M464.6 459.2L464.5 458.9M474.9 457.4L474.2 457.1M477.2 443.3L471.7 452.3M477.3 465.3L470.6 469.3M470.6 469.3L466.7 459.5M465.2 447.9L466.8 449.9M458.2 449.1L457.7 451.2M457.7 451.2L464.5 458.9M457.0 452.1L454.9 458.2M457.0 452.1L457.7 451.2M454.9 458.2L458.0 461.3M463.3 460.4L464.6 459.2M518.7 437.2L521.3 444.6M511.8 445.1L521.1 444.8M521.1 444.8L521.3 444.6M535.5 437.4L529.8 432.7M535.5 437.4L535.4 442.0M535.4 442.0L526.8 440.9M526.8 440.9L527.0 435.5M527.0 435.5L529.8 432.7M533.5 451.0L535.4 448.3M533.5 451.0L533.0 451.1M533.0 451.1L524.7 443.2M524.7 443.2L526.8 440.9M536.3 443.2L535.4 448.3M536.3 443.2L535.4 442.0M520.4 433.2L527.0 435.5M524.7 443.2L521.3 444.6M519.0 430.2L526.5 426.6M530.8 428.6L529.8 432.7M515.1 466.9L526.2 472.0M515.1 466.9L522.6 461.6M527.0 465.6L522.6 461.6M512.5 456.4L520.9 456.0M512.5 456.4L512.2 456.7M515.1 466.9L514.7 466.9M514.7 466.9L512.2 456.7M522.6 461.6L520.9 456.0M533.0 451.1L528.3 453.9M521.1 444.8L522.2 454.2M528.3 453.9L522.2 454.2M512.5 456.4L511.0 446.1M520.9 456.0L522.2 454.2M533.5 451.0L537.3 456.6M528.3 453.9L530.4 460.3M480.9 419.3L481.5 415.1M480.9 419.3L486.2 420.9M481.5 415.1L483.8 412.4M486.2 420.9L489.3 417.7M483.8 412.4L489.9 412.2M489.3 417.7L489.9 412.2M479.0 420.7L480.9 419.3M473.2 414.3L474.0 413.4M474.0 413.4L481.5 415.1M486.7 425.8L486.2 420.9M495.2 423.6L494.5 427.9M495.2 423.6L489.3 417.7M483.4 400.6L476.5 397.0M483.4 400.6L483.6 402.4M483.6 402.4L478.5 406.5M474.1 401.2L475.8 406.5M474.1 401.2L476.5 397.0M478.5 406.5L475.8 406.5M475.8 406.5L475.8 406.5M490.0 412.1L489.9 412.2M490.0 412.1L491.2 406.0M491.2 406.0L483.6 402.4M483.8 412.4L478.5 406.5M468.9 399.5L474.1 401.2M469.3 406.9L475.8 406.5M476.5 395.1L473.4 393.1M476.5 395.1L476.5 397.0M474.0 413.4L475.8 406.5M562.2 377.8L558.9 381.3M562.2 377.8L562.7 375.6M562.7 375.6L559.6 371.9M558.9 381.3L556.4 382.0M556.7 373.1L559.6 371.9M556.7 373.1L554.9 380.4M554.9 380.4L556.4 382.0M551.2 379.3L554.9 380.4M551.2 379.3L549.1 374.9M552.8 372.2L549.1 374.9M552.8 372.2L556.7 373.1M555.5 387.3L556.4 382.0M551.2 379.3L547.7 382.4M547.7 382.4L551.6 386.7M567.1 374.8L562.7 375.6M562.2 377.8L567.3 382.6M520.7 358.0L527.7 358.9M526.6 351.4L527.3 351.9M527.3 351.9L527.9 358.8M527.7 358.9L527.9 358.8M547.3 340.1L547.0 340.7M547.3 340.1L555.2 342.2M547.0 340.7L551.1 350.9M555.2 342.2L554.4 348.4M551.4 350.9L551.1 350.9M557.7 339.9L555.2 342.2M547.3 339.5L547.3 340.1M562.9 343.3L557.5 348.0M557.5 348.0L554.4 348.4M526.4 343.9L533.6 346.4M527.3 351.9L531.7 351.1M533.6 346.4L531.7 351.1M476.5 395.1L477.6 394.3M477.6 394.3L484.5 395.7M483.4 400.6L485.2 396.3M485.2 396.3L484.5 395.7M523.6 420.2L520.6 419.6M516.0 428.3L519.6 420.0M519.6 420.0L520.6 419.6M507.2 342.1L505.5 345.1M507.2 342.1L505.9 337.5M505.5 345.1L501.5 341.1M505.9 337.5L501.8 338.0M501.8 338.0L501.5 341.1M514.3 342.1L507.2 342.1M509.1 350.8L505.1 348.1M505.1 348.1L505.5 345.1M507.7 335.2L505.9 337.5M497.3 335.3L501.8 338.0M498.7 350.1L500.6 349.0M498.7 350.1L493.4 346.6M500.6 349.0L499.5 342.9M499.5 342.9L494.0 340.5M493.4 346.6L492.6 341.8M494.0 340.5L492.6 341.8M497.6 355.9L497.5 355.8M497.5 355.8L498.7 350.1M505.1 348.1L500.6 349.0M501.5 341.1L499.5 342.9M496.2 335.8L494.0 340.5M486.2 337.3L486.8 340.7M486.8 340.7L492.6 341.8M558.5 401.5L549.7 400.9M558.5 401.5L558.4 396.4M555.8 393.3L558.4 396.4M555.8 393.3L549.2 397.6M549.2 397.6L549.7 400.9M559.9 403.3L558.5 401.5M547.7 403.5L549.7 400.9M547.7 403.5L551.0 410.6M551.0 410.6L551.2 410.8M551.2 410.8L557.8 411.0M564.6 392.9L558.4 396.4M564.6 392.9L568.1 397.7M536.4 425.4L531.9 428.0M536.4 425.4L541.9 429.8M531.9 428.0L539.4 434.0M541.9 429.8L540.6 433.8M539.4 434.0L540.6 433.8M531.5 428.1L531.9 428.0M535.5 437.4L539.4 434.0M535.0 416.5L539.1 419.7M535.0 416.5L534.9 413.7M542.0 410.4L535.9 412.5M542.0 410.4L542.3 410.6M542.3 410.6L543.0 419.2M539.1 419.7L543.0 419.2M534.9 413.7L535.9 412.5M530.3 418.2L535.0 416.5M536.4 425.4L539.1 419.7M541.1 404.4L537.1 404.6M541.1 404.4L542.0 410.4M537.1 404.6L535.9 412.5M547.7 403.5L542.0 403.6M551.0 410.6L542.3 410.6M541.1 404.4L542.0 403.6M537.4 393.7L537.2 394.6M537.4 393.7L543.1 391.7M537.2 394.6L541.4 398.8M541.4 398.8L546.7 394.5M543.1 391.7L546.5 393.7M546.5 393.7L546.7 394.5M533.0 387.8L531.4 388.8M533.0 387.8L535.0 389.0M531.4 388.8L528.2 396.7M528.2 396.7L534.3 396.9M535.0 389.0L535.6 389.6M535.6 389.6L537.4 393.7M534.3 396.9L537.2 394.6M542.8 386.5L535.6 389.6M542.8 386.5L543.1 391.7M542.0 403.6L541.4 398.8M535.7 404.2L537.1 404.6M535.7 404.2L534.3 396.9M549.2 397.6L546.7 394.5M547.9 392.2L546.5 393.7M548.0 388.4L543.7 384.6M542.8 386.5L543.7 384.6M555.2 390.7L555.8 393.3M541.9 429.8L547.3 426.9M540.6 433.8L542.4 435.6M542.4 435.6L549.1 432.3M549.1 432.3L550.1 428.8M550.1 428.8L547.3 426.9M551.2 410.8L546.9 418.6M558.8 417.6L556.6 420.7M556.6 420.7L546.9 418.6M543.0 419.2L545.0 419.8M547.3 426.9L545.0 419.8M545.0 419.8L546.9 418.6M535.4 448.3L543.1 449.7M542.8 457.6L543.1 449.7M564.0 434.1L557.0 436.7M564.0 434.1L560.5 427.7M557.0 436.7L553.4 428.6M560.5 427.7L556.3 426.4M556.3 426.4L553.4 428.6M565.8 424.0L566.4 424.0M565.8 424.0L560.5 427.7M567.6 433.7L565.9 434.7M565.9 434.7L564.0 434.1M565.8 424.0L559.8 418.0M556.6 420.7L556.3 426.4M550.1 428.8L553.4 428.6M557.0 436.7L556.2 438.4M440.4 216.3L439.8 224.2M440.4 216.3L432.5 216.4M432.5 216.4L433.2 223.6M439.8 224.2L433.7 224.1M433.2 223.6L433.7 224.1M440.4 216.3L440.4 216.3M426.4 215.8L432.4 216.4M432.4 216.4L432.5 216.4M425.0 224.3L425.3 224.5M425.3 224.5L433.2 223.6M432.6 231.9L433.7 224.1M425.3 224.5L426.5 231.6M431.8 232.4L426.5 231.6M439.6 208.1L440.0 200.9M439.6 208.1L433.8 208.5M433.8 208.5L432.5 207.4M432.5 207.4L432.7 199.8M440.0 200.9L432.8 199.7M432.7 199.8L432.8 199.7M432.4 216.4L433.8 208.5M440.0 208.5L439.6 208.1M425.8 207.8L432.5 207.4M425.3 200.2L432.7 199.8M433.0 196.0L432.8 199.7M440.0 200.9L440.8 200.2M424.9 232.8L424.0 239.6M424.9 232.8L418.1 231.5M418.1 231.5L416.9 232.5M416.9 232.5L417.5 239.9M417.5 239.9L424.0 239.6M426.5 231.6L424.9 232.8M424.6 240.2L424.0 239.6M418.5 224.5L418.1 231.5M410.4 231.8L416.9 232.5M417.3 240.1L417.5 239.9M474.2 552.5L475.2 561.9M474.2 552.5L466.3 551.6M475.2 561.9L467.8 562.4M466.3 551.6L464.1 554.1M464.1 554.1L467.8 562.4M461.1 573.7L463.2 565.5M470.6 574.1L467.1 563.2M463.2 565.5L467.1 563.2M475.2 561.9L478.3 563.5M478.3 563.5L477.9 570.0M467.1 563.2L467.8 562.4M474.2 552.5L477.9 548.4M477.8 547.8L477.9 548.4M475.0 544.6L468.4 541.5M466.3 551.6L466.4 542.3M468.4 541.5L466.4 542.3M410.9 460.3L411.4 460.3M416.9 456.4L413.9 459.3M411.4 460.3L413.9 459.3M405.9 478.0L408.8 478.9M406.1 467.6L410.6 470.1M410.6 470.1L410.9 477.1M410.9 477.1L410.5 478.0M410.5 478.0L408.8 478.9M397.5 488.2L396.4 480.8M397.6 488.3L402.8 489.3M402.8 489.3L408.7 484.2M396.5 480.7L396.4 480.8M408.8 478.9L408.7 484.2M487.9 562.9L482.7 561.7M482.7 561.7L483.4 552.3M478.3 563.5L482.7 561.7M488.3 573.7L487.9 562.9M477.9 548.4L483.4 552.3M283.9 166.7L293.3 166.7M283.9 166.7L285.0 156.9M293.3 166.7L294.1 159.0M285.0 156.9L285.8 156.5M285.8 156.5L293.4 158.0M293.4 158.0L294.1 159.0M283.4 167.1L283.9 166.7M294.5 168.1L293.3 166.7M277.1 155.7L285.0 156.9M304.8 158.0L294.1 159.0M286.5 148.5L285.8 156.5M295.2 148.8L293.4 158.0M257.0 476.8L249.5 474.4M257.0 476.8L257.1 467.8M249.5 474.4L249.3 470.7M249.3 470.7L252.5 466.8M257.1 467.8L252.5 466.8M255.1 485.3L259.8 479.2M259.8 479.2L257.0 476.8M246.6 477.6L249.5 474.4M240.4 466.3L249.3 470.7M251.0 460.4L252.5 466.8M294.7 492.2L285.0 490.7M295.2 484.1L288.0 483.6M288.0 483.6L285.0 490.7M285.8 499.2L283.6 491.6M278.4 499.1L280.6 490.8M280.6 490.8L283.6 491.6M272.0 496.9L276.8 488.6M280.6 490.8L276.8 488.6M285.0 490.7L283.6 491.6M295.2 477.9L287.4 474.1M288.0 483.6L285.9 481.5M285.9 481.5L286.1 475.5M287.4 474.1L286.1 475.5M296.2 468.8L288.0 469.8M287.4 474.1L288.0 469.8M256.4 530.7L255.6 529.5M245.2 535.4L247.0 531.1M247.0 531.1L250.6 529.2M255.6 529.5L250.6 529.2M261.5 519.9L256.3 521.4M255.6 529.5L256.3 521.4M252.2 515.2L252.4 518.0M256.3 521.4L252.4 518.0M245.8 509.9L241.7 512.5M252.4 518.0L246.2 521.1M241.7 512.5L246.2 521.1M237.2 510.3L239.6 512.9M241.7 512.5L239.6 512.9M250.6 529.2L245.3 522.2M246.2 521.1L245.3 522.2M198.3 504.8L189.7 502.3M198.3 504.8L199.1 496.9M189.7 502.3L190.8 494.6M199.1 496.9L196.4 495.1M196.4 495.1L190.8 494.6M198.5 505.5L198.3 504.8M206.2 493.4L199.1 496.9M188.3 493.3L190.8 494.6M196.2 484.2L196.4 495.1M354.7 381.1L355.7 387.4M350.1 385.2L354.7 390.2M355.7 387.4L354.7 390.2M349.0 394.3L354.8 391.5M358.2 394.7L356.8 392.4M356.8 392.4L354.8 391.5M354.8 391.5L354.7 390.2M365.5 411.3L365.1 407.0M365.5 411.3L370.9 412.9M365.1 407.0L370.9 407.3M370.9 407.3L371.9 411.9M370.9 412.9L371.9 411.9M363.6 413.4L365.5 411.3M361.1 404.6L365.1 407.0M368.4 417.5L370.9 412.9M392.7 383.4L387.9 385.8M390.3 376.6L386.4 383.7M386.4 383.7L387.9 385.8M442.4 379.8L437.2 375.3M442.4 379.8L445.0 373.0M445.0 373.0L444.6 371.4M438.4 371.3L437.2 375.3M438.4 371.3L443.6 370.6M443.6 370.6L444.6 371.4M449.6 376.9L445.0 373.0M444.6 382.5L442.3 380.8M442.3 380.8L442.4 379.8M449.9 369.5L444.6 371.4M435.6 369.7L438.4 371.3M443.3 366.5L443.6 370.6M431.3 371.3L432.2 375.9M437.2 375.3L435.4 376.9M432.2 375.9L435.4 376.9M440.3 399.8L440.1 400.0M440.5 393.7L433.4 394.5M440.1 400.0L434.9 400.3M434.9 400.3L432.1 395.8M433.4 394.5L432.1 395.8M424.0 398.5L425.8 401.1M424.0 398.5L425.9 395.5M434.9 400.3L433.4 401.6M425.9 395.5L432.1 395.8M425.8 401.1L433.4 401.6M418.9 426.0L421.0 419.2M418.9 426.0L427.6 428.5M427.6 428.5L428.1 428.3M428.1 428.3L424.3 419.9M424.3 419.9L421.1 419.1M421.0 419.2L421.1 419.1M419.4 433.8L418.0 426.6M422.9 434.3L427.6 428.5M418.0 426.6L418.9 426.0M428.3 428.3L428.1 428.3M432.5 421.3L428.8 417.3M428.8 417.3L424.3 419.9M418.0 426.6L413.0 426.3M421.0 419.2L412.8 420.7M412.8 420.7L413.0 426.3M398.5 427.9L406.1 425.7M399.5 420.5L404.8 421.8M404.8 421.8L406.1 425.7M409.3 430.9L409.6 429.4M406.1 425.7L409.6 429.4M409.6 429.4L413.0 426.3M427.4 412.5L419.9 414.7M427.4 412.5L427.3 407.7M426.6 407.1L427.3 407.7M426.6 407.1L419.2 409.5M419.2 409.5L418.2 412.6M418.2 412.6L419.9 414.7M428.8 417.3L429.3 415.2M429.3 415.2L427.4 412.5M421.1 419.1L419.9 414.7M437.5 414.1L435.1 413.2M437.5 414.1L439.6 408.9M435.1 413.2L432.5 407.6M439.6 408.9L438.2 406.3M438.2 406.3L433.2 406.8M432.5 407.6L433.2 406.8M429.3 415.2L435.1 413.2M437.8 414.5L437.5 414.1M446.4 407.9L439.6 408.9M427.3 407.7L432.5 407.6M440.1 400.0L438.2 406.3M433.4 401.6L433.2 406.8M425.8 401.1L426.6 407.1M399.3 379.5L405.9 377.8M405.1 373.2L406.4 376.1M406.4 376.1L405.9 377.8M411.8 370.1L407.8 375.5M406.4 376.1L407.8 375.5M413.8 375.3L414.4 371.9M413.8 375.3L413.0 375.6M407.8 375.5L413.0 375.6M452.0 323.6L453.5 316.9M452.0 323.6L445.8 324.2M453.1 316.3L445.8 316.3M453.1 316.3L453.5 316.9M445.2 323.7L445.8 324.2M445.2 323.7L444.9 317.2M444.9 317.2L445.8 316.3M453.6 325.1L452.0 323.6M460.3 317.8L453.5 316.9M446.1 332.6L445.8 324.2M453.4 310.3L453.1 316.3M445.8 308.9L445.8 316.3M439.0 324.4L445.2 323.7M438.2 315.7L444.9 317.2M475.5 316.6L482.5 316.7M475.5 316.6L474.5 315.4M474.5 315.4L476.2 308.8M482.5 316.7L482.7 316.4M482.7 316.4L482.3 309.4M476.2 308.8L482.3 309.4M474.6 323.4L475.5 316.6M483.0 323.5L482.5 316.7M469.0 315.2L474.5 315.4M475.7 308.2L476.2 308.8M490.8 315.9L482.7 316.4M482.7 309.0L482.3 309.4M483.4 365.6L484.5 363.2M483.4 365.6L487.1 370.7M489.3 362.5L487.2 360.9M492.3 369.2L487.1 370.7M487.2 360.9L484.5 363.2M497.5 355.8L487.9 356.4M487.2 360.9L487.9 356.4M488.6 350.2L493.4 346.6M488.6 350.2L487.7 356.2M487.9 356.4L487.7 356.2M485.8 341.6L484.7 346.3M485.8 341.6L480.6 341.1M484.7 346.3L479.1 348.7M479.1 348.7L477.5 341.9M480.6 341.1L477.5 341.9M488.6 350.2L484.7 346.3M486.8 340.7L485.8 341.6M481.2 336.3L480.6 341.1M474.4 339.8L477.5 341.9M300.0 421.8L291.4 421.9M291.0 412.2L288.7 417.1M291.0 412.2L293.7 411.3M291.4 421.9L288.7 417.1M280.1 426.9L282.1 425.1M271.5 417.4L281.8 419.7M282.1 425.1L281.8 419.7M275.3 408.6L275.1 402.3M275.3 408.6L275.5 408.9M275.5 408.9L280.7 409.7M276.0 400.6L285.0 403.4M276.0 400.6L275.1 402.3M280.7 409.7L283.8 408.3M285.0 403.4L283.8 408.3M266.4 400.7L265.6 406.5M266.4 400.7L275.1 402.3M265.6 406.5L275.3 408.6M265.6 406.5L263.6 408.2M271.5 417.3L275.5 408.9M281.8 419.7L282.3 418.8M282.3 418.8L280.7 409.7M276.6 395.6L276.0 400.6M285.2 403.1L285.0 403.4M264.7 396.2L266.4 400.7M291.0 412.2L283.8 408.3M288.7 417.1L282.3 418.8M296.8 461.0L289.1 459.8M288.0 469.8L287.0 468.3M289.1 459.8L287.0 468.3M282.8 454.2L288.5 459.4M282.8 454.2L287.4 449.6M287.4 449.6L289.9 449.4M288.9 459.5L288.5 459.4M288.9 459.5L291.3 451.1M289.9 449.4L291.3 451.1M278.4 453.8L282.8 454.2M278.4 453.8L276.9 461.8M276.9 461.8L278.1 462.1M278.1 462.1L288.5 459.4M281.5 445.5L287.4 449.6M278.0 453.1L278.4 453.8M282.6 441.8L291.0 443.0M291.0 443.0L289.9 449.4M289.1 459.8L288.9 459.5M278.1 462.1L284.6 467.9M287.0 468.3L284.6 467.9M298.5 451.7L291.3 451.1M291.0 443.0L291.6 442.4M284.5 435.4L292.3 435.8M284.5 435.4L287.9 426.8M292.3 435.8L291.2 429.5M291.2 429.5L288.1 426.7M288.1 426.7L287.9 426.8M292.7 436.2L292.3 435.8M280.6 436.8L284.5 435.4M282.1 425.1L287.9 426.8M302.3 425.1L291.2 429.5M291.4 421.9L288.1 426.7M256.9 408.1L247.0 406.0M257.8 407.4L257.5 402.4M248.8 400.9L247.0 406.0M248.8 400.9L250.4 399.5M250.4 399.5L257.5 402.4M264.5 396.0L261.0 396.0M261.0 396.0L257.5 402.4M234.3 416.8L238.3 413.1M246.1 412.9L245.6 412.0M245.6 412.0L238.3 413.1M247.0 406.0L246.8 406.1M245.6 412.0L246.8 406.1M231.3 379.3L236.6 384.7M243.5 378.2L243.8 383.8M236.6 384.7L243.8 383.8M316.4 550.3L318.2 544.3M310.6 537.4L311.0 542.7M384.5 527.0L376.4 518.1M384.5 527.0L382.7 531.3M381.1 532.2L382.7 531.3M381.1 532.2L372.1 532.0M372.0 525.7L375.8 518.5M372.0 525.7L371.8 531.6M375.8 518.5L376.4 518.1M371.8 531.6L372.1 532.0M376.7 517.4L376.4 518.1M388.1 524.7L388.7 516.8M388.1 524.7L384.5 527.0M370.8 542.1L372.1 532.0M382.0 542.9L381.1 532.2M364.1 520.7L372.0 525.7M364.5 516.4L375.8 518.5M363.3 531.0L371.8 531.6M388.1 524.7L394.4 526.8M394.7 515.2L398.4 518.6M398.4 518.6L395.0 526.4M394.4 526.8L395.0 526.4M389.2 535.2L394.6 531.2M389.2 535.2L382.7 531.3M394.4 526.8L394.6 531.2M402.8 489.3L403.8 490.4M403.8 490.4L412.1 491.3M408.7 484.2L410.9 486.0M412.1 491.3L410.9 486.0M414.5 479.9L414.4 485.5M414.5 479.9L410.5 478.0M410.9 486.0L414.4 485.5M398.4 518.6L405.0 518.9M406.0 522.5L401.1 527.5M406.0 522.5L406.0 520.0M395.0 526.4L401.1 527.5M406.0 520.0L405.0 518.9M396.1 509.7L400.2 506.8M394.8 497.0L398.4 500.1M400.2 506.8L398.4 500.1M405.8 511.5L405.0 518.9M405.8 511.5L404.2 507.9M400.2 506.8L404.2 507.9M403.8 490.4L406.2 497.3M398.4 500.1L406.2 497.3M386.3 471.1L390.5 479.4M386.3 471.1L380.3 472.1M380.3 472.1L380.1 472.3M380.1 472.3L378.1 479.7M379.0 481.6L378.1 479.7M379.0 481.6L387.6 481.3M387.6 481.3L390.5 479.4M396.4 480.8L390.5 479.4M388.7 468.3L386.3 471.1M377.4 463.1L380.3 472.1M369.6 463.5L369.0 469.6M369.5 470.7L369.0 469.6M369.5 470.7L380.1 472.3M368.1 478.2L369.5 470.7M368.1 478.2L378.1 479.7M387.2 488.7L387.6 481.3M378.3 486.3L379.0 481.6M343.5 467.8L346.8 470.8M357.4 463.2L356.9 469.1M346.8 470.8L356.9 469.1M342.4 482.7L347.4 477.7M346.8 470.8L347.4 477.7M369.0 469.6L357.8 470.5M356.9 469.1L357.8 470.5M357.9 490.9L354.5 486.3M357.9 490.9L366.4 485.4M354.5 486.3L356.6 479.4M366.4 485.4L365.3 480.3M365.3 480.3L358.5 478.0M356.6 479.4L358.5 478.0M358.1 496.3L357.9 490.9M346.7 488.0L354.5 486.3M368.6 487.8L366.4 485.4M347.4 477.7L356.6 479.4M368.1 478.2L365.3 480.3M357.8 470.5L358.5 478.0M570.3 418.5L570.9 420.0M580.1 351.4L583.1 357.0M580.1 351.4L580.4 348.9M580.4 348.9L582.8 346.6M583.2 357.1L587.5 351.0M583.2 357.1L583.1 357.0M587.5 351.0L585.5 346.8M585.5 346.8L582.8 346.6M574.0 345.6L580.4 348.9M581.3 339.8L582.8 346.6M572.3 346.3L571.2 350.5M580.1 351.4L576.2 352.7M571.2 350.5L576.2 352.7M576.1 360.8L583.1 357.0M576.2 352.7L573.0 359.8M585.5 346.8L590.2 344.5M582.9 338.9L589.9 342.0M565.2 369.2L569.2 372.5M565.2 369.2L569.6 364.5M559.9 370.2L562.3 368.5M559.9 370.2L559.6 371.9M562.3 368.5L565.2 369.2M583.2 357.1L585.8 358.9M470.6 469.3L470.0 470.0M479.8 476.3L474.8 475.9M479.8 476.3L482.9 472.9M482.9 472.9L481.4 466.9M474.8 475.9L470.0 470.0M465.6 470.9L463.5 466.0M465.6 470.9L467.1 471.2M467.1 471.2L470.0 470.0M500.2 449.8L504.1 455.8M500.2 449.8L493.5 453.7M504.1 455.8L496.6 460.2M493.5 453.7L496.6 460.2M500.7 448.5L500.2 449.8M512.2 456.7L507.2 458.2M507.2 458.2L504.1 455.8M491.7 453.5L493.5 453.7M511.4 473.6L511.6 480.5M511.4 473.6L521.9 475.2M486.7 463.3L491.2 465.1M496.6 460.2L496.8 463.7M491.2 465.1L496.8 463.7M511.6 480.5L509.6 483.4M491.8 499.7L491.5 494.9M491.5 494.9L491.9 494.2M491.9 494.2L500.5 491.8M567.3 382.6L567.6 384.1M567.6 384.1L570.5 384.8M548.4 364.7L549.5 361.3M548.4 364.7L548.8 366.4M548.8 366.4L551.7 367.4M549.5 361.3L553.5 360.5M553.5 360.5L553.2 366.6M551.7 367.4L553.2 366.6M546.1 356.7L549.5 361.3M546.1 356.7L543.5 357.7M543.5 357.7L541.6 362.2M541.6 362.2L548.4 364.7M553.0 352.7L555.0 359.5M549.4 351.7L551.1 350.9M549.4 351.7L546.1 356.7M555.0 359.5L553.5 360.5M557.0 366.5L558.3 360.8M557.0 366.5L553.2 366.6M558.3 360.8L555.0 359.5M559.9 370.2L557.0 366.5M552.8 372.2L551.7 367.4M518.7 364.5L520.8 365.7M527.7 358.9L526.8 361.6M520.8 365.7L526.8 361.6M549.1 374.9L548.4 374.7M548.8 366.4L546.8 368.4M546.8 368.4L548.4 374.7M541.4 362.4L541.6 362.2M541.4 362.4L541.7 367.4M541.7 367.4L543.3 368.7M546.8 368.4L543.3 368.7M535.0 389.0L540.6 382.6M543.7 384.6L543.6 383.9M540.6 382.6L543.6 383.9M543.3 368.7L542.2 374.5M548.4 374.7L544.5 375.6M544.5 375.6L542.2 374.5M547.7 382.4L544.4 383.2M544.5 375.6L544.4 383.2M544.4 383.2L543.6 383.9M531.9 338.1L534.7 340.0M533.6 346.4L534.1 346.1M534.1 346.1L534.7 340.0M540.6 335.3L537.4 339.9M534.7 340.0L537.4 339.9M546.8 340.8L538.2 340.7M546.8 340.8L547.0 340.7M537.4 339.9L538.2 340.7M534.7 353.1L538.8 352.0M534.7 353.1L534.0 358.1M534.0 358.1L536.4 358.2M536.4 358.2L540.7 355.7M540.7 355.7L538.8 352.0M527.9 358.8L532.5 359.5M531.7 351.1L534.7 353.1M532.5 359.5L534.0 358.1M543.5 357.7L540.7 355.7M541.4 362.4L540.4 362.4M540.4 362.4L536.4 358.2M488.1 378.1L483.2 378.3M488.1 378.1L486.7 372.0M481.5 373.2L482.9 378.0M481.5 373.2L486.7 372.0M482.9 378.0L483.2 378.3M494.6 375.3L488.7 378.5M487.1 370.7L486.7 372.0M488.7 378.5L488.1 378.1M477.3 376.5L482.9 378.0M479.6 372.0L481.5 373.2M483.4 365.6L480.5 367.0M530.4 405.7L531.3 410.4M530.4 405.7L527.4 404.3M527.4 404.3L521.6 409.1M531.3 410.4L527.0 413.4M527.0 413.4L521.6 409.1M535.7 404.2L530.4 405.7M534.9 413.7L531.3 410.4M527.9 417.7L527.0 413.4M520.6 419.6L521.3 409.2M521.3 409.2L521.6 409.1M491.2 406.0L491.3 405.9M485.2 396.3L490.3 394.6M491.3 405.9L490.3 394.6M490.0 412.1L496.5 414.5M496.5 414.5L500.7 408.1M500.7 408.1L495.7 404.4M491.3 405.9L495.7 404.4M517.8 373.8L517.5 376.0M517.8 373.8L514.7 371.8M517.5 376.0L514.7 378.0M512.4 372.5L511.2 375.5M514.7 378.0L511.2 375.5M500.2 376.4L501.7 378.8M505.5 372.5L508.6 376.7M501.7 378.8L508.0 378.9M508.0 378.9L508.6 376.7M508.6 376.7L511.2 375.5M528.2 396.7L527.8 396.9M527.4 404.3L526.3 398.6M527.8 396.9L526.3 398.6M576.9 408.9L578.5 409.7M578.5 409.7L578.4 416.8M542.6 442.0L545.7 447.2M542.6 442.0L544.0 439.6M544.0 439.6L549.7 438.7M545.7 447.2L548.7 447.7M549.7 438.7L551.8 439.9M551.8 439.9L551.2 446.4M536.3 443.2L542.6 442.0M543.1 449.7L545.7 447.2M542.4 435.6L544.0 439.6M549.1 432.3L549.7 438.7M556.2 438.4L551.8 439.9M479.8 482.9L473.7 483.3M479.8 482.9L479.8 476.3M474.8 475.9L473.4 478.3M473.7 483.3L473.4 478.3M467.1 471.2L467.5 477.8M473.4 478.3L467.5 477.8M469.4 532.5L469.1 540.0M469.4 532.5L472.6 530.6M469.1 540.0L476.2 536.1M472.6 530.6L476.3 530.8M476.3 530.8L477.1 534.7M476.2 536.1L477.1 534.7M477.5 540.5L476.2 536.1M468.4 541.5L469.1 540.0M469.4 522.1L476.0 522.3M469.4 522.1L472.6 530.6M476.0 522.3L477.5 529.5M477.5 529.5L476.3 530.8M469.2 522.0L465.0 523.6M469.2 522.0L469.4 522.1M465.0 523.6L464.7 523.8M469.4 532.5L465.1 530.0M464.7 523.8L465.1 530.0M460.9 472.3L458.1 470.3M460.9 472.3L459.3 476.2M458.1 470.3L453.6 471.6M459.3 476.2L453.5 478.2M453.5 478.2L453.6 471.6M465.6 470.9L460.9 472.3M456.9 465.3L456.6 465.8M456.6 465.8L458.1 470.3M461.6 480.4L467.0 479.5M461.6 480.4L459.3 476.2M467.0 479.5L467.5 477.8M453.4 478.2L453.5 478.2M453.4 478.2L453.0 483.3M461.6 480.4L459.9 485.0M459.9 485.0L456.4 486.4M453.0 483.3L456.4 486.4M454.9 458.2L449.8 459.6M449.8 459.6L449.5 464.3M456.6 465.8L450.1 465.9M449.5 464.3L450.1 465.9M453.6 471.6L449.1 469.3M450.1 465.9L449.1 469.3M453.4 478.2L448.0 475.5M449.1 469.3L447.0 471.0M448.0 475.5L447.0 471.0M449.5 464.3L443.5 464.3M443.5 464.3L442.1 466.7M442.1 466.7L446.3 470.9M447.0 471.0L446.3 470.9M276.7 483.7L276.4 487.6M276.7 483.7L276.0 482.3M276.0 482.3L264.3 480.3M276.4 487.6L266.1 488.3M266.1 488.3L264.3 480.3M285.9 481.5L276.7 483.7M276.8 488.6L276.4 487.6M265.2 490.1L266.1 488.3M259.8 479.2L262.9 478.8M262.9 478.8L264.3 480.3M269.3 453.9L271.7 462.1M276.9 461.8L276.5 462.0M271.7 462.1L276.5 462.0M231.8 518.7L237.2 517.1M231.8 518.7L236.3 529.3M237.2 517.1L242.4 523.4M236.3 529.3L240.9 526.0M240.9 526.0L242.4 523.4M227.5 517.4L231.8 518.7M239.6 512.9L237.2 517.1M235.8 530.3L236.3 529.3M245.3 522.2L242.4 523.4M247.0 531.1L240.9 526.0M363.0 387.8L361.5 385.6M363.0 387.8L363.2 387.9M363.2 387.9L368.9 385.0M361.5 385.6L360.6 382.5M360.6 382.5L363.8 379.5M363.8 379.5L368.9 381.4M368.9 385.0L369.0 381.5M369.0 381.5L368.9 381.4M355.7 387.4L361.5 385.6M356.8 392.4L363.0 387.8M361.9 397.6L365.4 392.5M365.4 392.5L363.2 387.9M365.4 392.5L371.3 393.1M371.3 393.1L371.5 387.4M371.5 387.4L368.9 385.0M355.6 380.8L360.6 382.5M363.4 376.8L363.8 379.5M371.6 376.6L368.9 381.4M394.5 390.0L394.5 390.0M387.9 385.8L387.9 387.5M387.9 387.5L390.6 390.5M394.5 390.0L390.6 390.5M376.6 381.6L376.3 382.6M376.6 381.6L382.1 379.3M376.3 382.6L376.6 385.7M382.1 379.3L383.7 382.4M383.7 382.4L378.7 387.0M376.6 385.7L378.7 387.0M374.3 377.0L376.6 381.6M369.0 381.5L376.3 382.6M382.2 377.4L382.1 379.3M371.5 387.4L376.6 385.7M386.4 383.7L383.7 382.4M384.0 389.8L387.9 387.5M384.0 389.8L379.7 389.6M379.7 389.6L378.7 387.0M425.9 395.5L426.2 390.9M433.4 394.5L432.6 388.9M426.2 390.9L426.6 390.1M426.6 390.1L429.8 388.4M432.6 388.9L429.8 388.4M439.8 390.8L436.9 387.9M432.6 388.9L436.9 387.9M442.3 380.8L437.3 383.0M436.9 387.9L437.3 383.0M435.4 376.9L435.8 381.8M437.3 383.0L435.8 381.8M420.5 389.5L418.9 386.7M420.5 389.5L426.2 390.9M418.9 386.7L418.3 383.5M426.6 390.1L423.4 383.9M418.3 383.5L423.4 383.9M421.2 373.6L421.2 376.0M413.8 375.3L417.5 379.4M417.5 379.4L421.2 376.0M407.4 419.2L412.6 420.4M407.4 419.2L406.8 414.7M406.8 414.7L412.9 412.6M412.6 420.4L414.0 413.1M414.0 413.1L412.9 412.6M412.8 420.7L412.6 420.4M404.8 421.8L407.4 419.2M400.8 413.8L404.0 412.8M404.0 412.8L406.8 414.7M404.0 412.8L405.3 407.7M405.3 407.7L411.2 408.7M411.2 408.7L412.9 412.6M418.2 412.6L414.0 413.1M424.0 398.5L421.1 398.7M420.5 389.5L416.6 393.9M421.1 398.7L416.6 393.9M481.5 354.2L477.5 359.0M481.5 354.2L478.5 349.8M478.5 349.8L476.5 350.2M476.5 350.2L474.1 360.1M474.1 360.1L477.5 359.0M484.5 363.2L477.5 359.0M487.7 356.2L481.5 354.2M479.1 348.7L478.5 349.8M472.0 349.7L476.5 350.2M473.7 360.4L474.1 360.1M251.4 392.6L250.7 386.1M251.4 392.6L252.5 393.9M252.5 393.9L258.8 394.5M258.8 394.5L258.8 386.1M258.8 386.1L251.6 385.5M251.6 385.5L250.7 386.1M250.4 399.5L252.5 393.9M261.0 396.0L258.8 394.5M260.6 384.9L258.8 386.1M254.0 378.1L251.6 385.5M243.8 383.8L244.0 384.1M244.0 384.1L250.7 386.1M230.1 391.9L231.0 391.8M236.6 384.7L233.8 391.1M231.0 391.8L233.8 391.1M310.8 551.6L312.0 551.0M310.8 551.6L304.7 544.4M312.0 551.0L310.4 543.1M310.4 543.1L305.5 543.6M305.5 543.6L304.7 544.4M309.4 553.5L310.8 551.6M316.4 550.3L312.0 551.0M299.6 546.5L304.7 544.4M311.0 542.7L310.4 543.1M305.4 534.7L305.5 543.6M418.1 480.3L419.1 481.7M418.1 480.3L414.5 479.9M414.4 485.5L417.2 486.6M417.2 486.6L419.1 481.7M431.2 496.1L434.2 497.8M431.2 496.1L426.5 498.1M434.2 497.8L431.9 503.8M431.9 503.8L427.0 502.2M426.5 498.1L427.0 502.2M571.2 350.5L569.2 352.4M557.5 348.0L562.8 351.9M553.0 352.7L561.4 354.5M561.4 354.5L562.8 351.9M562.8 351.9L564.4 350.9M572.8 395.5L572.2 390.8M572.2 390.8L573.1 389.0M573.1 389.0L579.3 389.5M574.2 375.4L576.3 374.3M573.1 389.0L572.9 388.4M572.9 388.4L578.0 383.1M570.5 384.8L572.9 388.4M482.9 472.9L488.5 475.5M491.2 465.1L491.9 475.4M488.5 475.5L491.9 475.4M479.8 482.9L483.7 486.9M488.5 475.5L483.7 486.9M484.9 492.5L483.4 488.2M484.9 492.5L491.5 494.9M483.4 488.2L483.9 487.2M491.9 494.2L491.1 486.8M491.1 486.8L483.9 487.2M505.2 462.7L500.0 465.9M505.2 462.7L512.0 469.9M500.0 465.9L500.6 473.3M500.6 473.3L511.2 473.3M512.0 469.9L511.2 473.3M507.2 458.2L505.2 462.7M496.8 463.7L500.0 465.9M514.7 466.9L512.0 469.9M511.4 473.6L511.2 473.3M499.5 488.0L506.6 483.5M499.5 488.0L495.4 484.7M506.6 483.5L499.5 474.6M495.4 484.7L495.5 477.0M499.5 474.6L495.5 477.0M509.6 483.4L506.6 483.5M500.5 491.8L499.5 488.0M491.1 486.8L495.4 484.7M500.6 473.3L499.5 474.6M491.9 475.4L495.5 477.0M483.7 486.9L483.9 487.2M563.5 384.5L566.8 384.6M563.5 384.5L559.9 388.4M566.8 384.6L564.9 391.3M559.9 388.4L564.8 391.4M564.8 391.4L564.9 391.3M558.9 381.3L563.5 384.5M567.6 384.1L566.8 384.6M555.8 388.1L559.9 388.4M572.2 390.8L564.9 391.3M564.6 392.9L564.8 391.4M540.6 382.6L537.6 380.2M542.2 374.5L539.2 375.2M537.6 380.2L539.2 375.2M517.8 373.8L523.2 370.6M520.8 365.7L523.3 370.4M523.2 370.6L523.3 370.4M537.0 347.0L539.5 344.0M537.0 347.0L539.4 350.5M542.7 349.0L542.7 345.2M542.7 349.0L539.4 350.5M542.7 345.2L539.5 344.0M534.1 346.1L537.0 347.0M538.2 340.7L539.5 344.0M538.8 352.0L539.4 350.5M549.4 351.7L542.7 349.0M546.8 340.8L542.7 345.2M477.6 394.3L480.2 389.4M484.5 395.7L482.7 390.4M482.7 390.4L480.2 389.4M473.2 392.6L478.7 385.4M480.2 389.4L478.7 385.4M477.6 384.2L478.5 384.6M478.7 385.4L478.5 384.6M483.2 378.3L479.2 384.3M478.5 384.6L479.2 384.3M510.0 427.5L509.7 421.0M519.6 420.0L512.7 416.6M509.7 421.0L512.7 416.6M521.3 409.2L519.9 408.7M512.7 416.6L512.3 414.9M512.3 414.9L514.4 410.8M514.4 410.8L519.9 408.7M526.3 398.6L520.8 397.6M520.8 397.6L519.2 407.0M519.2 407.0L519.9 408.7M482.7 390.4L486.6 389.0M479.2 384.3L487.1 385.0M486.6 389.0L487.1 385.0M488.7 378.5L489.5 383.0M487.1 385.0L489.5 383.0M496.6 376.3L495.3 384.4M495.3 384.4L490.8 383.7M489.5 383.0L490.8 383.7M514.7 378.0L513.5 383.7M508.0 378.9L509.6 382.6M509.6 382.6L513.5 383.7M531.4 388.8L524.0 388.3M527.8 396.9L523.9 388.4M524.0 388.3L523.9 388.4M520.8 397.6L519.2 396.8M519.2 396.8L513.6 397.8M519.2 407.0L513.8 401.4M513.6 397.8L513.8 401.4M514.4 410.8L510.6 406.3M513.8 401.4L510.6 406.3M500.7 408.1L504.5 408.6M504.5 408.6L505.9 406.5M495.7 404.4L498.4 400.1M505.9 406.5L504.9 400.9M498.4 400.1L504.9 400.9M501.7 378.8L501.5 381.6M495.3 384.4L495.9 384.8M501.5 381.6L495.9 384.8M476.0 522.3L476.9 521.6M476.9 521.6L482.9 522.4M394.6 531.2L400.3 536.6M401.1 527.5L403.6 535.0M400.3 536.6L403.6 535.0M408.8 526.9L406.6 535.1M408.8 526.9L406.0 522.5M403.6 535.0L406.6 535.1M389.2 535.2L391.0 541.1M400.3 536.6L398.7 539.5M398.7 539.5L391.0 541.1M389.5 543.5L391.0 541.1M405.8 511.5L415.3 511.7M406.0 520.0L413.0 518.8M415.3 511.7L416.0 515.0M413.0 518.8L416.0 515.0M434.5 527.1L436.0 524.1M434.5 527.1L428.7 529.1M427.7 521.9L428.2 529.0M427.7 521.9L430.8 521.5M430.8 521.5L436.0 524.1M428.7 529.1L428.2 529.0M408.8 526.9L415.2 527.3M413.0 518.8L415.7 523.1M415.2 527.3L415.7 523.1M419.9 516.3L416.0 515.0M419.9 516.3L421.7 521.6M415.7 523.1L421.7 521.6M442.7 529.1L446.9 527.4M442.7 529.1L438.6 523.6M446.9 527.4L446.8 523.5M446.8 523.5L443.2 520.7M443.2 520.7L438.6 523.6M443.9 536.7L441.5 532.0M443.9 536.7L450.5 533.6M441.5 532.0L442.7 529.1M450.5 533.6L451.6 530.9M451.6 530.9L446.9 527.4M434.5 527.1L436.9 531.7M436.9 531.7L441.5 532.0M436.8 523.6L436.0 524.1M436.8 523.6L438.6 523.6M478.5 510.6L475.0 510.3M478.5 510.6L479.8 515.4M479.8 515.4L477.2 519.1M477.2 519.1L472.3 514.2M475.0 510.3L473.8 511.2M472.3 514.2L473.8 511.2M479.4 510.0L478.5 510.6M476.9 521.6L477.2 519.1M469.2 522.0L469.6 516.4M469.6 516.4L472.3 514.2M466.8 514.6L469.6 516.4M466.8 514.6L466.3 509.8M466.3 509.8L468.0 509.2M468.0 509.2L473.8 511.2M487.5 502.1L484.4 501.1M479.4 510.0L481.7 503.5M481.7 503.5L484.4 501.1M484.9 492.5L484.2 500.7M484.4 501.1L484.2 500.7M479.7 490.4L483.4 488.2M479.7 490.4L478.2 497.2M484.2 500.7L478.2 497.2M469.4 484.3L471.1 485.1M469.4 484.3L463.9 486.6M463.9 486.6L464.9 492.2M471.2 485.3L469.6 491.3M471.2 485.3L471.1 485.1M464.9 492.2L469.6 491.3M473.7 483.3L471.1 485.1M467.0 479.5L469.4 484.3M459.9 485.0L463.9 486.6M476.7 490.5L471.2 485.3M476.7 490.5L472.4 494.4M472.4 494.4L469.6 491.3M479.7 490.4L476.7 490.5M430.6 491.2L431.2 496.1M430.6 491.2L430.6 491.0M434.2 497.8L438.3 497.4M430.6 491.0L437.9 489.6M438.3 497.4L440.3 492.4M437.9 489.6L440.3 492.4M456.4 486.4L456.4 486.7M456.4 486.7L458.3 490.5M464.9 492.2L463.7 493.8M458.3 490.5L463.7 493.8M472.5 496.5L463.4 497.0M472.5 496.5L472.4 494.4M463.7 493.8L463.4 497.0M458.3 490.5L456.3 497.6M463.0 497.7L463.4 497.0M463.0 497.7L459.1 498.3M459.1 498.3L456.3 497.6M456.4 486.7L451.0 493.4M450.9 493.5L451.0 493.4M450.9 493.5L452.0 498.1M456.3 497.6L452.0 498.1M465.0 523.6L462.1 515.9M466.8 514.6L462.7 515.3M462.7 515.3L462.1 515.9M466.4 542.3L463.5 541.4M465.1 530.0L463.1 531.6M463.1 531.6L463.5 541.4M457.6 543.4L460.9 541.5M457.6 543.4L455.9 543.4M455.9 543.4L452.6 540.5M452.6 540.5L451.9 536.1M451.9 536.1L458.5 536.9M458.5 536.9L460.9 541.5M459.5 554.0L464.1 554.1M459.5 554.0L457.6 543.4M463.5 541.4L460.9 541.5M451.9 530.8L455.1 523.4M451.9 530.8L458.0 532.0M458.0 532.0L458.4 531.7M458.4 531.7L459.5 523.8M455.1 523.4L457.0 522.8M457.0 522.8L459.5 523.8M451.6 530.9L451.9 530.8M451.2 521.3L455.1 523.4M451.2 521.3L446.8 523.5M450.5 533.6L451.9 536.1M458.5 536.9L458.0 532.0M463.1 531.6L458.4 531.7M464.7 523.8L459.5 523.8M457.5 516.4L462.1 515.9M457.5 516.4L457.0 522.8M418.8 466.5L418.5 473.2M418.8 466.5L414.2 467.4M412.9 469.1L417.6 473.2M412.9 469.1L414.2 467.4M417.6 473.2L418.5 473.2M411.4 460.3L414.2 467.4M413.9 459.3L419.4 465.9M419.4 465.9L418.8 466.5M410.6 470.1L412.9 469.1M410.9 477.1L417.6 473.2M418.1 480.3L420.7 474.6M420.7 474.6L418.5 473.2M442.3 460.7L438.2 459.4M442.3 460.7L448.0 458.1M438.2 459.4L444.2 452.6M448.0 458.1L446.6 453.4M444.2 452.6L446.2 452.9M446.2 452.9L446.6 453.4M449.8 459.6L448.0 458.1M443.5 464.3L442.3 460.7M457.0 452.1L446.6 453.4M450.0 444.3L446.2 452.9M441.7 446.7L441.8 451.0M441.8 451.0L444.2 452.6M425.9 453.2L427.9 454.2M420.9 458.6L424.0 461.4M427.9 454.2L428.0 456.1M428.0 456.1L424.0 461.4M431.4 469.7L429.0 473.3M431.4 469.7L428.5 465.4M429.0 473.3L424.6 470.6M424.6 470.6L425.1 465.1M428.5 465.4L425.1 465.1M419.4 465.9L424.4 464.5M424.0 461.4L424.4 464.5M420.7 474.6L421.8 474.5M424.6 470.6L421.8 474.5M424.4 464.5L425.1 465.1M429.8 447.9L428.6 453.6M429.8 447.9L435.2 448.4M428.6 453.6L435.6 453.0M435.2 448.4L436.4 451.2M436.4 451.2L435.6 453.0M427.5 444.9L429.8 447.9M427.9 454.2L428.6 453.6M436.4 444.9L435.2 448.4M441.8 451.0L436.4 451.2M436.7 471.5L436.8 471.9M436.7 471.5L438.0 467.1M438.0 467.1L442.1 466.7M446.3 470.9L441.7 473.0M436.8 471.9L441.7 473.0M430.8 521.5L432.7 515.6M436.8 523.6L435.5 516.2M432.7 515.6L434.7 515.8M435.5 516.2L434.7 515.8M451.2 521.3L450.3 516.4M457.5 516.4L457.2 515.9M450.3 516.4L457.2 515.9M266.5 470.7L270.8 462.6M266.5 470.7L261.0 466.5M270.8 462.6L262.6 459.2M261.0 466.5L261.1 461.0M261.1 461.0L262.6 459.2M257.1 467.8L261.0 466.5M262.9 478.8L266.8 471.7M266.8 471.7L266.5 470.7M263.0 454.2L262.6 459.2M271.7 462.1L270.8 462.6M252.4 459.4L261.1 461.0M277.4 471.7L278.6 475.1M277.4 471.7L276.4 470.8M276.4 470.8L267.4 471.8M267.4 471.8L276.2 479.8M276.2 479.8L278.6 475.1M286.1 475.5L278.6 475.1M284.6 467.9L277.4 471.7M276.5 462.0L276.4 470.8M266.8 471.7L267.4 471.8M276.0 482.3L276.2 479.8M384.0 389.8L385.0 394.9M390.6 390.5L389.9 393.6M385.0 394.9L389.9 393.6M379.7 389.6L378.1 393.1M385.0 394.9L383.0 397.6M378.1 393.1L383.0 397.6M383.7 400.0L383.2 399.1M383.7 400.0L391.9 398.0M389.9 393.6L391.9 398.0M383.0 397.6L383.2 399.1M384.7 406.0L383.7 405.2M384.7 406.0L384.2 411.4M383.7 405.2L379.9 406.2M379.9 406.2L376.8 413.2M384.2 411.4L378.4 415.4M378.4 415.4L376.8 413.2M388.2 406.5L393.6 399.2M388.2 406.5L384.7 406.0M393.6 399.2L391.9 398.0M383.7 400.0L383.7 405.2M387.6 415.9L384.2 411.4M391.9 409.5L388.2 406.5M379.1 418.8L378.4 415.4M371.9 411.9L376.8 413.2M424.4 382.8L425.5 378.2M424.4 382.8L430.1 383.4M429.4 378.6L431.1 381.8M429.4 378.6L427.0 377.8M427.0 377.8L425.5 378.2M430.1 383.4L431.1 381.8M417.0 382.5L418.3 383.5M417.0 382.5L417.5 379.4M421.2 376.0L425.5 378.2M423.4 383.9L424.4 382.8M429.8 388.4L430.1 383.4M432.2 375.9L429.4 378.6M435.8 381.8L431.1 381.8M427.9 370.8L427.0 377.8M411.2 408.7L412.0 406.9M419.2 409.5L417.1 403.9M417.1 403.9L412.0 406.9M421.1 398.7L417.2 402.5M417.1 403.9L417.2 402.5M418.9 386.7L414.5 392.3M416.6 393.9L415.8 393.5M414.5 392.3L415.8 393.5M417.2 402.5L410.6 399.9M415.8 393.5L410.6 399.9M236.2 398.4L239.3 393.3M236.2 398.4L235.1 402.0M239.9 403.4L237.0 404.0M239.9 403.4L242.2 394.9M235.1 402.0L236.5 403.9M242.2 394.9L242.0 394.1M242.0 394.1L241.3 393.3M241.3 393.3L239.3 393.3M236.5 403.9L237.0 404.0M231.0 391.8L236.2 398.4M233.8 391.1L239.3 393.3M226.9 397.2L235.1 402.0M246.8 406.1L239.9 403.4M238.3 413.1L237.0 404.0M248.8 400.9L242.2 394.9M228.6 410.1L236.5 403.9M251.4 392.6L242.0 394.1M244.0 384.1L241.3 393.3M430.6 491.2L424.2 491.4M426.5 498.1L424.8 497.3M424.8 497.3L424.2 491.4M415.3 511.7L416.5 508.0M416.5 508.0L425.0 509.3M419.9 516.3L423.0 514.7M425.0 509.3L423.0 514.7M426.6 521.0L422.1 521.8M426.6 521.0L427.1 517.5M422.1 521.8L421.7 521.6M423.0 514.7L427.1 517.5M426.6 521.0L427.7 521.9M432.7 515.6L430.7 514.6M427.1 517.5L430.7 514.6M570.0 357.6L562.0 358.7M569.6 364.3L563.7 363.8M563.7 363.8L561.3 360.0M561.3 360.0L562.0 358.7M562.3 368.5L563.7 363.8M558.3 360.8L561.3 360.0M582.7 371.6L577.5 371.1M578.1 365.8L576.8 368.7M578.1 365.8L582.1 366.0M582.1 366.0L583.0 367.0M576.8 368.7L577.5 371.1M576.3 374.3L577.5 371.1M576.1 360.8L578.1 365.8M585.8 358.9L582.1 366.0M530.2 377.9L532.5 381.7M530.2 377.9L528.8 377.3M528.8 377.3L525.8 376.7M532.2 382.5L525.1 384.3M532.2 382.5L532.5 381.7M523.5 381.4L525.1 384.3M523.5 381.4L525.1 377.4M525.1 377.4L525.8 376.7M537.6 380.2L532.5 381.7M539.2 375.2L535.5 371.7M535.5 371.7L530.2 377.9M533.0 387.8L532.2 382.5M524.0 388.3L525.1 384.3M518.9 377.5L525.1 377.4M518.9 377.5L519.5 381.8M519.5 381.8L523.5 381.4M518.9 377.5L517.5 376.0M523.2 370.6L525.8 376.7M530.4 368.9L529.6 368.4M530.4 368.9L535.2 370.5M529.6 367.2L529.6 368.4M529.6 367.2L533.7 362.2M535.9 363.8L533.7 362.2M535.9 363.8L535.6 369.8M535.6 369.8L535.2 370.5M523.3 370.4L529.6 368.4M528.8 377.3L530.4 368.9M535.5 371.7L535.2 370.5M526.8 361.6L529.6 367.2M532.5 359.5L533.7 362.2M540.4 362.4L535.9 363.8M541.7 367.4L535.6 369.8M505.0 410.9L507.0 413.2M505.0 410.9L498.8 416.8M507.0 413.2L504.1 419.0M504.1 419.0L501.8 419.7M501.8 419.7L499.4 418.9M499.4 418.9L498.8 416.8M504.5 408.6L505.0 410.9M512.3 414.9L507.0 413.2M505.9 406.5L510.6 406.3M496.5 414.5L498.8 416.8M509.7 421.0L504.1 419.0M504.5 427.6L501.8 419.7M495.2 423.6L499.4 418.9M513.6 397.8L511.4 396.4M504.9 400.9L507.1 398.2M507.1 398.2L510.9 396.3M511.4 396.4L510.9 396.3M502.3 389.6L504.5 385.2M502.3 389.6L508.7 392.2M508.7 392.2L509.3 390.2M509.3 390.2L506.4 384.7M506.4 384.7L504.5 385.2M509.6 382.6L506.4 384.7M501.5 381.6L504.5 385.2M490.8 383.7L491.5 391.5M495.9 384.8L497.0 387.8M497.0 387.8L491.5 391.5M486.6 389.0L490.3 393.4M491.5 391.5L490.3 393.4M490.3 394.6L490.3 394.5M490.3 394.5L490.3 393.4M398.7 539.5L400.3 543.7M394.7 553.2L400.3 543.7M428.2 529.0L426.9 529.4M422.1 521.8L422.1 527.6M426.9 529.4L422.1 527.6M472.6 496.8L470.9 502.8M472.6 496.8L476.3 497.5M476.3 497.5L476.6 502.9M476.6 502.9L473.1 504.4M470.9 502.8L473.1 504.4M472.5 496.5L472.6 496.8M465.1 502.2L469.7 503.1M465.1 502.2L463.0 497.7M469.7 503.1L470.9 502.8M478.2 497.2L476.3 497.5M481.7 503.5L476.6 502.9M475.0 510.3L473.1 504.4M468.0 509.2L469.7 503.1M434.6 483.5L429.9 485.8M434.6 483.5L435.2 478.3M435.2 478.3L434.8 477.7M434.8 477.7L429.7 477.1M429.7 477.1L426.7 478.7M426.7 478.7L425.4 483.3M429.9 485.8L425.5 483.6M425.5 483.6L425.4 483.3M430.6 491.0L429.9 485.8M437.5 486.4L437.9 489.6M437.5 486.4L434.6 483.5M431.4 469.7L436.7 471.5M429.0 473.3L429.7 477.1M436.8 471.9L434.8 477.7M421.8 474.5L426.7 478.7M419.1 481.7L425.4 483.3M424.2 491.4L422.3 489.7M422.3 489.7L425.5 483.6M445.7 486.2L442.0 483.6M445.7 486.2L447.9 485.2M449.2 484.1L447.9 485.2M449.2 484.1L445.2 478.6M442.0 483.6L441.8 479.6M445.2 478.6L442.7 478.9M441.8 479.6L442.7 478.9M437.5 486.4L442.0 483.6M443.6 491.1L445.7 486.2M443.6 491.1L442.2 491.9M442.2 491.9L440.3 492.4M450.9 493.5L443.6 491.1M451.0 493.4L447.9 485.2M453.0 483.3L449.2 484.1M448.0 475.5L445.2 478.6M435.2 478.3L441.8 479.6M441.7 473.0L442.7 478.9M458.6 503.9L454.7 504.2M458.6 503.9L462.0 507.3M454.7 504.2L457.0 510.1M457.0 510.1L461.6 508.3M461.6 508.3L461.9 507.9M461.9 507.9L462.0 507.3M465.1 502.2L462.0 507.3M459.1 498.3L458.6 503.9M462.7 515.3L461.6 508.3M456.6 510.6L457.2 515.9M456.6 510.6L457.0 510.1M466.3 509.8L461.9 507.9M451.5 498.8L451.8 502.4M451.5 498.8L447.5 499.0M447.5 499.0L445.5 499.8M445.5 499.8L444.4 504.1M451.8 502.4L449.0 507.2M449.0 507.2L444.4 504.1M452.0 498.1L451.5 498.8M454.7 504.2L451.8 502.4M442.2 491.9L447.5 499.0M438.9 498.4L438.3 497.4M438.9 498.4L445.5 499.8M438.9 498.4L439.3 503.2M439.3 503.2L441.1 504.9M441.1 504.9L444.4 504.1M448.8 510.2L456.6 510.6M448.8 510.2L449.0 507.2M433.6 459.8L430.9 464.0M433.6 459.8L436.6 458.7M438.1 459.4L438.0 467.1M438.1 459.4L436.6 458.7M438.0 467.1L430.9 464.0M428.0 456.1L433.6 459.8M428.5 465.4L430.9 464.0M435.6 453.0L436.6 458.7M438.0 467.1L438.0 467.1M438.2 459.4L438.1 459.4M435.4 510.2L436.4 509.1M435.4 510.2L429.3 510.7M436.4 509.1L435.1 506.0M435.1 506.0L432.5 505.3M432.5 505.3L428.9 510.1M429.3 510.7L428.9 510.1M434.7 515.8L435.4 510.2M430.7 514.6L429.3 510.7M431.9 503.8L432.5 505.3M439.3 503.2L435.1 506.0M427.0 502.2L425.1 504.4M425.1 504.4L425.1 509.3M425.1 509.3L428.9 510.1M425.1 509.3L425.0 509.3M449.0 515.0L448.5 510.6M449.0 515.0L443.4 519.1M448.5 510.6L441.6 510.7M443.4 519.1L440.0 514.5M440.0 514.5L441.4 510.9M441.6 510.7L441.4 510.9M448.8 510.2L448.5 510.6M450.3 516.4L449.0 515.0M443.2 520.7L443.4 519.1M441.1 504.9L441.6 510.7M435.5 516.2L440.0 514.5M436.4 509.1L441.4 510.9M372.2 394.3L374.2 394.7M372.2 394.3L368.9 400.0M374.2 394.7L376.1 399.8M368.9 400.0L372.4 404.7M376.1 399.8L374.9 404.0M372.4 404.7L374.9 404.0M371.3 393.1L372.2 394.3M378.1 393.1L374.2 394.7M362.5 400.4L368.9 400.0M383.2 399.1L376.1 399.8M370.9 407.3L372.4 404.7M379.9 406.2L374.9 404.0M394.5 390.0L396.4 399.1M393.6 399.2L396.2 399.4M396.4 399.1L396.2 399.4M417.2 486.6L418.6 490.2M422.3 489.7L418.6 490.2M418.6 490.2L418.6 490.2M412.1 491.3L412.4 491.6M418.6 490.2L412.4 491.6M515.3 388.9L513.6 385.1M515.3 388.9L520.1 390.7M520.1 390.7L522.3 388.7M522.3 388.7L517.9 383.4M517.9 383.4L513.6 383.8M513.6 383.8L513.6 385.1M511.4 396.4L515.3 388.9M510.9 396.3L508.7 392.2M509.3 390.2L513.6 385.1M519.2 396.8L520.1 390.7M523.9 388.4L522.3 388.7M519.5 381.8L517.9 383.4M513.5 383.7L513.6 383.8M502.1 389.7L499.4 389.6M502.1 389.7L502.6 394.5M499.4 389.6L496.2 395.9M502.6 394.5L497.9 398.2M497.9 398.2L496.2 395.9M502.3 389.6L502.1 389.7M497.0 387.8L499.4 389.6M507.1 398.2L502.6 394.5M490.3 394.5L496.2 395.9M498.4 400.1L497.9 398.2M417.0 529.7L417.4 529.8M417.0 529.7L410.0 536.9M417.4 529.8L419.9 534.3M410.0 536.9L419.7 535.4M419.9 534.3L419.7 535.4M415.2 527.3L417.0 529.7M422.1 527.6L417.4 529.8M406.6 535.1L409.7 537.1M409.7 537.1L410.0 536.9M426.9 529.4L424.9 534.0M424.9 534.0L419.9 534.3M419.8 541.2L419.7 535.4M419.8 541.2L410.2 538.3M410.2 538.3L409.7 537.1M427.7 540.8L423.7 544.7M427.7 540.8L424.9 534.0M419.8 541.2L422.8 544.8M422.8 544.8L423.7 544.7M432.8 536.5L431.8 538.4M432.8 536.5L434.4 535.6M431.8 538.4L443.2 541.1M434.4 535.6L443.2 538.8M443.2 538.8L443.2 541.1M428.7 529.1L432.8 536.5M427.7 540.8L430.7 539.9M430.7 539.9L431.8 538.4M436.9 531.7L434.4 535.6M430.7 539.9L436.9 545.6M443.4 542.4L443.1 543.7M443.4 542.4L443.2 541.1M443.1 543.7L436.9 545.6M443.9 536.7L443.2 538.8M452.6 540.5L443.4 542.4M406.1 385.4L406.2 387.4M406.1 385.4L408.6 382.4M406.2 387.4L412.8 389.8M408.6 382.4L409.8 382.6M409.8 382.6L413.4 383.8M413.4 383.8L412.8 389.8M400.3 384.9L406.1 385.4M405.9 377.8L408.6 382.4M413.0 375.6L409.8 382.6M417.0 382.5L413.4 383.8M414.5 392.3L413.0 391.4M413.0 391.4L412.8 389.8M408.7 393.3L405.6 390.2M408.7 393.3L407.3 397.9M407.3 397.9L400.7 394.7M405.6 390.2L400.9 391.9M400.9 391.9L400.7 394.7M413.0 391.4L408.7 393.3M406.2 387.4L405.6 390.2M399.2 389.9L400.9 391.9M396.4 399.1L400.7 394.7M398.2 404.5L397.5 401.3M398.2 404.5L404.8 406.3M397.5 401.3L407.8 399.6M404.8 406.3L408.1 400.5M408.1 400.5L408.2 400.0M408.2 400.0L407.8 399.6M397.1 406.6L398.2 404.5M396.2 399.4L397.5 401.3M405.3 407.7L404.8 406.3M407.3 397.9L407.8 399.6M412.0 406.9L408.1 400.5M410.6 399.9L408.2 400.0M404.2 507.9L409.3 503.3M406.2 497.3L406.6 497.5M409.3 503.3L406.6 497.5M412.4 491.6L411.8 494.5M406.6 497.5L411.8 494.5M420.5 498.4L418.6 497.3M420.5 498.4L420.7 502.4M418.6 497.3L415.4 498.4M415.4 498.4L412.5 503.5M420.7 502.4L416.2 507.2M416.2 507.2L412.5 503.5M424.8 497.3L420.5 498.4M418.6 490.2L418.6 497.3M425.1 504.4L420.7 502.4M411.8 494.5L415.4 498.4M409.3 503.3L412.5 503.5M416.5 508.0L416.2 507.2M419.4 548.1L418.7 552.0M419.4 548.1L409.0 546.1M409.0 546.1L407.9 547.2M407.9 547.2L406.5 553.2M410.2 538.3L409.0 546.1M422.8 544.8L419.4 548.1M400.3 543.7L407.9 547.2M399.3 556.2L406.5 553.2M436.9 545.6L433.6 552.2M451.3 563.7L447.9 563.1M451.3 563.7L454.3 561.8M447.9 563.1L443.1 556.0M454.3 561.8L456.4 555.6M456.4 555.6L449.4 549.8M443.1 556.0L446.8 549.8M449.4 549.8L446.8 549.8M453.5 572.9L451.3 563.7M441.9 568.2L447.9 563.1M463.2 565.5L454.3 561.8M438.6 556.3L443.1 556.0M459.5 554.0L456.4 555.6M455.9 543.4L449.4 549.8M443.1 543.7L446.8 549.8" fill="none" stroke="#000" stroke-width="0.6"/></g>
<path d="M169.3 156.3 L231.4 167.1 M156.3 222.5 L189.2 228.6 L192.1 231.4 L198.4 234.8 L206.9 234.8 L213.2 237.9 L217.7 242.1 L221.4 245.6 M143.1 289.9 L232.7 304.8 M129.9 357.2 L235.8 374.4 M170.6 436.6 L173.0 440.5 L177.5 441.2 L179.6 437.4 L183.9 437.6 L186.4 439.5 L189.2 440.7 L192.1 441.8 L194.5 443.8 L198.4 442.6 L202.5 442.2 L206.3 442.4 L210.0 443.1 L215.9 442.2 L219.8 443.6 L221.0 447.6 L224.9 449.1 L228.6 451.1 M228.6 451.1 L233.7 453.1 L236.7 454.2 L235.2 466.3 M235.2 466.3 L232.3 489.6 L234.6 493.3 L235.6 501.6 L239.6 509.5 L239.4 514.8 L235.1 522.4 L233.7 529.2 L233.6 535.1 L229.8 543.2 M235.2 466.3 L290.1 472.6 M234.4 385.8 L234.6 411.4 L228.6 451.1 M234.4 385.8 L242.2 326.8 L238.6 321.7 L237.6 315.8 L235.9 308.7 L232.7 304.8 L231.0 298.8 L226.6 290.6 M234.4 385.8 L316.1 394.3 L314.8 400.0 L311.2 405.4 L323.5 406.4 M226.6 290.6 L296.3 298.2 L299.1 302.2 L301.2 304.0 M224.8 222.8 L311.2 233.2 M224.8 222.8 L231.0 181.9 L227.4 178.5 L225.7 173.6 L230.3 170.1 L231.4 167.1 M231.4 167.1 L230.9 163.8 L234.9 161.0 L232.2 157.6 L231.5 153.9 L230.4 150.4 L230.5 146.9 L231.2 143.5 L231.2 140.3 L231.1 137.1 L231.1 133.9 L232.3 130.8 L231.5 127.2 L231.8 123.6 L230.9 120.0 L230.8 116.8 L231.9 113.6 L231.0 110.4 L231.3 107.2 M224.8 222.8 L221.7 226.9 L223.5 231.8 L221.0 237.2 L221.2 241.4 L221.4 245.6 M221.4 245.6 L220.8 249.4 L222.9 252.6 L223.0 256.6 L224.5 260.4 L224.6 264.4 L225.3 267.5 L225.2 270.8 L226.2 273.9 L224.5 277.0 L226.5 280.0 L226.2 283.1 L226.6 286.8 L226.6 290.6 M318.8 256.6 L366.6 260.4 M370.3 277.4 L367.5 332.4 L366.0 338.0 L367.4 346.1 L362.6 352.7 L358.7 358.2 L356.7 367.3 M416.7 280.4 L415.3 339.8 M382.4 277.9 L416.7 279.0 L416.7 280.4 M416.7 280.4 L439.9 280.0 M489.6 266.0 L491.2 325.5 M502.5 266.8 L502.7 273.0 L577.6 268.6 M491.2 325.5 L574.2 321.1 L577.4 318.4 L580.6 318.8 M577.6 268.6 L578.8 272.0 L582.2 273.9 L583.5 277.2 L587.0 279.5 L590.1 282.2 L587.5 284.9 L586.2 288.5 L583.3 291.7 L582.5 295.4 L582.8 299.1 L585.2 302.4 L587.7 305.6 L589.5 308.1 L592.1 309.8 L590.8 314.7 L586.0 316.0 L582.8 316.6 L580.6 318.8 L578.7 323.5 M590.1 282.2 L604.4 289.1 M574.2 321.1 L578.1 349.7 L589.7 349.0 M575.4 361.6 L579.9 360.8 L583.3 359.0 L587.1 358.8 M509.3 324.9 L509.7 336.8 M509.7 336.8 L510.9 333.6 L514.3 332.7 L516.4 330.3 L519.6 329.0 L522.2 326.7 L527.7 328.0 L532.3 324.3 L535.4 324.9 L538.2 326.3 L540.4 329.1 L540.7 332.6 L545.8 334.6 L547.7 337.0 L549.6 339.4 L553.5 341.4 M540.7 332.6 L539.2 336.8 L536.0 334.6 L533.5 331.3 L529.6 330.2 L528.0 333.5 L527.4 337.1 L526.6 340.6 L523.1 342.7 L521.1 346.1 L519.2 348.6 L517.7 351.3 L515.0 353.0 L511.3 351.5 L507.4 351.0 L505.7 353.6 L505.1 356.7 L504.3 359.7 L502.4 362.2 L500.7 365.3 L501.5 369.5 L497.4 371.5 L496.5 375.0 L492.0 376.9 L489.1 378.0 L486.6 379.8 L483.7 382.4 L479.7 382.2 L475.6 382.8 L471.6 383.5 L469.1 381.4 L468.5 378.0 L466.2 375.8 M466.2 375.8 L462.3 375.5 L460.2 372.2 L458.1 369.7 L457.5 366.5 L456.7 363.3 L454.7 360.8 L454.9 355.7 M490.6 304.5 L488.5 310.0 L487.0 313.6 L487.5 317.6 L488.1 322.4 L485.0 326.1 L482.5 329.9 L479.4 333.1 L474.9 332.9 L473.0 336.1 L471.2 338.5 L469.8 341.2 L465.3 343.5 L462.9 346.1 L461.8 351.6 L460.0 354.0 L457.4 355.7 L454.9 355.7 L453.5 352.6 L450.2 351.6 L447.6 348.7 L442.2 351.2 L438.0 351.8 L434.0 350.4 L430.2 348.4 L426.2 346.9 L423.6 344.5 L422.7 341.1 L420.8 339.9 L415.3 339.8 L414.7 344.4 L411.9 347.1 L408.4 346.2 L405.1 347.8 L403.8 352.1 L400.0 356.6 L398.0 358.6 L396.7 361.5 L395.3 364.4 L391.7 364.3 L388.2 360.8 L386.6 363.4 L384.4 365.7 L379.1 364.5 L377.1 367.9 L373.3 368.8 L371.7 365.7 L368.2 364.9 L365.2 363.9 L362.1 363.8 L359.2 365.1 L356.7 367.3 L355.2 370.5 L355.1 374.1 L351.5 374.0 L348.6 376.0 L348.1 379.4 L348.2 382.8 L345.4 382.9 L342.1 381.9 L339.2 380.0 L335.6 384.3 M435.0 397.3 L383.3 394.9 L354.7 392.8 L354.5 397.0 L329.5 395.3 M435.0 397.3 L471.7 397.4 L578.4 393.5 M435.0 397.3 L437.7 395.5 L440.6 394.4 L443.8 393.9 L447.4 392.6 L449.3 389.4 L453.0 385.9 L455.9 382.5 L460.3 381.3 L462.9 378.1 L466.2 375.8 M471.7 397.4 L470.5 402.9 L468.0 406.0 L465.1 408.7 L461.6 409.3 L458.2 409.8 L454.9 411.1 L452.0 413.3 L448.4 413.4 L445.6 416.3 L442.7 420.0 L438.2 420.9 L435.0 422.2 L431.5 422.4 L428.8 424.7 L425.5 426.4 L423.1 429.2 L422.7 433.8 M445.4 434.0 L422.7 433.8 L310.6 428.3 M445.4 434.0 L451.2 432.2 L459.6 429.4 L484.2 430.2 L484.2 432.5 L486.3 431.3 L489.2 437.7 L510.1 437.5 L532.4 458.4 M445.4 434.0 L443.0 437.3 L440.9 440.8 L445.6 444.3 L449.3 446.1 L451.0 449.1 L452.2 452.3 L453.9 455.3 L456.0 458.1 L458.4 460.2 L460.0 463.1 L462.7 464.9 L465.6 466.4 L467.5 469.0 L469.9 472.7 L472.4 476.3 L476.3 479.7 L477.1 482.7 L477.2 485.9 L478.4 488.8 L479.9 491.6 L479.8 495.4 L483.4 496.8 L484.1 500.2 L488.8 501.8 M398.5 433.7 L405.3 482.3 L408.6 490.9 L409.5 495.5 L407.0 502.4 L407.1 511.6 L406.0 519.6 L407.8 525.5 L410.4 532.4 M410.4 532.4 L463.1 535.8 L466.3 540.6 L467.2 535.1 L467.2 530.9 L473.2 531.8 L478.5 532.6 M407.8 525.5 L356.4 523.5 L356.2 527.0 L360.0 531.8 L358.7 537.5 L357.1 540.2 M349.9 431.3 L351.7 433.5 L340.5 502.1 L339.7 536.9 M276.9 517.7 L314.4 520.9 L312.4 528.8 L314.9 534.8 L316.5 540.0 M288.1 202.0 L289.3 205.5 L292.5 207.1 L295.3 210.4 L299.5 211.3 L301.6 215.0 L305.4 216.3 L306.9 219.9 L309.1 222.6 L311.3 226.3 L311.8 229.8 L311.2 233.2 L310.5 236.2 L312.9 239.4 L310.7 242.4 L311.3 244.7 L310.8 248.4 L312.3 251.7 L314.9 255.0 L318.7 256.9 L321.5 259.9 L322.3 264.1 L324.9 267.2 L326.0 271.2 L323.1 275.6 L320.9 278.2 L317.9 279.8 L313.8 280.5 L309.7 281.3 L308.4 285.8 L308.9 289.0 L310.5 291.7 L307.6 294.9 L303.9 296.9 L303.5 301.1 L301.2 304.0 L299.4 307.9 L299.3 311.2 L300.6 314.3 L300.9 319.6 L302.7 322.1 L303.3 325.5 L306.5 327.0 L307.4 330.1 L308.4 333.2 L311.1 335.4 L313.4 339.5 L316.7 338.8 L319.9 340.0 L319.5 345.7 L318.4 348.6 L317.7 351.6 L315.7 354.1 L318.1 358.9 L320.5 362.0 L324.4 362.9 L325.7 366.0 L328.2 368.3 L329.8 371.3 L329.0 377.0 L330.9 381.7 L335.6 384.3 L335.1 388.3 L333.8 392.2 L329.5 395.3 L327.4 396.3 L325.8 400.8 L324.3 403.4 L323.5 406.4 L322.3 410.9 L320.7 414.0 L318.1 416.3 L317.9 419.5 L315.7 422.1 L315.2 425.3 L310.6 428.3 L310.3 431.8 L306.6 432.7 L306.6 436.6 L304.4 438.9 L302.5 442.2 L300.7 445.5 L297.6 447.9 L295.4 451.2 L294.1 454.6 L291.0 456.6 L291.5 460.2 L292.9 463.7 L291.2 466.4 L291.1 469.6 L290.1 472.6 L290.2 476.2 L290.9 479.6 L292.3 483.8 L294.0 488.0 L291.7 491.2 L289.5 494.5 L289.0 498.0 L286.4 500.2 L284.3 502.7 L282.6 505.5 L281.8 508.8 L280.1 511.7 L279.0 514.9 L276.9 517.7 M305.3 158.7 L301.0 159.2 L299.5 172.7 L291.8 175.8 L288.9 183.2 L292.1 188.6 L289.6 196.4 L288.1 202.0 M330.3 164.0 L334.6 169.7 L350.4 175.5 L355.0 178.6 L366.1 181.5 L369.4 194.9 L373.1 200.8 M634.1 193.3 L634.5 196.4 L633.6 199.6 L634.5 202.7 L633.1 206.0 L631.2 209.0 L628.8 211.7 L627.7 215.1 L626.4 219.1 L626.2 223.4 L624.0 226.6 L626.6 230.8 L624.1 234.0 L623.3 237.5 L624.1 240.9 L624.0 244.2 L623.1 247.3 M604.2 196.7 L604.5 200.6 L604.3 204.6 L605.5 208.4 L604.6 212.2 L604.8 216.1 L605.8 219.9 L605.9 222.9 L604.7 226.1 L606.3 229.0 L609.4 229.9 L609.9 232.9 L610.1 235.9 L609.5 239.1 L611.0 242.0 L608.8 245.3 L611.0 248.1 M611.0 248.1 L644.1 245.4 L644.8 244.4 L648.6 240.9 L651.6 240.5 M611.0 248.1 L608.8 264.5 M608.8 264.5 L637.6 261.9 L644.7 261.0 L645.0 263.8 L646.2 266.4 L648.7 268.4 L650.6 272.3 M637.6 261.9 L639.5 275.5 L638.5 277.9 M608.8 264.5 L610.9 281.5 L609.7 281.6 L607.1 286.5 L608.7 288.6 M652.6 235.7 L647.3 228.8 L646.3 219.7 L643.2 203.9 L640.0 185.8 M634.1 193.3 L635.2 188.7 L640.0 185.8 L643.8 186.4 L644.2 182.9 L649.5 174.1 L651.2 169.2 L649.6 163.6 L652.9 158.5 L652.7 151.5 L662.3 132.3 L665.5 135.6 L668.2 137.5 L676.9 132.4 L682.9 135.2 L686.0 137.7 L690.3 163.1 L691.4 166.5 L696.9 170.2 L698.5 176.9 L701.0 180.0 L705.6 182.7 L707.1 184.8 M634.1 193.3 L582.4 199.1 M500.4 100.2 L502.1 145.3 L504.3 155.7 L511.1 166.9 L516.2 173.2 L529.0 175.3 L538.9 180.5 L545.6 183.5 L550.8 188.9 L557.3 190.1 L565.5 190.8 L573.2 186.5 L582.7 184.7 L586.4 185.6 L585.8 191.8 L587.7 194.0 L582.4 199.1 M665.5 135.6 L674.7 128.3 L673.7 120.3 L685.4 117.2 L690.3 118.0 L696.0 114.6 M187.1 562.9 L190.4 562.1 L193.7 561.5 L195.5 558.2 L198.3 556.7 L200.9 554.6 L204.0 553.2 L207.0 551.9 L209.5 549.5 L211.1 545.1 L208.9 542.8 L207.7 539.9 L211.9 538.9 L213.2 542.4 L215.1 545.6 L218.2 544.8 L222.1 544.3 L226.1 545.2 L229.8 543.2 L233.4 542.4 L237.2 543.6 L240.8 542.4 L244.9 543.1 L248.6 544.9 L251.9 545.4 L254.7 547.0 L257.7 547.9 L260.2 550.1 L265.4 549.0 L268.8 544.7 L271.7 546.2 L270.3 548.9 L269.2 551.7 L272.6 553.0 L276.2 552.4 L280.2 552.8 L280.7 558.7 L283.9 561.4 L287.3 563.9 L290.6 564.8 L293.9 566.0 L297.4 564.8 L301.1 564.1 L304.7 563.0 L308.0 559.8 L310.9 560.8 L313.9 561.4 L315.9 564.9 L317.5 568.7 L322.6 567.9 L325.9 564.6 L322.9 563.0 L322.2 559.7 L317.2 558.2 L315.5 554.7 L312.6 552.0 L315.1 549.1 L318.9 549.0 L321.1 546.5 L322.3 543.4 L318.8 543.8 L315.2 544.1 L311.3 542.6 L316.5 540.0 L320.7 537.5 L325.8 536.3 L330.2 535.9 L333.2 537.6 L336.7 537.5 L339.7 536.9 L344.6 538.6 L345.7 536.8 L347.1 531.1 L349.1 530.5 L349.8 535.9 L351.6 539.9 L357.1 540.2 L360.3 539.7 L363.6 539.4 L367.5 538.3 L371.6 538.6 L377.6 538.8 L381.5 539.9 L385.5 540.3 L390.4 543.5 L394.3 546.4 L397.1 548.1 L399.2 550.7 L399.0 555.8 L403.1 555.9 L407.5 555.0 L413.2 553.3 L416.7 552.1 L420.2 551.1 L423.3 547.2 L427.3 546.6 L430.3 548.6 L433.3 550.6 L436.4 553.8 L439.3 557.1 L441.1 559.7 L443.3 562.1 L444.3 565.3 L446.3 569.2 L451.4 572.2 L452.2 575.3 L454.6 578.0 L453.4 581.5 L453.9 584.6 L455.2 587.6 L454.5 590.8 M498.5 590.1 L498.4 586.4 L496.3 583.2 L495.7 579.8 L491.6 578.4 L491.6 574.6 L489.9 571.8 L487.8 567.2 L486.4 563.8 L484.3 560.6 L484.3 556.7 L482.5 553.4 L481.4 548.8 L480.3 545.8 L478.4 543.0 L479.2 539.6 L478.6 536.1 L478.5 532.6 L478.6 529.2 L479.0 525.7 L480.0 522.2 L480.9 518.7 L480.7 515.5 L482.7 512.9 L484.2 510.2 L484.6 507.1 L487.2 504.9 L488.8 501.8 L492.2 497.8 L493.8 494.7 L496.9 493.0 L499.9 490.2 L503.6 488.2 L508.3 484.6 L511.0 481.6 L513.9 478.7 L516.4 475.9 L519.5 473.9 L522.2 471.6 L522.1 468.0 L525.8 463.3 L529.1 460.7 L532.2 457.9 L535.3 456.3 L538.8 456.4 L543.6 457.8 L544.3 452.0 L545.9 448.6 L548.7 446.0 L551.4 443.8 L555.4 443.2 L556.8 439.3 L559.9 438.4 L563.0 437.8 L566.1 436.9 L569.4 438.9 L567.7 433.3 L565.0 430.8 L561.8 429.1 L565.4 427.1 L569.0 425.2 L567.3 421.4 L563.1 421.0 L566.7 419.7 L570.5 419.3 L574.4 418.6 L577.8 416.5 L582.1 412.7 L581.1 407.1 L577.1 407.4 L573.4 407.1 L569.7 406.6 L565.9 407.0 L568.5 404.7 L572.6 405.8 L574.9 403.0 L578.3 399.3 L578.4 393.5 L577.1 390.2 L576.1 386.8 L575.4 385.0 L569.9 385.0 L569.7 382.7 L564.2 381.9 L566.8 380.1 L569.4 378.1 L565.7 377.2 L566.5 373.9 L568.9 371.3 L568.0 367.9 L568.4 364.4 L569.2 363.2 L566.2 360.8 L562.6 359.1 L560.2 356.8 L557.0 356.1 L554.0 354.5 L550.6 354.2 L553.1 350.5 L553.6 346.0 L553.5 341.4 L554.6 347.1 L553.2 352.9 L558.7 354.8 L561.4 357.1 L564.7 358.4 L567.7 360.1 L567.5 357.0 L565.8 354.3 L565.6 351.2 L564.1 348.3 L563.4 345.3 L564.0 342.2 L563.3 339.1 L562.6 333.9 L566.7 332.3 L569.3 328.8 L570.0 325.4 L571.1 328.7 L569.4 332.2 L568.1 335.8 L567.8 339.4 L566.8 342.8 L568.0 347.3 L569.0 350.9 L571.2 353.9 L575.1 358.2 L576.3 361.6 L574.3 364.9 L575.8 368.5 L575.3 372.0 L575.2 376.0 L575.0 380.0 L576.0 380.6 L577.8 376.6 L579.9 372.7 L582.4 369.6 L581.4 365.0 L584.5 362.0 L586.1 359.4 L588.0 356.9 L588.3 353.7 L589.7 349.0 L588.5 345.3 L588.7 341.5 L587.4 338.2 L584.2 336.8 L581.9 331.3 L580.8 327.8 L578.7 324.7 L578.7 323.5 L580.8 328.0 L583.9 329.6 L586.4 332.1 L588.3 335.1 L590.5 337.9 L591.4 334.4 L594.5 332.5 L596.5 329.1 L599.3 326.3 L602.6 323.5 L603.0 319.1 L602.7 315.5 L604.1 312.1 L606.0 308.7 L604.6 305.1 L603.9 301.3 L599.5 301.5 L600.9 297.9 L602.9 296.6 L603.9 292.6 L604.4 289.1 L604.5 293.7 L606.6 293.0 L608.7 288.6 L612.8 286.6 L617.7 283.8 L620.9 281.1 L624.0 280.7 L627.3 281.3 L630.3 280.1 L634.4 279.0 L638.5 277.9 L640.9 275.1 L644.5 276.0 L644.9 276.2 L644.5 272.9 L645.1 269.5 L645.0 266.1 L647.1 269.3 L649.3 272.4 L650.6 272.3 L654.2 270.6 L656.2 268.2 L657.8 265.5 L658.5 270.5 L660.8 268.1 L664.1 267.4 L669.4 265.8 L669.8 262.7 L668.5 258.3 L666.1 257.0 L663.8 257.3 L667.2 260.8 L668.7 262.9 L667.1 264.2 L663.8 265.7 L660.3 264.7 L659.0 261.2 L655.9 257.7 L654.6 254.4 L650.3 253.8 L651.5 250.2 L654.0 248.1 L656.0 245.5 L652.3 243.2 L651.6 240.5 L652.6 235.7 L653.0 232.2 L654.6 229.0 L655.0 225.6 L658.1 223.9 L659.2 220.2 L661.7 218.4 L664.7 217.6 L667.8 217.1 L670.2 215.2 L672.8 212.1 L676.1 209.7 L677.5 205.6 L677.3 201.3 L679.3 198.7 L680.9 201.7 L684.1 202.6 L689.8 201.7 L692.0 199.6 L694.1 197.5 L697.3 194.2 L701.6 192.7 L703.6 189.1 L707.2 187.1 L707.1 184.8 M569.4 438.9 L571.3 435.4 L573.3 431.8 L576.9 429.2 L579.4 425.6 L583.3 424.6 L587.1 423.1 L587.8 418.9 L587.5 414.6 L585.6 409.0 L583.3 405.3 L581.8 401.3 L580.4 397.3 L578.4 393.5 M603.0 297.9 L605.4 298.9 L608.7 297.5 L612.1 296.7 L615.6 296.0 L618.5 293.6 L621.7 292.0 L625.4 291.5 L628.9 290.6 L630.9 288.0 L633.5 286.4 L636.9 285.9 L639.1 283.6 L635.3 285.7 L632.5 287.0 L629.5 288.2 L633.3 286.6 L632.3 282.6 L628.6 284.2 L625.9 287.2 L622.2 288.6 L618.3 288.8 L614.7 288.8 L611.5 290.2 L606.9 293.4 L604.5 294.8 L603.0 297.9 M582.4 199.1 L579.1 200.2 L576.4 202.5 L573.0 203.4 L570.4 205.2 L569.9 208.7 L569.6 212.4 L565.6 213.2 L562.0 215.2 L559.4 218.3 L557.1 221.2 M557.1 221.2 L559.9 225.1 L560.7 228.1 L559.0 231.3 L560.6 234.3 L555.7 236.5 L553.4 238.6 L550.9 240.6 L547.7 241.4 L544.2 240.4 L541.2 243.2 L537.8 242.7 L534.8 242.1 L531.9 240.6 L528.7 241.4 L525.6 241.2 L522.6 240.7 L519.6 241.5 L516.4 241.8 L513.6 243.4 M513.6 243.4 L513.8 247.8 L516.1 250.7 L516.5 252.3 M516.5 252.3 L515.1 255.4 L512.5 257.7 L509.6 259.6 L507.2 261.9 L503.6 263.0 L502.5 266.8 L499.8 268.5 L496.8 269.7 L493.8 272.5 L489.8 273.8 L485.5 275.0 L481.7 277.4 L479.0 279.7 L475.7 281.1 L472.8 283.1 L469.9 285.2 L466.3 284.7 L463.2 286.9 L459.6 286.9 L456.2 286.5 L452.8 286.0 L451.1 284.2 L447.6 283.0 L443.0 283.8 L439.9 280.3 M439.9 280.3 L442.5 275.5 L445.1 271.6 L446.8 266.6 L449.3 265.4 L449.4 262.0 L451.0 259.0 L456.1 259.7 L456.6 255.5 L457.4 251.0 L458.1 247.3 L456.0 244.1 L454.8 241.1 L454.3 238.1 L454.3 234.9 L452.0 232.2 L451.8 228.7 L447.7 226.4 L444.9 227.7 L442.7 229.9 L440.2 234.2 L436.8 235.3 L433.6 236.7 L432.1 233.6 L432.8 230.3 L435.6 229.1 L437.8 226.9 L440.1 224.1 L441.9 221.2 L443.0 217.2 L442.8 213.1 L442.8 208.5 L440.7 203.9 L440.4 198.2 L436.6 196.9 L433.2 194.7 L430.8 191.5 L426.8 191.1 L423.6 188.7 L420.0 186.9 M420.0 186.9 L417.0 188.4 L414.0 189.7 L415.5 192.8 L416.2 196.2 L411.3 197.2 L406.4 199.9 L406.9 203.3 L407.0 206.8 L405.0 209.7 L404.7 204.4 L402.2 204.3 L398.1 206.5 L394.7 211.0 L394.9 212.6 L393.2 216.8 L393.0 221.3 L392.1 224.7 L390.7 228.1 L388.9 231.2 L389.0 234.9 L389.5 238.3 L389.9 241.7 L392.1 244.6 L392.0 248.2 L393.3 251.5 L393.9 255.0 L394.7 259.7 L392.2 263.7 L390.0 266.9 L388.2 270.4 L385.3 272.7 L383.3 275.9 L381.0 278.8 L377.4 279.3 L374.1 280.8 L370.4 278.7 M370.4 278.7 L369.0 274.5 L367.7 271.4 L366.9 268.1 L366.4 264.8 L366.7 260.2 L365.6 257.1 L367.5 253.8 L366.3 250.7 L366.0 247.6 L366.3 244.3 L366.4 240.9 L368.2 238.0 L370.3 235.2 L369.9 231.7 L370.9 227.8 L371.1 223.7 L371.5 220.5 L374.3 218.1 L374.0 214.7 L376.6 212.7 L377.8 209.9 L378.5 206.8 L380.9 203.8 L383.0 200.6 L383.8 196.7 L382.2 197.8 L379.8 200.1 L377.6 202.6 L376.1 205.6 L373.6 208.8 L370.1 211.0 L365.9 213.8 L368.2 209.8 L368.0 205.2 L370.7 203.1 L373.1 200.8 L376.4 199.2 L375.1 194.6 L378.4 193.0 L381.1 190.0 L382.7 186.3 L385.9 186.1 L388.4 184.3 L389.8 187.1 L390.6 190.1 L393.1 187.0 L394.9 183.4 L395.7 182.2 L399.3 182.3 L402.8 181.5 L406.2 180.3 L409.4 179.9 L412.6 180.3 L415.8 180.5 L417.3 183.3 L420.2 184.8 M420.2 184.8 L423.9 184.8 L426.9 182.6 L430.1 182.7 L433.3 182.7 L431.8 179.7 L430.2 176.2 L428.7 171.6 L426.3 170.4 M426.3 170.4 L422.3 171.5 L419.2 171.0 L416.0 170.6 L416.7 167.3 L416.9 164.0 L413.2 163.8 L409.8 165.4 L406.7 166.5 L403.5 166.9 L400.3 165.8 L397.0 167.4 L394.3 170.1 L390.6 171.0 L387.3 170.5 L384.3 169.1 L381.2 168.3 L378.0 167.6 L377.0 164.2 L375.2 161.0 L370.5 159.2 L365.9 157.7 L361.7 161.4 L362.8 156.4 L365.5 153.0 L369.4 151.0 L373.5 147.3 L370.1 146.0 L366.5 146.2 L364.1 149.7 L360.0 150.5 L356.9 151.9 L354.3 154.2 L352.2 157.4 L348.5 158.2 L345.4 159.8 L342.1 159.2 L339.0 159.9 L336.5 161.9 L333.7 163.5 L330.6 164.0 L325.1 162.4 L322.7 162.7 L323.8 159.2 L325.7 156.0 L323.4 154.6 L318.6 156.1 L315.2 156.7 L312.0 158.1 L308.8 159.1 L304.2 157.4 M304.2 156.8 L307.9 154.3 L311.5 151.9 L314.4 150.7 L315.7 147.5 L318.4 146.1 L321.2 143.7 L324.6 142.0 L327.5 139.9 L331.3 139.6 L333.9 137.0 L337.3 136.7 L340.0 134.7 L343.3 134.4 L345.6 132.1 L348.1 129.9 L350.6 127.8 L352.5 123.3 L355.6 122.6 L358.8 122.9 L361.8 121.6 L363.2 118.4 L365.9 116.0 L367.0 112.6 M345.6 132.1 L342.9 130.1 L339.7 129.3 L335.7 129.6 L331.9 128.7 L328.1 128.4 L324.7 128.5 L321.3 127.0 L318.0 128.6 L316.5 124.5 L312.1 124.2 L309.3 121.9 L305.7 119.8 L302.0 117.7 M426.3 170.4 L423.6 167.8 L425.0 164.2 L424.1 161.1 L423.0 157.1 L421.9 153.0 L420.4 147.2 L416.6 143.6 L416.5 139.9 L418.3 136.7 L415.4 135.6 L412.0 137.2 L409.1 135.3 L406.8 132.6 L405.0 129.6 L402.0 127.4 L401.4 123.5 L398.7 121.1 L398.2 117.2 L395.9 114.0 M426.3 170.4 L430.3 170.4 L433.4 175.1 L437.7 175.1 L441.4 177.5 L444.6 176.2 L447.7 177.5 L450.9 178.4 L454.1 178.2 L457.3 178.6 L460.7 178.1 L463.7 179.7 L467.8 180.9 L471.7 182.6 L475.0 182.8 L478.2 183.0 L481.4 183.3 L484.3 185.4 L487.9 186.2 L489.2 189.0 L489.9 192.3 L492.9 194.1 L495.4 196.3 L494.7 200.5 L496.5 204.3 L498.1 207.0 L500.7 208.8 L498.3 210.0 L496.8 215.8 L493.6 215.9 L490.5 213.9 L486.9 213.8 L481.2 214.4 L480.3 209.4 L476.2 206.0 L474.7 202.9 L472.0 201.0 L469.3 199.2 L472.0 201.7 L472.1 205.7 L474.6 208.3 L474.4 212.3 L474.4 216.4 L471.0 219.4 L470.2 223.8 L469.7 227.1 L468.9 230.3 L468.9 233.7 L468.5 237.1 L467.1 240.5 L468.5 244.0 L464.4 246.3 L461.0 248.5 L457.7 251.0 L456.9 256.7 L456.1 260.1 L457.0 265.9 L453.6 266.4 L450.2 266.6 L445.9 268.2 L445.6 272.7 L449.3 274.3 L452.8 274.0 L456.1 273.2 L459.3 271.0 L463.0 269.6 L466.3 267.6 L468.8 265.4 L471.4 263.4 L474.9 262.3 L476.3 258.8 L480.5 258.3 L484.7 258.6 L488.1 259.5 L491.5 260.3 L493.8 257.6 L496.4 255.3 L499.9 255.2 L502.9 253.0 L506.4 253.4 L510.6 252.3 L514.8 252.6 L516.1 251.8 M446.1 185.5 L450.2 186.7 L454.2 187.8 L457.2 189.8 L460.6 190.8 L463.8 192.4 L469.5 191.2 L467.8 187.3 L467.0 183.1 L462.9 183.7 L458.9 182.7 L455.7 182.4 L452.5 181.8 L449.3 183.2 L446.1 185.5 M513.2 243.4 L507.8 245.3 L504.5 244.0 L501.0 243.2 L503.3 240.7 L505.6 238.3 L507.4 235.4 L509.6 232.8 L512.6 231.3 L515.5 229.6 L519.1 228.7 L522.9 228.6 L526.5 227.6 L530.2 227.0 L534.1 225.1 L538.4 225.4 L542.3 227.8 L546.9 228.3 L549.9 224.7 L553.4 222.8 L554.5 219.1 L558.4 217.2 L562.5 215.7 L564.8 213.5 L566.7 211.0 L568.5 208.3 L571.5 206.3 L572.6 202.4 L576.0 200.8 L579.8 200.7 L582.3 197.9 M662.4 110.3 L661.2 113.1 L658.3 114.9 L657.7 118.0 L656.2 120.6 L654.7 123.4 L652.8 125.9 L651.0 128.4 L648.5 131.8 L647.4 135.9 L646.2 140.0 L643.7 143.4 L641.1 146.4 L638.0 148.9 L635.7 151.0 L632.9 152.3 L633.2 148.8 L636.2 146.8 L639.1 143.6 L639.9 139.3 L642.3 136.4 L643.8 132.9 L645.5 130.0 L648.1 127.5 L648.8 124.0 L650.0 120.4 L652.6 117.7 L653.7 114.7 L656.3 112.4 L656.0 109.0 M351.7 134.8 L355.3 134.1 L358.1 131.8 L360.0 128.6 L363.7 129.1 L359.6 133.0 L356.3 136.9 L351.7 134.8 M401.1 141.6 L404.1 140.1 L407.4 140.4 L405.0 142.6 L401.1 141.6 M604.2 196.7 L603.9 200.0 L605.9 202.8 L606.0 206.0 L606.3 209.1 L605.6 212.2 L606.2 215.2 L607.0 218.3 L606.1 221.4 L606.3 224.4 L606.7 221.3 L606.1 218.3 L605.4 215.3 L605.3 212.2 L604.0 209.3 L604.1 206.2 L604.3 203.1 L603.3 200.1 L603.4 197.0 M568.9 384.4 L566.7 381.6 L563.2 380.9 L560.6 377.7 L556.7 379.0 L551.1 377.1 M567.6 378.3 L564.6 376.9 L561.3 376.1 L559.9 372.6 M568.8 370.1 L565.7 368.4 L563.3 365.7 L560.2 363.9 L558.4 361.0 L555.4 359.6 M568.0 347.3 L573.5 348.0 M566.7 341.6 L571.9 339.7 M572.2 355.0 L575.7 353.1 M567.8 332.4 L572.2 330.9 M564.9 353.9 L563.2 350.3 L560.0 347.8 M568.7 420.6 L565.3 420.4 L562.2 419.4 L559.2 417.8 M566.6 430.0 L563.0 427.7 L558.9 427.7 M577.0 405.8 L573.7 406.8 L570.5 404.9 L567.2 406.2 L564.0 406.0 M577.2 408.5 L576.7 414.3 M299.8 535.9 L303.0 536.0 L305.9 534.8 L308.5 537.0 L311.7 538.0 L309.3 542.5 L306.3 541.8 L303.3 542.5 L299.1 539.4 L299.8 535.9 M295.8 535.6 L298.8 535.9 L298.6 538.2 L295.6 537.9 L295.8 535.6 M299.9 559.2 L304.2 556.0 L307.4 554.0 M291.6 562.0 L293.1 556.3 M283.6 560.1 L286.0 555.7 M316.4 555.8 L311.4 554.3 L308.8 549.4 M349.0 532.4 L350.7 537.1 M520.4 472.7 L518.3 469.3 M507.3 484.0 L505.3 481.3 M478.1 532.2 L475.1 531.5 M579.8 326.9 L577.7 323.2 M659.2 220.2 L662.8 216.3 M679.3 198.7 L678.5 193.0 M656.0 275.0 L659.5 271.8 L662.3 273.0 L659.9 274.7 L656.0 275.0 M666.9 274.7 L670.2 273.7 L671.0 275.3 L667.9 275.9 L666.9 274.7 M646.0 267.1 L647.1 272.7 M645.3 268.3 L646.2 272.8 M647.3 268.1 L648.4 272.5 M643.3 280.1 L644.2 280.5 L643.8 281.2 L643.3 280.1 M631.6 283.4 L634.9 281.8 M434.1 182.0 L439.8 180.2 L438.9 183.2 L434.1 182.0 M405.9 188.3 L407.6 187.2 L407.5 190.7 L405.9 188.3 M326.7 153.8 L329.9 152.9 L328.2 155.0 L326.7 153.8" fill="none" stroke="#000" stroke-width="1.45" stroke-linejoin="round"/>
</g>
<rect x="192.4" y="117.0" width="510.3" height="452.2" fill="none" stroke="#000" stroke-width="1.2"/>
<line x1="180.8" y1="159.4" x2="192.4" y2="159.4" stroke="#000" stroke-width="0.9"/>
<line x1="180.8" y1="206.3" x2="192.4" y2="206.3" stroke="#000" stroke-width="0.9"/>
<line x1="180.8" y1="252.6" x2="192.4" y2="252.6" stroke="#000" stroke-width="0.9"/>
<line x1="180.8" y1="298.9" x2="192.4" y2="298.9" stroke="#000" stroke-width="0.9"/>
<line x1="180.8" y1="345.2" x2="192.4" y2="345.2" stroke="#000" stroke-width="0.9"/>
<line x1="180.8" y1="391.3" x2="192.4" y2="391.3" stroke="#000" stroke-width="0.9"/>
<line x1="180.8" y1="437.5" x2="192.4" y2="437.5" stroke="#000" stroke-width="0.9"/>
<line x1="180.8" y1="483.8" x2="192.4" y2="483.8" stroke="#000" stroke-width="0.9"/>
<line x1="180.8" y1="530" x2="192.4" y2="530" stroke="#000" stroke-width="0.9"/>
<line x1="202.4" y1="569.2" x2="202.4" y2="580.5" stroke="#000" stroke-width="0.9"/>
<line x1="304.8" y1="569.2" x2="304.8" y2="580.5" stroke="#000" stroke-width="0.9"/>
<line x1="406.3" y1="569.2" x2="406.3" y2="580.5" stroke="#000" stroke-width="0.9"/>
<line x1="508.5" y1="569.2" x2="508.5" y2="580.5" stroke="#000" stroke-width="0.9"/>
<line x1="610" y1="569.2" x2="610" y2="580.5" stroke="#000" stroke-width="0.9"/>
<rect x="228.40" y="633" width="36.50" height="18" fill="#FCFCFC" stroke="#000" stroke-width="0.6"/>
<rect x="264.90" y="633" width="36.50" height="18" fill="#F7F7F7" stroke="#000" stroke-width="0.6"/>
<rect x="301.40" y="633" width="36.50" height="18" fill="#F0F0F0" stroke="#000" stroke-width="0.6"/>
<rect x="337.90" y="633" width="36.50" height="18" fill="#E5E5E5" stroke="#000" stroke-width="0.6"/>
<rect x="374.40" y="633" width="36.50" height="18" fill="#D9D9D9" stroke="#000" stroke-width="0.6"/>
<rect x="410.90" y="633" width="36.50" height="18" fill="#FFE4B5" stroke="#000" stroke-width="0.6"/>
<rect x="447.40" y="633" width="36.50" height="18" fill="#F5DEB3" stroke="#000" stroke-width="0.6"/>
<rect x="483.90" y="633" width="36.50" height="18" fill="#D2B48C" stroke="#000" stroke-width="0.6"/>
<rect x="520.40" y="633" width="36.50" height="18" fill="#CD6600" stroke="#000" stroke-width="0.6"/>
<rect x="556.90" y="633" width="36.50" height="18" fill="#A52A2A" stroke="#000" stroke-width="0.6"/>
<rect x="593.40" y="633" width="36.50" height="18" fill="#CD2626" stroke="#000" stroke-width="0.6"/>
<rect x="629.90" y="633" width="36.50" height="18" fill="#000000" stroke="#000" stroke-width="0.6"/>
<g style="filter:grayscale(1)">
<text x="191" y="25.6" font-size="17.65" text-anchor="start" >IWFAQRP Eastern US Real Time WRF</text>
<text x="703.6" y="24.6" font-size="11.85" text-anchor="end" >Init: 2025-12-04_00:00:00</text>
<text x="703.6" y="37.9" font-size="11.85" text-anchor="end" >Valid: 2025-12-09_09:00:00</text>
<text x="193.5" y="103" font-size="11.8" text-anchor="start" >Low Level Turbulence Index</text>
<text x="173.5" y="163.6" font-size="11.8" text-anchor="end" >46°N</text>
<text x="173.5" y="210.5" font-size="11.8" text-anchor="end" >44°N</text>
<text x="173.5" y="256.8" font-size="11.8" text-anchor="end" >42°N</text>
<text x="173.5" y="303.09999999999997" font-size="11.8" text-anchor="end" >40°N</text>
<text x="173.5" y="349.4" font-size="11.8" text-anchor="end" >38°N</text>
<text x="173.5" y="395.5" font-size="11.8" text-anchor="end" >36°N</text>
<text x="173.5" y="441.7" font-size="11.8" text-anchor="end" >34°N</text>
<text x="173.5" y="488.0" font-size="11.8" text-anchor="end" >32°N</text>
<text x="173.5" y="534.2" font-size="11.8" text-anchor="end" >30°N</text>
<text x="202.4" y="597.7" font-size="11.8" text-anchor="middle" >95°W</text>
<text x="304.8" y="597.7" font-size="11.8" text-anchor="middle" >90°W</text>
<text x="406.3" y="597.7" font-size="11.8" text-anchor="middle" >85°W</text>
<text x="508.5" y="597.7" font-size="11.8" text-anchor="middle" >80°W</text>
<text x="610" y="597.7" font-size="11.8" text-anchor="middle" >75°W</text>
<text x="264.9" y="674" font-size="11.8" text-anchor="middle" >.0</text>
<text x="301.4" y="674" font-size="11.8" text-anchor="middle" >.1</text>
<text x="337.9" y="674" font-size="11.8" text-anchor="middle" >.2</text>
<text x="374.4" y="674" font-size="11.8" text-anchor="middle" >.3</text>
<text x="410.9" y="674" font-size="11.8" text-anchor="middle" >.4</text>
<text x="447.4" y="674" font-size="11.8" text-anchor="middle" >.5</text>
<text x="483.9" y="674" font-size="11.8" text-anchor="middle" >.6</text>
<text x="520.4" y="674" font-size="11.8" text-anchor="middle" >.7</text>
<text x="556.9" y="674" font-size="11.8" text-anchor="middle" >.8</text>
<text x="593.4" y="674" font-size="11.8" text-anchor="middle" >.9</text>
<text x="629.9" y="674" font-size="11.8" text-anchor="middle" >1</text>
<text x="447.2" y="628.6" font-size="12.55" text-anchor="middle" >Low Level Turbulence Index</text>
<text x="193.2" y="826" font-size="10.58" text-anchor="start" >OUTPUT FROM WRF V4.6.1 MODEL</text>
<text x="193.2" y="838" font-size="10.58" text-anchor="start" >WE = 310 ; SN = 275 ; Levels = 38 ; Dis = 8km ; Phys Opt = 8 ; PBL Opt = 1 ; Cu Opt = 3</text>
</g>
</svg>
</body></html>
